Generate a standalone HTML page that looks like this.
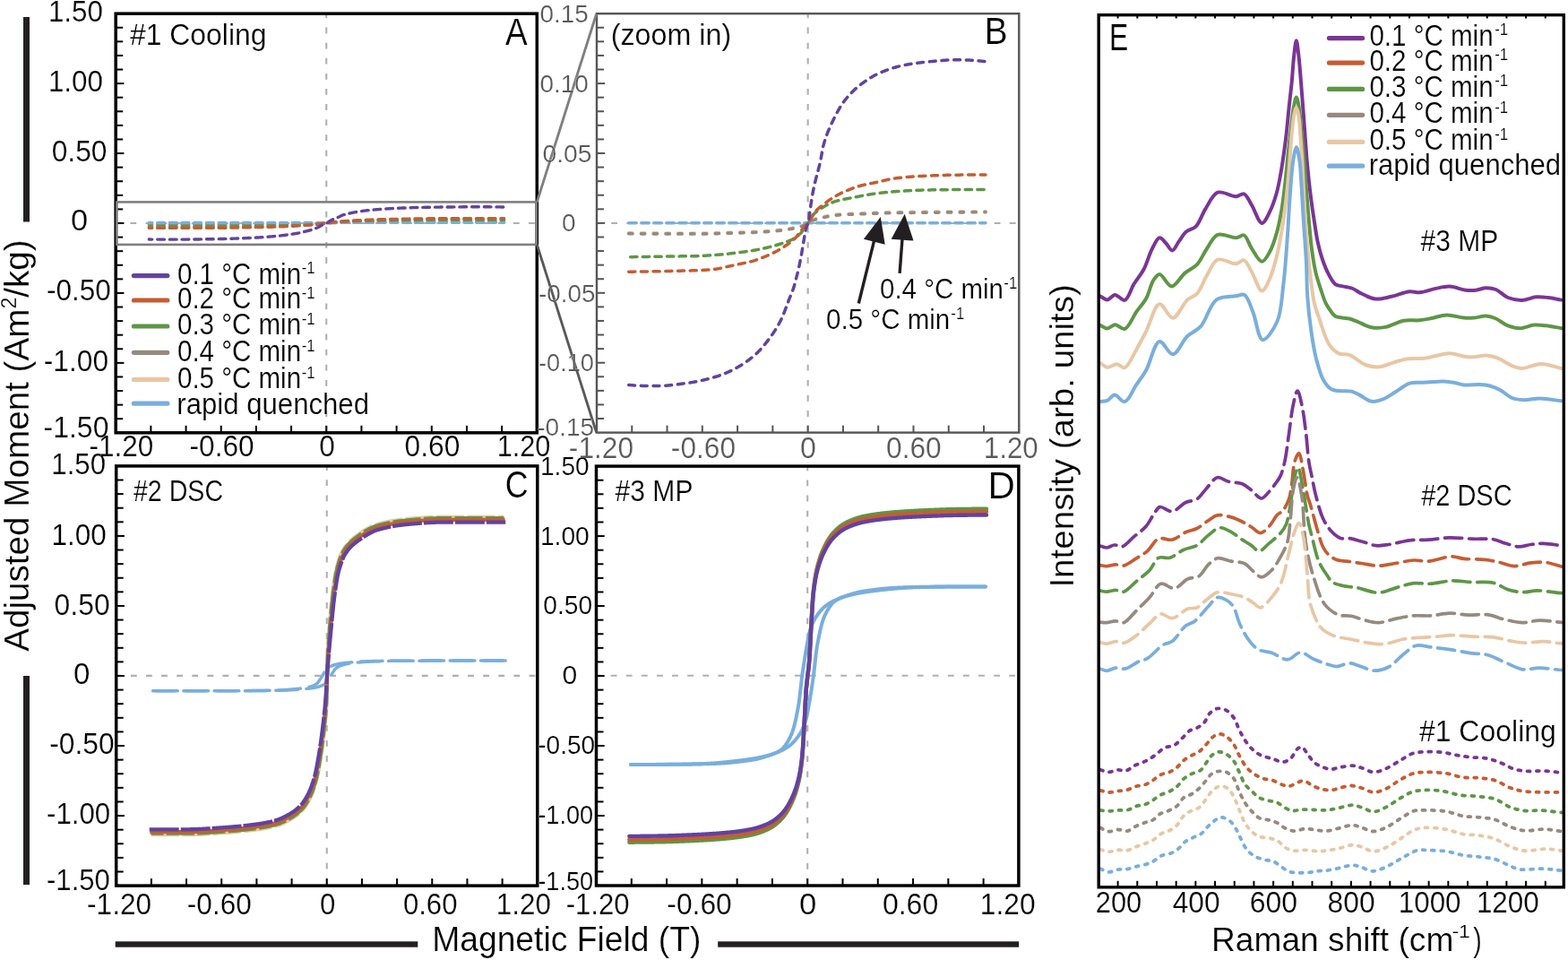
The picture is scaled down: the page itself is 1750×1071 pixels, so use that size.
<!DOCTYPE html>
<html><head><meta charset="utf-8"><title>Figure</title>
<style>html,body{margin:0;padding:0;background:#fff;overflow:hidden}svg{display:block}text{stroke:#fff;stroke-width:0.22px}</style>
</head><body>
<svg width="1750" height="1071" viewBox="0 0 1750 1071" font-family='"Liberation Sans", Arial, sans-serif'>
<rect width="1750" height="1071" fill="#fff"/>
<line x1="129.2" y1="249" x2="599.3" y2="249" stroke="#b0b0b0" stroke-width="2.1" stroke-dasharray="6.8 10.3" stroke-dashoffset="0.9"/>
<line x1="364.25" y1="15.2" x2="364.25" y2="482.8" stroke="#b0b0b0" stroke-width="2.1" stroke-dasharray="6.8 10.3" stroke-dashoffset="1.7"/>
<line x1="129.2" y1="30.79" x2="137.2" y2="30.79" stroke="#000" stroke-width="2" stroke-linecap="butt"/>
<line x1="129.2" y1="46.37" x2="137.2" y2="46.37" stroke="#000" stroke-width="2" stroke-linecap="butt"/>
<line x1="129.2" y1="61.96" x2="137.2" y2="61.96" stroke="#000" stroke-width="2" stroke-linecap="butt"/>
<line x1="129.2" y1="77.55" x2="137.2" y2="77.55" stroke="#000" stroke-width="2" stroke-linecap="butt"/>
<line x1="129.2" y1="93.13" x2="138.4" y2="93.13" stroke="#000" stroke-width="2" stroke-linecap="butt"/>
<line x1="129.2" y1="108.72" x2="137.2" y2="108.72" stroke="#000" stroke-width="2" stroke-linecap="butt"/>
<line x1="129.2" y1="124.31" x2="137.2" y2="124.31" stroke="#000" stroke-width="2" stroke-linecap="butt"/>
<line x1="129.2" y1="139.89" x2="137.2" y2="139.89" stroke="#000" stroke-width="2" stroke-linecap="butt"/>
<line x1="129.2" y1="155.48" x2="137.2" y2="155.48" stroke="#000" stroke-width="2" stroke-linecap="butt"/>
<line x1="129.2" y1="171.07" x2="138.4" y2="171.07" stroke="#000" stroke-width="2" stroke-linecap="butt"/>
<line x1="129.2" y1="186.65" x2="137.2" y2="186.65" stroke="#000" stroke-width="2" stroke-linecap="butt"/>
<line x1="129.2" y1="202.24" x2="137.2" y2="202.24" stroke="#000" stroke-width="2" stroke-linecap="butt"/>
<line x1="129.2" y1="217.83" x2="137.2" y2="217.83" stroke="#000" stroke-width="2" stroke-linecap="butt"/>
<line x1="129.2" y1="233.41" x2="137.2" y2="233.41" stroke="#000" stroke-width="2" stroke-linecap="butt"/>
<line x1="129.2" y1="249" x2="138.4" y2="249" stroke="#000" stroke-width="2" stroke-linecap="butt"/>
<line x1="129.2" y1="264.59" x2="137.2" y2="264.59" stroke="#000" stroke-width="2" stroke-linecap="butt"/>
<line x1="129.2" y1="280.17" x2="137.2" y2="280.17" stroke="#000" stroke-width="2" stroke-linecap="butt"/>
<line x1="129.2" y1="295.76" x2="137.2" y2="295.76" stroke="#000" stroke-width="2" stroke-linecap="butt"/>
<line x1="129.2" y1="311.35" x2="137.2" y2="311.35" stroke="#000" stroke-width="2" stroke-linecap="butt"/>
<line x1="129.2" y1="326.93" x2="138.4" y2="326.93" stroke="#000" stroke-width="2" stroke-linecap="butt"/>
<line x1="129.2" y1="342.52" x2="137.2" y2="342.52" stroke="#000" stroke-width="2" stroke-linecap="butt"/>
<line x1="129.2" y1="358.11" x2="137.2" y2="358.11" stroke="#000" stroke-width="2" stroke-linecap="butt"/>
<line x1="129.2" y1="373.69" x2="137.2" y2="373.69" stroke="#000" stroke-width="2" stroke-linecap="butt"/>
<line x1="129.2" y1="389.28" x2="137.2" y2="389.28" stroke="#000" stroke-width="2" stroke-linecap="butt"/>
<line x1="129.2" y1="404.87" x2="138.4" y2="404.87" stroke="#000" stroke-width="2" stroke-linecap="butt"/>
<line x1="129.2" y1="420.45" x2="137.2" y2="420.45" stroke="#000" stroke-width="2" stroke-linecap="butt"/>
<line x1="129.2" y1="436.04" x2="137.2" y2="436.04" stroke="#000" stroke-width="2" stroke-linecap="butt"/>
<line x1="129.2" y1="451.63" x2="137.2" y2="451.63" stroke="#000" stroke-width="2" stroke-linecap="butt"/>
<line x1="129.2" y1="467.21" x2="137.2" y2="467.21" stroke="#000" stroke-width="2" stroke-linecap="butt"/>
<line x1="168.38" y1="482.8" x2="168.38" y2="474.8" stroke="#000" stroke-width="2" stroke-linecap="butt"/>
<line x1="207.55" y1="482.8" x2="207.55" y2="474.8" stroke="#000" stroke-width="2" stroke-linecap="butt"/>
<line x1="246.72" y1="482.8" x2="246.72" y2="474.8" stroke="#000" stroke-width="2" stroke-linecap="butt"/>
<line x1="285.9" y1="482.8" x2="285.9" y2="474.8" stroke="#000" stroke-width="2" stroke-linecap="butt"/>
<line x1="325.07" y1="482.8" x2="325.07" y2="474.8" stroke="#000" stroke-width="2" stroke-linecap="butt"/>
<line x1="364.25" y1="482.8" x2="364.25" y2="474.8" stroke="#000" stroke-width="2" stroke-linecap="butt"/>
<line x1="403.43" y1="482.8" x2="403.43" y2="474.8" stroke="#000" stroke-width="2" stroke-linecap="butt"/>
<line x1="442.6" y1="482.8" x2="442.6" y2="474.8" stroke="#000" stroke-width="2" stroke-linecap="butt"/>
<line x1="481.78" y1="482.8" x2="481.78" y2="474.8" stroke="#000" stroke-width="2" stroke-linecap="butt"/>
<line x1="520.95" y1="482.8" x2="520.95" y2="474.8" stroke="#000" stroke-width="2" stroke-linecap="butt"/>
<line x1="560.12" y1="482.8" x2="560.12" y2="474.8" stroke="#000" stroke-width="2" stroke-linecap="butt"/>
<rect x="129.2" y="15.2" width="470.1" height="467.6" fill="none" stroke="#000" stroke-width="3.5"/>
<line x1="666" y1="249" x2="1137.3" y2="249" stroke="#b0b0b0" stroke-width="2.1" stroke-dasharray="6.8 10.3" stroke-dashoffset="0.9"/>
<line x1="901.65" y1="15.2" x2="901.65" y2="482.6" stroke="#b0b0b0" stroke-width="2.1" stroke-dasharray="6.8 10.3" stroke-dashoffset="1.7"/>
<line x1="666" y1="30.78" x2="674" y2="30.78" stroke="#555" stroke-width="2" stroke-linecap="butt"/>
<line x1="666" y1="46.36" x2="674" y2="46.36" stroke="#555" stroke-width="2" stroke-linecap="butt"/>
<line x1="666" y1="61.94" x2="674" y2="61.94" stroke="#555" stroke-width="2" stroke-linecap="butt"/>
<line x1="666" y1="77.52" x2="674" y2="77.52" stroke="#555" stroke-width="2" stroke-linecap="butt"/>
<line x1="666" y1="93.1" x2="675.2" y2="93.1" stroke="#555" stroke-width="2" stroke-linecap="butt"/>
<line x1="666" y1="108.68" x2="674" y2="108.68" stroke="#555" stroke-width="2" stroke-linecap="butt"/>
<line x1="666" y1="124.26" x2="674" y2="124.26" stroke="#555" stroke-width="2" stroke-linecap="butt"/>
<line x1="666" y1="139.84" x2="674" y2="139.84" stroke="#555" stroke-width="2" stroke-linecap="butt"/>
<line x1="666" y1="155.42" x2="674" y2="155.42" stroke="#555" stroke-width="2" stroke-linecap="butt"/>
<line x1="666" y1="171" x2="675.2" y2="171" stroke="#555" stroke-width="2" stroke-linecap="butt"/>
<line x1="666" y1="186.58" x2="674" y2="186.58" stroke="#555" stroke-width="2" stroke-linecap="butt"/>
<line x1="666" y1="202.16" x2="674" y2="202.16" stroke="#555" stroke-width="2" stroke-linecap="butt"/>
<line x1="666" y1="217.74" x2="674" y2="217.74" stroke="#555" stroke-width="2" stroke-linecap="butt"/>
<line x1="666" y1="233.32" x2="674" y2="233.32" stroke="#555" stroke-width="2" stroke-linecap="butt"/>
<line x1="666" y1="248.9" x2="675.2" y2="248.9" stroke="#555" stroke-width="2" stroke-linecap="butt"/>
<line x1="666" y1="264.48" x2="674" y2="264.48" stroke="#555" stroke-width="2" stroke-linecap="butt"/>
<line x1="666" y1="280.06" x2="674" y2="280.06" stroke="#555" stroke-width="2" stroke-linecap="butt"/>
<line x1="666" y1="295.64" x2="674" y2="295.64" stroke="#555" stroke-width="2" stroke-linecap="butt"/>
<line x1="666" y1="311.22" x2="674" y2="311.22" stroke="#555" stroke-width="2" stroke-linecap="butt"/>
<line x1="666" y1="326.8" x2="675.2" y2="326.8" stroke="#555" stroke-width="2" stroke-linecap="butt"/>
<line x1="666" y1="342.38" x2="674" y2="342.38" stroke="#555" stroke-width="2" stroke-linecap="butt"/>
<line x1="666" y1="357.96" x2="674" y2="357.96" stroke="#555" stroke-width="2" stroke-linecap="butt"/>
<line x1="666" y1="373.54" x2="674" y2="373.54" stroke="#555" stroke-width="2" stroke-linecap="butt"/>
<line x1="666" y1="389.12" x2="674" y2="389.12" stroke="#555" stroke-width="2" stroke-linecap="butt"/>
<line x1="666" y1="404.7" x2="675.2" y2="404.7" stroke="#555" stroke-width="2" stroke-linecap="butt"/>
<line x1="666" y1="420.28" x2="674" y2="420.28" stroke="#555" stroke-width="2" stroke-linecap="butt"/>
<line x1="666" y1="435.86" x2="674" y2="435.86" stroke="#555" stroke-width="2" stroke-linecap="butt"/>
<line x1="666" y1="451.44" x2="674" y2="451.44" stroke="#555" stroke-width="2" stroke-linecap="butt"/>
<line x1="666" y1="467.02" x2="674" y2="467.02" stroke="#555" stroke-width="2" stroke-linecap="butt"/>
<line x1="705.27" y1="482.6" x2="705.27" y2="474.6" stroke="#555" stroke-width="2" stroke-linecap="butt"/>
<line x1="744.55" y1="482.6" x2="744.55" y2="474.6" stroke="#555" stroke-width="2" stroke-linecap="butt"/>
<line x1="783.82" y1="482.6" x2="783.82" y2="474.6" stroke="#555" stroke-width="2" stroke-linecap="butt"/>
<line x1="823.1" y1="482.6" x2="823.1" y2="474.6" stroke="#555" stroke-width="2" stroke-linecap="butt"/>
<line x1="862.38" y1="482.6" x2="862.38" y2="474.6" stroke="#555" stroke-width="2" stroke-linecap="butt"/>
<line x1="901.65" y1="482.6" x2="901.65" y2="474.6" stroke="#555" stroke-width="2" stroke-linecap="butt"/>
<line x1="940.92" y1="482.6" x2="940.92" y2="474.6" stroke="#555" stroke-width="2" stroke-linecap="butt"/>
<line x1="980.2" y1="482.6" x2="980.2" y2="474.6" stroke="#555" stroke-width="2" stroke-linecap="butt"/>
<line x1="1019.48" y1="482.6" x2="1019.48" y2="474.6" stroke="#555" stroke-width="2" stroke-linecap="butt"/>
<line x1="1058.75" y1="482.6" x2="1058.75" y2="474.6" stroke="#555" stroke-width="2" stroke-linecap="butt"/>
<line x1="1098.03" y1="482.6" x2="1098.03" y2="474.6" stroke="#555" stroke-width="2" stroke-linecap="butt"/>
<rect x="666" y="15.2" width="471.3" height="467.4" fill="none" stroke="#555" stroke-width="2.4"/>
<line x1="129.7" y1="753.9" x2="599.8" y2="753.9" stroke="#b0b0b0" stroke-width="2.1" stroke-dasharray="6.8 10.3" stroke-dashoffset="0.9"/>
<line x1="364.75" y1="519.9" x2="364.75" y2="988.1" stroke="#b0b0b0" stroke-width="2.1" stroke-dasharray="6.8 10.3" stroke-dashoffset="1.7"/>
<line x1="129.7" y1="535.51" x2="137.7" y2="535.51" stroke="#000" stroke-width="2" stroke-linecap="butt"/>
<line x1="129.7" y1="551.11" x2="137.7" y2="551.11" stroke="#000" stroke-width="2" stroke-linecap="butt"/>
<line x1="129.7" y1="566.72" x2="137.7" y2="566.72" stroke="#000" stroke-width="2" stroke-linecap="butt"/>
<line x1="129.7" y1="582.33" x2="137.7" y2="582.33" stroke="#000" stroke-width="2" stroke-linecap="butt"/>
<line x1="129.7" y1="597.93" x2="138.9" y2="597.93" stroke="#000" stroke-width="2" stroke-linecap="butt"/>
<line x1="129.7" y1="613.54" x2="137.7" y2="613.54" stroke="#000" stroke-width="2" stroke-linecap="butt"/>
<line x1="129.7" y1="629.15" x2="137.7" y2="629.15" stroke="#000" stroke-width="2" stroke-linecap="butt"/>
<line x1="129.7" y1="644.75" x2="137.7" y2="644.75" stroke="#000" stroke-width="2" stroke-linecap="butt"/>
<line x1="129.7" y1="660.36" x2="137.7" y2="660.36" stroke="#000" stroke-width="2" stroke-linecap="butt"/>
<line x1="129.7" y1="675.97" x2="138.9" y2="675.97" stroke="#000" stroke-width="2" stroke-linecap="butt"/>
<line x1="129.7" y1="691.57" x2="137.7" y2="691.57" stroke="#000" stroke-width="2" stroke-linecap="butt"/>
<line x1="129.7" y1="707.18" x2="137.7" y2="707.18" stroke="#000" stroke-width="2" stroke-linecap="butt"/>
<line x1="129.7" y1="722.79" x2="137.7" y2="722.79" stroke="#000" stroke-width="2" stroke-linecap="butt"/>
<line x1="129.7" y1="738.39" x2="137.7" y2="738.39" stroke="#000" stroke-width="2" stroke-linecap="butt"/>
<line x1="129.7" y1="754" x2="138.9" y2="754" stroke="#000" stroke-width="2" stroke-linecap="butt"/>
<line x1="129.7" y1="769.61" x2="137.7" y2="769.61" stroke="#000" stroke-width="2" stroke-linecap="butt"/>
<line x1="129.7" y1="785.21" x2="137.7" y2="785.21" stroke="#000" stroke-width="2" stroke-linecap="butt"/>
<line x1="129.7" y1="800.82" x2="137.7" y2="800.82" stroke="#000" stroke-width="2" stroke-linecap="butt"/>
<line x1="129.7" y1="816.43" x2="137.7" y2="816.43" stroke="#000" stroke-width="2" stroke-linecap="butt"/>
<line x1="129.7" y1="832.03" x2="138.9" y2="832.03" stroke="#000" stroke-width="2" stroke-linecap="butt"/>
<line x1="129.7" y1="847.64" x2="137.7" y2="847.64" stroke="#000" stroke-width="2" stroke-linecap="butt"/>
<line x1="129.7" y1="863.25" x2="137.7" y2="863.25" stroke="#000" stroke-width="2" stroke-linecap="butt"/>
<line x1="129.7" y1="878.85" x2="137.7" y2="878.85" stroke="#000" stroke-width="2" stroke-linecap="butt"/>
<line x1="129.7" y1="894.46" x2="137.7" y2="894.46" stroke="#000" stroke-width="2" stroke-linecap="butt"/>
<line x1="129.7" y1="910.07" x2="138.9" y2="910.07" stroke="#000" stroke-width="2" stroke-linecap="butt"/>
<line x1="129.7" y1="925.67" x2="137.7" y2="925.67" stroke="#000" stroke-width="2" stroke-linecap="butt"/>
<line x1="129.7" y1="941.28" x2="137.7" y2="941.28" stroke="#000" stroke-width="2" stroke-linecap="butt"/>
<line x1="129.7" y1="956.89" x2="137.7" y2="956.89" stroke="#000" stroke-width="2" stroke-linecap="butt"/>
<line x1="129.7" y1="972.49" x2="137.7" y2="972.49" stroke="#000" stroke-width="2" stroke-linecap="butt"/>
<line x1="168.88" y1="988.1" x2="168.88" y2="980.1" stroke="#000" stroke-width="2" stroke-linecap="butt"/>
<line x1="208.05" y1="988.1" x2="208.05" y2="980.1" stroke="#000" stroke-width="2" stroke-linecap="butt"/>
<line x1="247.22" y1="988.1" x2="247.22" y2="980.1" stroke="#000" stroke-width="2" stroke-linecap="butt"/>
<line x1="286.4" y1="988.1" x2="286.4" y2="980.1" stroke="#000" stroke-width="2" stroke-linecap="butt"/>
<line x1="325.57" y1="988.1" x2="325.57" y2="980.1" stroke="#000" stroke-width="2" stroke-linecap="butt"/>
<line x1="364.75" y1="988.1" x2="364.75" y2="980.1" stroke="#000" stroke-width="2" stroke-linecap="butt"/>
<line x1="403.93" y1="988.1" x2="403.93" y2="980.1" stroke="#000" stroke-width="2" stroke-linecap="butt"/>
<line x1="443.1" y1="988.1" x2="443.1" y2="980.1" stroke="#000" stroke-width="2" stroke-linecap="butt"/>
<line x1="482.28" y1="988.1" x2="482.28" y2="980.1" stroke="#000" stroke-width="2" stroke-linecap="butt"/>
<line x1="521.45" y1="988.1" x2="521.45" y2="980.1" stroke="#000" stroke-width="2" stroke-linecap="butt"/>
<line x1="560.62" y1="988.1" x2="560.62" y2="980.1" stroke="#000" stroke-width="2" stroke-linecap="butt"/>
<rect x="129.7" y="519.9" width="470.1" height="468.2" fill="none" stroke="#000" stroke-width="3.5"/>
<line x1="665.5" y1="753.7" x2="1136.9" y2="753.7" stroke="#b0b0b0" stroke-width="2.1" stroke-dasharray="6.8 10.3" stroke-dashoffset="0.9"/>
<line x1="901.2" y1="520.1" x2="901.2" y2="988" stroke="#b0b0b0" stroke-width="2.1" stroke-dasharray="6.8 10.3" stroke-dashoffset="1.7"/>
<line x1="665.5" y1="535.7" x2="673.5" y2="535.7" stroke="#000" stroke-width="2" stroke-linecap="butt"/>
<line x1="665.5" y1="551.29" x2="673.5" y2="551.29" stroke="#000" stroke-width="2" stroke-linecap="butt"/>
<line x1="665.5" y1="566.89" x2="673.5" y2="566.89" stroke="#000" stroke-width="2" stroke-linecap="butt"/>
<line x1="665.5" y1="582.49" x2="673.5" y2="582.49" stroke="#000" stroke-width="2" stroke-linecap="butt"/>
<line x1="665.5" y1="598.08" x2="674.7" y2="598.08" stroke="#000" stroke-width="2" stroke-linecap="butt"/>
<line x1="665.5" y1="613.68" x2="673.5" y2="613.68" stroke="#000" stroke-width="2" stroke-linecap="butt"/>
<line x1="665.5" y1="629.28" x2="673.5" y2="629.28" stroke="#000" stroke-width="2" stroke-linecap="butt"/>
<line x1="665.5" y1="644.87" x2="673.5" y2="644.87" stroke="#000" stroke-width="2" stroke-linecap="butt"/>
<line x1="665.5" y1="660.47" x2="673.5" y2="660.47" stroke="#000" stroke-width="2" stroke-linecap="butt"/>
<line x1="665.5" y1="676.07" x2="674.7" y2="676.07" stroke="#000" stroke-width="2" stroke-linecap="butt"/>
<line x1="665.5" y1="691.66" x2="673.5" y2="691.66" stroke="#000" stroke-width="2" stroke-linecap="butt"/>
<line x1="665.5" y1="707.26" x2="673.5" y2="707.26" stroke="#000" stroke-width="2" stroke-linecap="butt"/>
<line x1="665.5" y1="722.86" x2="673.5" y2="722.86" stroke="#000" stroke-width="2" stroke-linecap="butt"/>
<line x1="665.5" y1="738.45" x2="673.5" y2="738.45" stroke="#000" stroke-width="2" stroke-linecap="butt"/>
<line x1="665.5" y1="754.05" x2="674.7" y2="754.05" stroke="#000" stroke-width="2" stroke-linecap="butt"/>
<line x1="665.5" y1="769.65" x2="673.5" y2="769.65" stroke="#000" stroke-width="2" stroke-linecap="butt"/>
<line x1="665.5" y1="785.24" x2="673.5" y2="785.24" stroke="#000" stroke-width="2" stroke-linecap="butt"/>
<line x1="665.5" y1="800.84" x2="673.5" y2="800.84" stroke="#000" stroke-width="2" stroke-linecap="butt"/>
<line x1="665.5" y1="816.44" x2="673.5" y2="816.44" stroke="#000" stroke-width="2" stroke-linecap="butt"/>
<line x1="665.5" y1="832.03" x2="674.7" y2="832.03" stroke="#000" stroke-width="2" stroke-linecap="butt"/>
<line x1="665.5" y1="847.63" x2="673.5" y2="847.63" stroke="#000" stroke-width="2" stroke-linecap="butt"/>
<line x1="665.5" y1="863.23" x2="673.5" y2="863.23" stroke="#000" stroke-width="2" stroke-linecap="butt"/>
<line x1="665.5" y1="878.82" x2="673.5" y2="878.82" stroke="#000" stroke-width="2" stroke-linecap="butt"/>
<line x1="665.5" y1="894.42" x2="673.5" y2="894.42" stroke="#000" stroke-width="2" stroke-linecap="butt"/>
<line x1="665.5" y1="910.02" x2="674.7" y2="910.02" stroke="#000" stroke-width="2" stroke-linecap="butt"/>
<line x1="665.5" y1="925.61" x2="673.5" y2="925.61" stroke="#000" stroke-width="2" stroke-linecap="butt"/>
<line x1="665.5" y1="941.21" x2="673.5" y2="941.21" stroke="#000" stroke-width="2" stroke-linecap="butt"/>
<line x1="665.5" y1="956.81" x2="673.5" y2="956.81" stroke="#000" stroke-width="2" stroke-linecap="butt"/>
<line x1="665.5" y1="972.4" x2="673.5" y2="972.4" stroke="#000" stroke-width="2" stroke-linecap="butt"/>
<line x1="704.78" y1="988" x2="704.78" y2="980" stroke="#000" stroke-width="2" stroke-linecap="butt"/>
<line x1="744.07" y1="988" x2="744.07" y2="980" stroke="#000" stroke-width="2" stroke-linecap="butt"/>
<line x1="783.35" y1="988" x2="783.35" y2="980" stroke="#000" stroke-width="2" stroke-linecap="butt"/>
<line x1="822.63" y1="988" x2="822.63" y2="980" stroke="#000" stroke-width="2" stroke-linecap="butt"/>
<line x1="861.92" y1="988" x2="861.92" y2="980" stroke="#000" stroke-width="2" stroke-linecap="butt"/>
<line x1="901.2" y1="988" x2="901.2" y2="980" stroke="#000" stroke-width="2" stroke-linecap="butt"/>
<line x1="940.48" y1="988" x2="940.48" y2="980" stroke="#000" stroke-width="2" stroke-linecap="butt"/>
<line x1="979.77" y1="988" x2="979.77" y2="980" stroke="#000" stroke-width="2" stroke-linecap="butt"/>
<line x1="1019.05" y1="988" x2="1019.05" y2="980" stroke="#000" stroke-width="2" stroke-linecap="butt"/>
<line x1="1058.33" y1="988" x2="1058.33" y2="980" stroke="#000" stroke-width="2" stroke-linecap="butt"/>
<line x1="1097.62" y1="988" x2="1097.62" y2="980" stroke="#000" stroke-width="2" stroke-linecap="butt"/>
<rect x="665.5" y="520.1" width="471.4" height="467.9" fill="none" stroke="#000" stroke-width="3.5"/>
<path d="M701.7,259.7 L702.5,259.71 L703.3,259.71 L704.09,259.72 L704.89,259.72 L705.69,259.73 L706.49,259.73 L707.29,259.74 L708.09,259.74 L708.88,259.75 L709.68,259.75 L710.48,259.76 L711.28,259.76 L712.08,259.77 L712.87,259.77 L713.67,259.77 L714.47,259.78 L715.27,259.78 L716.07,259.79 L716.87,259.79 L717.66,259.79 L718.46,259.8 L719.26,259.8 L720.06,259.81 L720.86,259.81 L721.65,259.81 L722.45,259.82 L723.25,259.82 L724.05,259.82 L724.85,259.83 L725.65,259.83 L726.44,259.83 L727.24,259.83 L728.04,259.84 L728.84,259.84 L729.64,259.84 L730.44,259.84 L731.23,259.85 L732.03,259.85 L732.83,259.85 L733.63,259.85 L734.43,259.86 L735.22,259.86 L736.02,259.86 L736.82,259.86 L737.62,259.86 L738.42,259.87 L739.22,259.87 L740.01,259.87 L740.81,259.87 L741.61,259.87 L742.41,259.87 L743.21,259.88 L744,259.88 L744.8,259.88 L745.6,259.88 L746.4,259.88 L747.2,259.88 L748,259.88 L748.79,259.88 L749.59,259.89 L750.39,259.89 L751.19,259.89 L751.99,259.89 L752.78,259.89 L753.58,259.89 L754.38,259.89 L755.18,259.89 L755.98,259.89 L756.78,259.89 L757.57,259.89 L758.37,259.89 L759.17,259.89 L759.97,259.89 L760.77,259.9 L761.56,259.9 L762.36,259.9 L763.16,259.9 L763.96,259.9 L764.76,259.9 L765.56,259.9 L766.35,259.9 L767.15,259.9 L767.95,259.9 L768.75,259.9 L769.55,259.9 L770.34,259.9 L771.14,259.9 L771.94,259.9 L772.74,259.9 L773.54,259.9 L774.34,259.9 L775.13,259.9 L775.93,259.9 L776.73,259.9 L777.53,259.9 L778.33,259.9 L779.13,259.9 L779.92,259.9 L780.72,259.9 L781.52,259.9 L782.32,259.9 L783.12,259.9 L783.91,259.9 L784.71,259.9 L785.51,259.9 L786.31,259.89 L787.11,259.89 L787.91,259.88 L788.7,259.87 L789.5,259.86 L790.3,259.85 L791.1,259.83 L791.9,259.82 L792.69,259.8 L793.49,259.78 L794.29,259.76 L795.09,259.74 L795.89,259.72 L796.69,259.69 L797.48,259.67 L798.28,259.64 L799.08,259.62 L799.88,259.59 L800.68,259.57 L801.47,259.54 L802.27,259.51 L803.07,259.49 L803.87,259.46 L804.67,259.43 L805.47,259.41 L806.26,259.38 L807.06,259.35 L807.86,259.33 L808.66,259.3 L809.46,259.28 L810.25,259.25 L811.05,259.23 L811.85,259.21 L812.65,259.19 L813.45,259.16 L814.25,259.14 L815.04,259.12 L815.84,259.1 L816.64,259.08 L817.44,259.06 L818.24,259.04 L819.03,259.02 L819.83,259 L820.63,258.98 L821.43,258.96 L822.23,258.94 L823.03,258.92 L823.82,258.9 L824.62,258.88 L825.42,258.86 L826.22,258.84 L827.02,258.82 L827.82,258.8 L828.61,258.77 L829.41,258.75 L830.21,258.73 L831.01,258.7 L831.81,258.68 L832.6,258.66 L833.4,258.63 L834.2,258.6 L835,258.58 L835.8,258.55 L836.6,258.52 L837.39,258.49 L838.19,258.46 L838.99,258.43 L839.79,258.4 L840.59,258.37 L841.38,258.33 L842.18,258.3 L842.98,258.26 L843.78,258.22 L844.58,258.18 L845.38,258.14 L846.17,258.1 L846.97,258.06 L847.77,258.01 L848.57,257.97 L849.37,257.92 L850.16,257.87 L850.96,257.82 L851.76,257.77 L852.56,257.72 L853.36,257.67 L854.16,257.61 L854.95,257.56 L855.75,257.5 L856.55,257.44 L857.35,257.38 L858.15,257.32 L858.94,257.26 L859.74,257.2 L860.54,257.13 L861.34,257.07 L862.14,257 L862.94,256.93 L863.73,256.87 L864.53,256.8 L865.33,256.72 L866.13,256.65 L866.93,256.58 L867.72,256.5 L868.52,256.42 L869.32,256.33 L870.12,256.25 L870.92,256.15 L871.72,256.05 L872.51,255.95 L873.31,255.85 L874.11,255.74 L874.91,255.63 L875.71,255.52 L876.51,255.4 L877.3,255.28 L878.1,255.15 L878.9,255.03 L879.7,254.9 L880.5,254.77 L881.29,254.63 L882.09,254.5 L882.89,254.36 L883.69,254.22 L884.49,254.08 L885.29,253.93 L886.08,253.78 L886.88,253.62 L887.68,253.46 L888.48,253.28 L889.28,253.1 L890.07,252.91 L890.87,252.71 L891.67,252.49 L892.47,252.27 L893.27,252.03 L894.07,251.78 L894.86,251.49 L895.66,251.15 L896.46,250.74 L897.26,250.3 L898.06,249.82 L898.85,249.33 L899.65,248.83 L900.45,248.35 L901.25,247.89 L902.05,247.47 L902.85,247.05 L903.64,246.63 L904.44,246.21 L905.24,245.81 L906.04,245.44 L906.84,245.1 L907.63,244.8 L908.43,244.52 L909.23,244.25 L910.03,243.99 L910.83,243.75 L911.63,243.51 L912.42,243.28 L913.22,243.06 L914.02,242.85 L914.82,242.64 L915.62,242.44 L916.41,242.25 L917.21,242.06 L918.01,241.88 L918.81,241.7 L919.61,241.52 L920.41,241.34 L921.2,241.16 L922,240.99 L922.8,240.81 L923.6,240.64 L924.4,240.47 L925.19,240.31 L925.99,240.15 L926.79,240 L927.59,239.85 L928.39,239.72 L929.19,239.59 L929.98,239.47 L930.78,239.36 L931.58,239.26 L932.38,239.17 L933.18,239.1 L933.98,239.04 L934.77,238.98 L935.57,238.92 L936.37,238.86 L937.17,238.8 L937.97,238.75 L938.76,238.7 L939.56,238.65 L940.36,238.61 L941.16,238.56 L941.96,238.52 L942.76,238.48 L943.55,238.44 L944.35,238.4 L945.15,238.36 L945.95,238.32 L946.75,238.29 L947.54,238.25 L948.34,238.22 L949.14,238.19 L949.94,238.16 L950.74,238.12 L951.54,238.09 L952.33,238.06 L953.13,238.03 L953.93,238 L954.73,237.97 L955.53,237.94 L956.32,237.91 L957.12,237.88 L957.92,237.85 L958.72,237.82 L959.52,237.79 L960.32,237.76 L961.11,237.73 L961.91,237.7 L962.71,237.66 L963.51,237.63 L964.31,237.6 L965.1,237.57 L965.9,237.54 L966.7,237.51 L967.5,237.48 L968.3,237.45 L969.1,237.41 L969.89,237.38 L970.69,237.35 L971.49,237.32 L972.29,237.29 L973.09,237.26 L973.88,237.23 L974.68,237.2 L975.48,237.17 L976.28,237.15 L977.08,237.12 L977.88,237.09 L978.67,237.06 L979.47,237.03 L980.27,237.01 L981.07,236.98 L981.87,236.95 L982.67,236.93 L983.46,236.9 L984.26,236.88 L985.06,236.85 L985.86,236.83 L986.66,236.8 L987.45,236.78 L988.25,236.76 L989.05,236.74 L989.85,236.72 L990.65,236.69 L991.45,236.67 L992.24,236.66 L993.04,236.64 L993.84,236.62 L994.64,236.6 L995.44,236.58 L996.23,236.57 L997.03,236.55 L997.83,236.54 L998.63,236.52 L999.43,236.51 L1000.23,236.5 L1001.02,236.48 L1001.82,236.47 L1002.62,236.46 L1003.42,236.45 L1004.22,236.44 L1005.01,236.43 L1005.81,236.42 L1006.61,236.4 L1007.41,236.39 L1008.21,236.38 L1009.01,236.37 L1009.8,236.36 L1010.6,236.35 L1011.4,236.34 L1012.2,236.33 L1013,236.32 L1013.79,236.32 L1014.59,236.31 L1015.39,236.3 L1016.19,236.29 L1016.99,236.28 L1017.79,236.27 L1018.58,236.26 L1019.38,236.25 L1020.18,236.25 L1020.98,236.24 L1021.78,236.23 L1022.57,236.22 L1023.37,236.22 L1024.17,236.21 L1024.97,236.2 L1025.77,236.19 L1026.57,236.19 L1027.36,236.18 L1028.16,236.17 L1028.96,236.16 L1029.76,236.16 L1030.56,236.15 L1031.36,236.14 L1032.15,236.14 L1032.95,236.13 L1033.75,236.12 L1034.55,236.12 L1035.35,236.11 L1036.14,236.11 L1036.94,236.1 L1037.74,236.09 L1038.54,236.09 L1039.34,236.08 L1040.14,236.07 L1040.93,236.07 L1041.73,236.06 L1042.53,236.06 L1043.33,236.05 L1044.13,236.04 L1044.92,236.04 L1045.72,236.03 L1046.52,236.03 L1047.32,236.02 L1048.12,236.01 L1048.92,236.01 L1049.71,236 L1050.51,236 L1051.31,235.99 L1052.11,235.98 L1052.91,235.98 L1053.7,235.97 L1054.5,235.97 L1055.3,235.96 L1056.1,235.96 L1056.9,235.95 L1057.7,235.94 L1058.49,235.94 L1059.29,235.93 L1060.09,235.93 L1060.89,235.92 L1061.69,235.92 L1062.48,235.91 L1063.28,235.9 L1064.08,235.9 L1064.88,235.89 L1065.68,235.89 L1066.48,235.88 L1067.27,235.88 L1068.07,235.87 L1068.87,235.87 L1069.67,235.86 L1070.47,235.86 L1071.26,235.85 L1072.06,235.85 L1072.86,235.84 L1073.66,235.84 L1074.46,235.83 L1075.26,235.83 L1076.05,235.82 L1076.85,235.82 L1077.65,235.81 L1078.45,235.81 L1079.25,235.8 L1080.05,235.8 L1080.84,235.79 L1081.64,235.79 L1082.44,235.78 L1083.24,235.78 L1084.04,235.78 L1084.83,235.77 L1085.63,235.77 L1086.43,235.76 L1087.23,235.76 L1088.03,235.75 L1088.83,235.75 L1089.62,235.75 L1090.42,235.74 L1091.22,235.74 L1092.02,235.74 L1092.82,235.73 L1093.61,235.73 L1094.41,235.72 L1095.21,235.72 L1096.01,235.72 L1096.81,235.71 L1097.61,235.71 L1098.4,235.71 L1099.2,235.7 L1100,235.7" fill="none" stroke="#e8c7a4" stroke-width="3.5" stroke-linecap="round" stroke-linejoin="round" stroke-dasharray="4.2 9.6"/>
<path d="M701.7,260.7 L702.5,260.71 L703.3,260.71 L704.09,260.72 L704.89,260.72 L705.69,260.73 L706.49,260.73 L707.29,260.74 L708.09,260.74 L708.88,260.75 L709.68,260.75 L710.48,260.76 L711.28,260.76 L712.08,260.77 L712.87,260.77 L713.67,260.77 L714.47,260.78 L715.27,260.78 L716.07,260.79 L716.87,260.79 L717.66,260.79 L718.46,260.8 L719.26,260.8 L720.06,260.81 L720.86,260.81 L721.65,260.81 L722.45,260.82 L723.25,260.82 L724.05,260.82 L724.85,260.83 L725.65,260.83 L726.44,260.83 L727.24,260.83 L728.04,260.84 L728.84,260.84 L729.64,260.84 L730.44,260.84 L731.23,260.85 L732.03,260.85 L732.83,260.85 L733.63,260.85 L734.43,260.86 L735.22,260.86 L736.02,260.86 L736.82,260.86 L737.62,260.86 L738.42,260.87 L739.22,260.87 L740.01,260.87 L740.81,260.87 L741.61,260.87 L742.41,260.87 L743.21,260.88 L744,260.88 L744.8,260.88 L745.6,260.88 L746.4,260.88 L747.2,260.88 L748,260.88 L748.79,260.88 L749.59,260.89 L750.39,260.89 L751.19,260.89 L751.99,260.89 L752.78,260.89 L753.58,260.89 L754.38,260.89 L755.18,260.89 L755.98,260.89 L756.78,260.89 L757.57,260.89 L758.37,260.89 L759.17,260.89 L759.97,260.89 L760.77,260.9 L761.56,260.9 L762.36,260.9 L763.16,260.9 L763.96,260.9 L764.76,260.9 L765.56,260.9 L766.35,260.9 L767.15,260.9 L767.95,260.9 L768.75,260.9 L769.55,260.9 L770.34,260.9 L771.14,260.9 L771.94,260.9 L772.74,260.9 L773.54,260.9 L774.34,260.9 L775.13,260.9 L775.93,260.9 L776.73,260.9 L777.53,260.9 L778.33,260.9 L779.13,260.9 L779.92,260.9 L780.72,260.9 L781.52,260.9 L782.32,260.9 L783.12,260.9 L783.91,260.9 L784.71,260.9 L785.51,260.9 L786.31,260.89 L787.11,260.89 L787.91,260.88 L788.7,260.87 L789.5,260.86 L790.3,260.85 L791.1,260.83 L791.9,260.82 L792.69,260.8 L793.49,260.78 L794.29,260.76 L795.09,260.74 L795.89,260.72 L796.69,260.69 L797.48,260.67 L798.28,260.64 L799.08,260.62 L799.88,260.59 L800.68,260.57 L801.47,260.54 L802.27,260.51 L803.07,260.49 L803.87,260.46 L804.67,260.43 L805.47,260.41 L806.26,260.38 L807.06,260.35 L807.86,260.33 L808.66,260.3 L809.46,260.28 L810.25,260.25 L811.05,260.23 L811.85,260.21 L812.65,260.19 L813.45,260.16 L814.25,260.14 L815.04,260.12 L815.84,260.1 L816.64,260.08 L817.44,260.06 L818.24,260.04 L819.03,260.02 L819.83,260 L820.63,259.98 L821.43,259.96 L822.23,259.94 L823.03,259.92 L823.82,259.9 L824.62,259.88 L825.42,259.86 L826.22,259.84 L827.02,259.82 L827.82,259.8 L828.61,259.77 L829.41,259.75 L830.21,259.73 L831.01,259.7 L831.81,259.68 L832.6,259.66 L833.4,259.63 L834.2,259.6 L835,259.58 L835.8,259.55 L836.6,259.52 L837.39,259.49 L838.19,259.46 L838.99,259.43 L839.79,259.4 L840.59,259.37 L841.38,259.33 L842.18,259.3 L842.98,259.26 L843.78,259.22 L844.58,259.18 L845.38,259.14 L846.17,259.1 L846.97,259.06 L847.77,259.01 L848.57,258.97 L849.37,258.92 L850.16,258.87 L850.96,258.82 L851.76,258.77 L852.56,258.72 L853.36,258.67 L854.16,258.61 L854.95,258.56 L855.75,258.5 L856.55,258.44 L857.35,258.38 L858.15,258.32 L858.94,258.26 L859.74,258.2 L860.54,258.13 L861.34,258.07 L862.14,258 L862.94,257.93 L863.73,257.87 L864.53,257.8 L865.33,257.72 L866.13,257.65 L866.93,257.58 L867.72,257.5 L868.52,257.42 L869.32,257.33 L870.12,257.25 L870.92,257.15 L871.72,257.05 L872.51,256.95 L873.31,256.85 L874.11,256.74 L874.91,256.63 L875.71,256.52 L876.51,256.4 L877.3,256.28 L878.1,256.15 L878.9,256.03 L879.7,255.9 L880.5,255.77 L881.29,255.63 L882.09,255.5 L882.89,255.36 L883.69,255.22 L884.49,255.08 L885.29,254.93 L886.08,254.78 L886.88,254.62 L887.68,254.46 L888.48,254.28 L889.28,254.1 L890.07,253.91 L890.87,253.71 L891.67,253.49 L892.47,253.27 L893.27,253.03 L894.07,252.78 L894.86,252.49 L895.66,252.15 L896.46,251.74 L897.26,251.3 L898.06,250.82 L898.85,250.33 L899.65,249.83 L900.45,249.35 L901.25,248.89 L902.05,248.47 L902.85,248.05 L903.64,247.63 L904.44,247.21 L905.24,246.81 L906.04,246.44 L906.84,246.1 L907.63,245.8 L908.43,245.52 L909.23,245.25 L910.03,244.99 L910.83,244.75 L911.63,244.51 L912.42,244.28 L913.22,244.06 L914.02,243.85 L914.82,243.64 L915.62,243.44 L916.41,243.25 L917.21,243.06 L918.01,242.88 L918.81,242.7 L919.61,242.52 L920.41,242.34 L921.2,242.16 L922,241.99 L922.8,241.81 L923.6,241.64 L924.4,241.47 L925.19,241.31 L925.99,241.15 L926.79,241 L927.59,240.85 L928.39,240.72 L929.19,240.59 L929.98,240.47 L930.78,240.36 L931.58,240.26 L932.38,240.17 L933.18,240.1 L933.98,240.04 L934.77,239.98 L935.57,239.92 L936.37,239.86 L937.17,239.8 L937.97,239.75 L938.76,239.7 L939.56,239.65 L940.36,239.61 L941.16,239.56 L941.96,239.52 L942.76,239.48 L943.55,239.44 L944.35,239.4 L945.15,239.36 L945.95,239.32 L946.75,239.29 L947.54,239.25 L948.34,239.22 L949.14,239.19 L949.94,239.16 L950.74,239.12 L951.54,239.09 L952.33,239.06 L953.13,239.03 L953.93,239 L954.73,238.97 L955.53,238.94 L956.32,238.91 L957.12,238.88 L957.92,238.85 L958.72,238.82 L959.52,238.79 L960.32,238.76 L961.11,238.73 L961.91,238.7 L962.71,238.66 L963.51,238.63 L964.31,238.6 L965.1,238.57 L965.9,238.54 L966.7,238.51 L967.5,238.48 L968.3,238.45 L969.1,238.41 L969.89,238.38 L970.69,238.35 L971.49,238.32 L972.29,238.29 L973.09,238.26 L973.88,238.23 L974.68,238.2 L975.48,238.17 L976.28,238.15 L977.08,238.12 L977.88,238.09 L978.67,238.06 L979.47,238.03 L980.27,238.01 L981.07,237.98 L981.87,237.95 L982.67,237.93 L983.46,237.9 L984.26,237.88 L985.06,237.85 L985.86,237.83 L986.66,237.8 L987.45,237.78 L988.25,237.76 L989.05,237.74 L989.85,237.72 L990.65,237.69 L991.45,237.67 L992.24,237.66 L993.04,237.64 L993.84,237.62 L994.64,237.6 L995.44,237.58 L996.23,237.57 L997.03,237.55 L997.83,237.54 L998.63,237.52 L999.43,237.51 L1000.23,237.5 L1001.02,237.48 L1001.82,237.47 L1002.62,237.46 L1003.42,237.45 L1004.22,237.44 L1005.01,237.43 L1005.81,237.42 L1006.61,237.4 L1007.41,237.39 L1008.21,237.38 L1009.01,237.37 L1009.8,237.36 L1010.6,237.35 L1011.4,237.34 L1012.2,237.33 L1013,237.32 L1013.79,237.32 L1014.59,237.31 L1015.39,237.3 L1016.19,237.29 L1016.99,237.28 L1017.79,237.27 L1018.58,237.26 L1019.38,237.25 L1020.18,237.25 L1020.98,237.24 L1021.78,237.23 L1022.57,237.22 L1023.37,237.22 L1024.17,237.21 L1024.97,237.2 L1025.77,237.19 L1026.57,237.19 L1027.36,237.18 L1028.16,237.17 L1028.96,237.16 L1029.76,237.16 L1030.56,237.15 L1031.36,237.14 L1032.15,237.14 L1032.95,237.13 L1033.75,237.12 L1034.55,237.12 L1035.35,237.11 L1036.14,237.11 L1036.94,237.1 L1037.74,237.09 L1038.54,237.09 L1039.34,237.08 L1040.14,237.07 L1040.93,237.07 L1041.73,237.06 L1042.53,237.06 L1043.33,237.05 L1044.13,237.04 L1044.92,237.04 L1045.72,237.03 L1046.52,237.03 L1047.32,237.02 L1048.12,237.01 L1048.92,237.01 L1049.71,237 L1050.51,237 L1051.31,236.99 L1052.11,236.98 L1052.91,236.98 L1053.7,236.97 L1054.5,236.97 L1055.3,236.96 L1056.1,236.96 L1056.9,236.95 L1057.7,236.94 L1058.49,236.94 L1059.29,236.93 L1060.09,236.93 L1060.89,236.92 L1061.69,236.92 L1062.48,236.91 L1063.28,236.9 L1064.08,236.9 L1064.88,236.89 L1065.68,236.89 L1066.48,236.88 L1067.27,236.88 L1068.07,236.87 L1068.87,236.87 L1069.67,236.86 L1070.47,236.86 L1071.26,236.85 L1072.06,236.85 L1072.86,236.84 L1073.66,236.84 L1074.46,236.83 L1075.26,236.83 L1076.05,236.82 L1076.85,236.82 L1077.65,236.81 L1078.45,236.81 L1079.25,236.8 L1080.05,236.8 L1080.84,236.79 L1081.64,236.79 L1082.44,236.78 L1083.24,236.78 L1084.04,236.78 L1084.83,236.77 L1085.63,236.77 L1086.43,236.76 L1087.23,236.76 L1088.03,236.75 L1088.83,236.75 L1089.62,236.75 L1090.42,236.74 L1091.22,236.74 L1092.02,236.74 L1092.82,236.73 L1093.61,236.73 L1094.41,236.72 L1095.21,236.72 L1096.01,236.72 L1096.81,236.71 L1097.61,236.71 L1098.4,236.71 L1099.2,236.7 L1100,236.7" fill="none" stroke="#968a7e" stroke-width="3.7" stroke-linecap="round" stroke-linejoin="round" stroke-dasharray="4.2 9.6"/>
<path d="M701.7,248.8 L702.5,248.8 L703.3,248.8 L704.09,248.8 L704.89,248.8 L705.69,248.8 L706.49,248.8 L707.29,248.8 L708.09,248.8 L708.88,248.8 L709.68,248.8 L710.48,248.8 L711.28,248.8 L712.08,248.8 L712.87,248.8 L713.67,248.8 L714.47,248.8 L715.27,248.8 L716.07,248.8 L716.87,248.8 L717.66,248.8 L718.46,248.8 L719.26,248.8 L720.06,248.8 L720.86,248.8 L721.65,248.8 L722.45,248.8 L723.25,248.8 L724.05,248.8 L724.85,248.8 L725.65,248.8 L726.44,248.8 L727.24,248.8 L728.04,248.8 L728.84,248.8 L729.64,248.8 L730.44,248.8 L731.23,248.8 L732.03,248.8 L732.83,248.8 L733.63,248.8 L734.43,248.8 L735.22,248.8 L736.02,248.8 L736.82,248.8 L737.62,248.8 L738.42,248.8 L739.22,248.8 L740.01,248.8 L740.81,248.8 L741.61,248.8 L742.41,248.8 L743.21,248.8 L744,248.8 L744.8,248.8 L745.6,248.8 L746.4,248.8 L747.2,248.8 L748,248.8 L748.79,248.8 L749.59,248.8 L750.39,248.8 L751.19,248.8 L751.99,248.8 L752.78,248.8 L753.58,248.8 L754.38,248.8 L755.18,248.8 L755.98,248.8 L756.78,248.8 L757.57,248.8 L758.37,248.8 L759.17,248.8 L759.97,248.8 L760.77,248.8 L761.56,248.8 L762.36,248.8 L763.16,248.8 L763.96,248.8 L764.76,248.8 L765.56,248.8 L766.35,248.8 L767.15,248.8 L767.95,248.8 L768.75,248.8 L769.55,248.8 L770.34,248.8 L771.14,248.8 L771.94,248.8 L772.74,248.8 L773.54,248.8 L774.34,248.8 L775.13,248.8 L775.93,248.8 L776.73,248.8 L777.53,248.8 L778.33,248.8 L779.13,248.8 L779.92,248.8 L780.72,248.8 L781.52,248.8 L782.32,248.8 L783.12,248.8 L783.91,248.8 L784.71,248.8 L785.51,248.8 L786.31,248.8 L787.11,248.8 L787.91,248.8 L788.7,248.8 L789.5,248.8 L790.3,248.8 L791.1,248.8 L791.9,248.8 L792.69,248.8 L793.49,248.8 L794.29,248.8 L795.09,248.8 L795.89,248.8 L796.69,248.8 L797.48,248.8 L798.28,248.8 L799.08,248.8 L799.88,248.8 L800.68,248.8 L801.47,248.8 L802.27,248.8 L803.07,248.8 L803.87,248.8 L804.67,248.8 L805.47,248.8 L806.26,248.8 L807.06,248.8 L807.86,248.8 L808.66,248.8 L809.46,248.8 L810.25,248.8 L811.05,248.8 L811.85,248.8 L812.65,248.8 L813.45,248.8 L814.25,248.8 L815.04,248.8 L815.84,248.8 L816.64,248.8 L817.44,248.8 L818.24,248.8 L819.03,248.8 L819.83,248.8 L820.63,248.8 L821.43,248.8 L822.23,248.8 L823.03,248.8 L823.82,248.8 L824.62,248.8 L825.42,248.8 L826.22,248.8 L827.02,248.8 L827.82,248.8 L828.61,248.8 L829.41,248.8 L830.21,248.8 L831.01,248.8 L831.81,248.8 L832.6,248.8 L833.4,248.8 L834.2,248.8 L835,248.8 L835.8,248.8 L836.6,248.8 L837.39,248.8 L838.19,248.8 L838.99,248.8 L839.79,248.8 L840.59,248.8 L841.38,248.8 L842.18,248.8 L842.98,248.8 L843.78,248.8 L844.58,248.8 L845.38,248.8 L846.17,248.8 L846.97,248.8 L847.77,248.8 L848.57,248.8 L849.37,248.8 L850.16,248.8 L850.96,248.8 L851.76,248.8 L852.56,248.8 L853.36,248.8 L854.16,248.8 L854.95,248.8 L855.75,248.8 L856.55,248.8 L857.35,248.8 L858.15,248.8 L858.94,248.8 L859.74,248.8 L860.54,248.8 L861.34,248.8 L862.14,248.8 L862.94,248.8 L863.73,248.8 L864.53,248.8 L865.33,248.8 L866.13,248.8 L866.93,248.8 L867.72,248.8 L868.52,248.8 L869.32,248.8 L870.12,248.8 L870.92,248.8 L871.72,248.8 L872.51,248.8 L873.31,248.8 L874.11,248.8 L874.91,248.8 L875.71,248.8 L876.51,248.8 L877.3,248.8 L878.1,248.8 L878.9,248.8 L879.7,248.8 L880.5,248.8 L881.29,248.8 L882.09,248.8 L882.89,248.8 L883.69,248.8 L884.49,248.8 L885.29,248.8 L886.08,248.8 L886.88,248.8 L887.68,248.8 L888.48,248.8 L889.28,248.8 L890.07,248.8 L890.87,248.8 L891.67,248.8 L892.47,248.8 L893.27,248.8 L894.07,248.8 L894.86,248.8 L895.66,248.8 L896.46,248.8 L897.26,248.8 L898.06,248.8 L898.85,248.8 L899.65,248.8 L900.45,248.8 L901.25,248.8 L902.05,248.8 L902.85,248.8 L903.64,248.8 L904.44,248.8 L905.24,248.8 L906.04,248.8 L906.84,248.8 L907.63,248.8 L908.43,248.8 L909.23,248.8 L910.03,248.8 L910.83,248.8 L911.63,248.8 L912.42,248.8 L913.22,248.8 L914.02,248.8 L914.82,248.8 L915.62,248.8 L916.41,248.8 L917.21,248.8 L918.01,248.8 L918.81,248.8 L919.61,248.8 L920.41,248.8 L921.2,248.8 L922,248.8 L922.8,248.8 L923.6,248.8 L924.4,248.8 L925.19,248.8 L925.99,248.8 L926.79,248.8 L927.59,248.8 L928.39,248.8 L929.19,248.8 L929.98,248.8 L930.78,248.8 L931.58,248.8 L932.38,248.8 L933.18,248.8 L933.98,248.8 L934.77,248.8 L935.57,248.8 L936.37,248.8 L937.17,248.8 L937.97,248.8 L938.76,248.8 L939.56,248.8 L940.36,248.8 L941.16,248.8 L941.96,248.8 L942.76,248.8 L943.55,248.8 L944.35,248.8 L945.15,248.8 L945.95,248.8 L946.75,248.8 L947.54,248.8 L948.34,248.8 L949.14,248.8 L949.94,248.8 L950.74,248.8 L951.54,248.8 L952.33,248.8 L953.13,248.8 L953.93,248.8 L954.73,248.8 L955.53,248.8 L956.32,248.8 L957.12,248.8 L957.92,248.8 L958.72,248.8 L959.52,248.8 L960.32,248.8 L961.11,248.8 L961.91,248.8 L962.71,248.8 L963.51,248.8 L964.31,248.8 L965.1,248.8 L965.9,248.8 L966.7,248.8 L967.5,248.8 L968.3,248.8 L969.1,248.8 L969.89,248.8 L970.69,248.8 L971.49,248.8 L972.29,248.8 L973.09,248.8 L973.88,248.8 L974.68,248.8 L975.48,248.8 L976.28,248.8 L977.08,248.8 L977.88,248.8 L978.67,248.8 L979.47,248.8 L980.27,248.8 L981.07,248.8 L981.87,248.8 L982.67,248.8 L983.46,248.8 L984.26,248.8 L985.06,248.8 L985.86,248.8 L986.66,248.8 L987.45,248.8 L988.25,248.8 L989.05,248.8 L989.85,248.8 L990.65,248.8 L991.45,248.8 L992.24,248.8 L993.04,248.8 L993.84,248.8 L994.64,248.8 L995.44,248.8 L996.23,248.8 L997.03,248.8 L997.83,248.8 L998.63,248.8 L999.43,248.8 L1000.23,248.8 L1001.02,248.8 L1001.82,248.8 L1002.62,248.8 L1003.42,248.8 L1004.22,248.8 L1005.01,248.8 L1005.81,248.8 L1006.61,248.8 L1007.41,248.8 L1008.21,248.8 L1009.01,248.8 L1009.8,248.8 L1010.6,248.8 L1011.4,248.8 L1012.2,248.8 L1013,248.8 L1013.79,248.8 L1014.59,248.8 L1015.39,248.8 L1016.19,248.8 L1016.99,248.8 L1017.79,248.8 L1018.58,248.8 L1019.38,248.8 L1020.18,248.8 L1020.98,248.8 L1021.78,248.8 L1022.57,248.8 L1023.37,248.8 L1024.17,248.8 L1024.97,248.8 L1025.77,248.8 L1026.57,248.8 L1027.36,248.8 L1028.16,248.8 L1028.96,248.8 L1029.76,248.8 L1030.56,248.8 L1031.36,248.8 L1032.15,248.8 L1032.95,248.8 L1033.75,248.8 L1034.55,248.8 L1035.35,248.8 L1036.14,248.8 L1036.94,248.8 L1037.74,248.8 L1038.54,248.8 L1039.34,248.8 L1040.14,248.8 L1040.93,248.8 L1041.73,248.8 L1042.53,248.8 L1043.33,248.8 L1044.13,248.8 L1044.92,248.8 L1045.72,248.8 L1046.52,248.8 L1047.32,248.8 L1048.12,248.8 L1048.92,248.8 L1049.71,248.8 L1050.51,248.8 L1051.31,248.8 L1052.11,248.8 L1052.91,248.8 L1053.7,248.8 L1054.5,248.8 L1055.3,248.8 L1056.1,248.8 L1056.9,248.8 L1057.7,248.8 L1058.49,248.8 L1059.29,248.8 L1060.09,248.8 L1060.89,248.8 L1061.69,248.8 L1062.48,248.8 L1063.28,248.8 L1064.08,248.8 L1064.88,248.8 L1065.68,248.8 L1066.48,248.8 L1067.27,248.8 L1068.07,248.8 L1068.87,248.8 L1069.67,248.8 L1070.47,248.8 L1071.26,248.8 L1072.06,248.8 L1072.86,248.8 L1073.66,248.8 L1074.46,248.8 L1075.26,248.8 L1076.05,248.8 L1076.85,248.8 L1077.65,248.8 L1078.45,248.8 L1079.25,248.8 L1080.05,248.8 L1080.84,248.8 L1081.64,248.8 L1082.44,248.8 L1083.24,248.8 L1084.04,248.8 L1084.83,248.8 L1085.63,248.8 L1086.43,248.8 L1087.23,248.8 L1088.03,248.8 L1088.83,248.8 L1089.62,248.8 L1090.42,248.8 L1091.22,248.8 L1092.02,248.8 L1092.82,248.8 L1093.61,248.8 L1094.41,248.8 L1095.21,248.8 L1096.01,248.8 L1096.81,248.8 L1097.61,248.8 L1098.4,248.8 L1099.2,248.8 L1100,248.8" fill="none" stroke="#79aedd" stroke-width="3.4" stroke-linecap="round" stroke-linejoin="round" stroke-dasharray="8.6 5.4"/>
<path d="M703.7,286.7 L704.49,286.69 L705.29,286.67 L706.08,286.66 L706.88,286.65 L707.67,286.64 L708.47,286.62 L709.26,286.61 L710.05,286.6 L710.85,286.58 L711.64,286.57 L712.44,286.56 L713.23,286.55 L714.02,286.53 L714.82,286.52 L715.61,286.51 L716.41,286.5 L717.2,286.48 L718,286.47 L718.79,286.46 L719.58,286.45 L720.38,286.44 L721.17,286.42 L721.97,286.41 L722.76,286.4 L723.55,286.39 L724.35,286.37 L725.14,286.36 L725.94,286.35 L726.73,286.34 L727.53,286.33 L728.32,286.31 L729.11,286.3 L729.91,286.29 L730.7,286.28 L731.5,286.27 L732.29,286.26 L733.08,286.24 L733.88,286.23 L734.67,286.22 L735.47,286.21 L736.26,286.2 L737.06,286.19 L737.85,286.17 L738.64,286.16 L739.44,286.15 L740.23,286.14 L741.03,286.13 L741.82,286.12 L742.62,286.1 L743.41,286.09 L744.2,286.08 L745,286.07 L745.79,286.06 L746.59,286.05 L747.38,286.04 L748.17,286.03 L748.97,286.01 L749.76,286 L750.56,285.99 L751.35,285.98 L752.15,285.97 L752.94,285.96 L753.73,285.95 L754.53,285.94 L755.32,285.92 L756.12,285.91 L756.91,285.9 L757.7,285.89 L758.5,285.88 L759.29,285.87 L760.09,285.86 L760.88,285.85 L761.68,285.85 L762.47,285.84 L763.26,285.83 L764.06,285.82 L764.85,285.81 L765.65,285.81 L766.44,285.8 L767.24,285.79 L768.03,285.78 L768.82,285.77 L769.62,285.77 L770.41,285.76 L771.21,285.75 L772,285.74 L772.79,285.73 L773.59,285.72 L774.38,285.7 L775.18,285.69 L775.97,285.68 L776.77,285.67 L777.56,285.65 L778.35,285.64 L779.15,285.62 L779.94,285.6 L780.74,285.58 L781.53,285.55 L782.32,285.52 L783.12,285.48 L783.91,285.43 L784.71,285.38 L785.5,285.33 L786.3,285.27 L787.09,285.22 L787.88,285.16 L788.68,285.09 L789.47,285.03 L790.27,284.97 L791.06,284.92 L791.85,284.86 L792.65,284.8 L793.44,284.75 L794.24,284.7 L795.03,284.65 L795.83,284.59 L796.62,284.54 L797.41,284.49 L798.21,284.44 L799,284.38 L799.8,284.33 L800.59,284.27 L801.39,284.22 L802.18,284.16 L802.97,284.1 L803.77,284.04 L804.56,283.97 L805.36,283.9 L806.15,283.83 L806.94,283.76 L807.74,283.68 L808.53,283.6 L809.33,283.52 L810.12,283.43 L810.92,283.34 L811.71,283.25 L812.5,283.16 L813.3,283.07 L814.09,282.98 L814.89,282.88 L815.68,282.79 L816.47,282.69 L817.27,282.59 L818.06,282.5 L818.86,282.41 L819.65,282.31 L820.45,282.22 L821.24,282.12 L822.03,282.03 L822.83,281.93 L823.62,281.83 L824.42,281.74 L825.21,281.64 L826.01,281.54 L826.8,281.44 L827.59,281.34 L828.39,281.23 L829.18,281.13 L829.98,281.02 L830.77,280.91 L831.56,280.8 L832.36,280.69 L833.15,280.58 L833.95,280.46 L834.74,280.34 L835.54,280.23 L836.33,280.11 L837.12,279.98 L837.92,279.86 L838.71,279.73 L839.51,279.6 L840.3,279.47 L841.09,279.34 L841.89,279.2 L842.68,279.07 L843.48,278.93 L844.27,278.78 L845.07,278.64 L845.86,278.49 L846.65,278.34 L847.45,278.18 L848.24,278.02 L849.04,277.86 L849.83,277.69 L850.62,277.52 L851.42,277.35 L852.21,277.17 L853.01,276.99 L853.8,276.81 L854.6,276.63 L855.39,276.44 L856.18,276.25 L856.98,276.05 L857.77,275.86 L858.57,275.66 L859.36,275.46 L860.16,275.26 L860.95,275.05 L861.74,274.84 L862.54,274.62 L863.33,274.4 L864.13,274.18 L864.92,273.96 L865.71,273.73 L866.51,273.49 L867.3,273.26 L868.1,273.01 L868.89,272.77 L869.69,272.52 L870.48,272.26 L871.27,272.01 L872.07,271.74 L872.86,271.48 L873.66,271.22 L874.45,270.96 L875.24,270.69 L876.04,270.42 L876.83,270.15 L877.63,269.87 L878.42,269.58 L879.22,269.28 L880.01,268.97 L880.8,268.65 L881.6,268.32 L882.39,267.97 L883.19,267.6 L883.98,267.21 L884.77,266.81 L885.57,266.38 L886.36,265.91 L887.16,265.42 L887.95,264.89 L888.75,264.33 L889.54,263.74 L890.33,263.12 L891.13,262.46 L891.92,261.77 L892.72,261.05 L893.51,260.29 L894.31,259.45 L895.1,258.49 L895.89,257.43 L896.69,256.3 L897.48,255.13 L898.28,253.94 L899.07,252.76 L899.86,251.62 L900.66,250.47 L901.45,249.3 L902.25,248.12 L903.04,246.94 L903.84,245.69 L904.63,244.38 L905.42,243.05 L906.22,241.76 L907.01,240.55 L907.81,239.48 L908.6,238.59 L909.39,237.8 L910.19,237.06 L910.98,236.35 L911.78,235.69 L912.57,235.06 L913.37,234.47 L914.16,233.9 L914.95,233.36 L915.75,232.84 L916.54,232.34 L917.34,231.86 L918.13,231.39 L918.93,230.93 L919.72,230.47 L920.51,230.03 L921.31,229.59 L922.1,229.16 L922.9,228.74 L923.69,228.33 L924.48,227.93 L925.28,227.54 L926.07,227.16 L926.87,226.79 L927.66,226.44 L928.46,226.1 L929.25,225.78 L930.04,225.47 L930.84,225.18 L931.63,224.9 L932.43,224.64 L933.22,224.39 L934.01,224.16 L934.81,223.94 L935.6,223.73 L936.4,223.53 L937.19,223.34 L937.99,223.15 L938.78,222.97 L939.57,222.79 L940.37,222.62 L941.16,222.46 L941.96,222.3 L942.75,222.14 L943.54,221.99 L944.34,221.84 L945.13,221.69 L945.93,221.54 L946.72,221.39 L947.52,221.25 L948.31,221.1 L949.1,220.95 L949.9,220.81 L950.69,220.66 L951.49,220.5 L952.28,220.35 L953.08,220.19 L953.87,220.04 L954.66,219.88 L955.46,219.73 L956.25,219.57 L957.05,219.42 L957.84,219.26 L958.63,219.11 L959.43,218.95 L960.22,218.8 L961.02,218.65 L961.81,218.5 L962.61,218.35 L963.4,218.2 L964.19,218.05 L964.99,217.91 L965.78,217.76 L966.58,217.62 L967.37,217.48 L968.16,217.34 L968.96,217.21 L969.75,217.07 L970.55,216.94 L971.34,216.81 L972.14,216.69 L972.93,216.56 L973.72,216.44 L974.52,216.32 L975.31,216.21 L976.11,216.1 L976.9,215.99 L977.69,215.89 L978.49,215.79 L979.28,215.69 L980.08,215.59 L980.87,215.49 L981.67,215.39 L982.46,215.3 L983.25,215.2 L984.05,215.11 L984.84,215.02 L985.64,214.93 L986.43,214.84 L987.23,214.76 L988.02,214.67 L988.81,214.59 L989.61,214.51 L990.4,214.43 L991.2,214.35 L991.99,214.27 L992.78,214.2 L993.58,214.12 L994.37,214.05 L995.17,213.98 L995.96,213.92 L996.76,213.85 L997.55,213.79 L998.34,213.72 L999.14,213.66 L999.93,213.6 L1000.73,213.55 L1001.52,213.49 L1002.31,213.44 L1003.11,213.38 L1003.9,213.32 L1004.7,213.27 L1005.49,213.22 L1006.29,213.16 L1007.08,213.11 L1007.87,213.06 L1008.67,213.01 L1009.46,212.96 L1010.26,212.91 L1011.05,212.86 L1011.85,212.81 L1012.64,212.77 L1013.43,212.72 L1014.23,212.68 L1015.02,212.63 L1015.82,212.59 L1016.61,212.55 L1017.4,212.51 L1018.2,212.48 L1018.99,212.44 L1019.79,212.4 L1020.58,212.37 L1021.38,212.34 L1022.17,212.31 L1022.96,212.28 L1023.76,212.25 L1024.55,212.23 L1025.35,212.21 L1026.14,212.19 L1026.93,212.16 L1027.73,212.14 L1028.52,212.12 L1029.32,212.1 L1030.11,212.08 L1030.91,212.06 L1031.7,212.05 L1032.49,212.03 L1033.29,212.01 L1034.08,211.99 L1034.88,211.97 L1035.67,211.96 L1036.46,211.94 L1037.26,211.92 L1038.05,211.91 L1038.85,211.89 L1039.64,211.87 L1040.44,211.86 L1041.23,211.85 L1042.02,211.83 L1042.82,211.82 L1043.61,211.8 L1044.41,211.79 L1045.2,211.78 L1046,211.76 L1046.79,211.75 L1047.58,211.74 L1048.38,211.73 L1049.17,211.72 L1049.97,211.71 L1050.76,211.7 L1051.55,211.69 L1052.35,211.68 L1053.14,211.67 L1053.94,211.66 L1054.73,211.65 L1055.53,211.64 L1056.32,211.63 L1057.11,211.63 L1057.91,211.62 L1058.7,211.61 L1059.5,211.6 L1060.29,211.6 L1061.08,211.59 L1061.88,211.59 L1062.67,211.58 L1063.47,211.57 L1064.26,211.57 L1065.06,211.56 L1065.85,211.55 L1066.64,211.55 L1067.44,211.54 L1068.23,211.54 L1069.03,211.53 L1069.82,211.53 L1070.62,211.52 L1071.41,211.51 L1072.2,211.51 L1073,211.5 L1073.79,211.5 L1074.59,211.49 L1075.38,211.49 L1076.17,211.48 L1076.97,211.48 L1077.76,211.47 L1078.56,211.47 L1079.35,211.46 L1080.15,211.46 L1080.94,211.46 L1081.73,211.45 L1082.53,211.45 L1083.32,211.44 L1084.12,211.44 L1084.91,211.44 L1085.7,211.43 L1086.5,211.43 L1087.29,211.43 L1088.09,211.42 L1088.88,211.42 L1089.68,211.42 L1090.47,211.42 L1091.26,211.41 L1092.06,211.41 L1092.85,211.41 L1093.65,211.41 L1094.44,211.41 L1095.23,211.4 L1096.03,211.4 L1096.82,211.4 L1097.62,211.4 L1098.41,211.4 L1099.21,211.4 L1100,211.4" fill="none" stroke="#5e9646" stroke-width="3.5" stroke-linecap="round" stroke-linejoin="round" stroke-dasharray="7.3 6.3"/>
<path d="M701.7,303.2 L702.5,303.19 L703.3,303.18 L704.09,303.17 L704.89,303.16 L705.69,303.15 L706.49,303.14 L707.29,303.13 L708.09,303.12 L708.88,303.1 L709.68,303.09 L710.48,303.08 L711.28,303.07 L712.08,303.06 L712.87,303.05 L713.67,303.03 L714.47,303.02 L715.27,303.01 L716.07,303 L716.87,302.98 L717.66,302.97 L718.46,302.96 L719.26,302.95 L720.06,302.93 L720.86,302.92 L721.65,302.9 L722.45,302.89 L723.25,302.88 L724.05,302.86 L724.85,302.85 L725.65,302.84 L726.44,302.82 L727.24,302.81 L728.04,302.79 L728.84,302.78 L729.64,302.76 L730.44,302.75 L731.23,302.73 L732.03,302.72 L732.83,302.7 L733.63,302.69 L734.43,302.67 L735.22,302.66 L736.02,302.64 L736.82,302.62 L737.62,302.61 L738.42,302.59 L739.22,302.58 L740.01,302.56 L740.81,302.55 L741.61,302.53 L742.41,302.51 L743.21,302.5 L744,302.48 L744.8,302.46 L745.6,302.45 L746.4,302.43 L747.2,302.41 L748,302.4 L748.79,302.38 L749.59,302.36 L750.39,302.35 L751.19,302.33 L751.99,302.31 L752.78,302.29 L753.58,302.28 L754.38,302.26 L755.18,302.24 L755.98,302.22 L756.78,302.21 L757.57,302.19 L758.37,302.17 L759.17,302.16 L759.97,302.14 L760.77,302.12 L761.56,302.1 L762.36,302.09 L763.16,302.07 L763.96,302.05 L764.76,302.04 L765.56,302.02 L766.35,302 L767.15,301.98 L767.95,301.96 L768.75,301.95 L769.55,301.93 L770.34,301.91 L771.14,301.89 L771.94,301.86 L772.74,301.84 L773.54,301.82 L774.34,301.8 L775.13,301.77 L775.93,301.75 L776.73,301.72 L777.53,301.69 L778.33,301.66 L779.13,301.63 L779.92,301.6 L780.72,301.57 L781.52,301.54 L782.32,301.5 L783.12,301.46 L783.91,301.42 L784.71,301.37 L785.51,301.33 L786.31,301.28 L787.11,301.23 L787.91,301.18 L788.7,301.12 L789.5,301.06 L790.3,301 L791.1,300.94 L791.9,300.87 L792.69,300.8 L793.49,300.73 L794.29,300.66 L795.09,300.58 L795.89,300.5 L796.69,300.42 L797.48,300.33 L798.28,300.25 L799.08,300.15 L799.88,300.05 L800.68,299.93 L801.47,299.79 L802.27,299.64 L803.07,299.48 L803.87,299.31 L804.67,299.13 L805.47,298.95 L806.26,298.76 L807.06,298.57 L807.86,298.38 L808.66,298.19 L809.46,298 L810.25,297.81 L811.05,297.63 L811.85,297.45 L812.65,297.28 L813.45,297.11 L814.25,296.94 L815.04,296.77 L815.84,296.6 L816.64,296.43 L817.44,296.26 L818.24,296.09 L819.03,295.92 L819.83,295.74 L820.63,295.57 L821.43,295.4 L822.23,295.23 L823.03,295.06 L823.82,294.88 L824.62,294.71 L825.42,294.54 L826.22,294.37 L827.02,294.2 L827.82,294.04 L828.61,293.88 L829.41,293.72 L830.21,293.56 L831.01,293.4 L831.81,293.24 L832.6,293.08 L833.4,292.91 L834.2,292.74 L835,292.57 L835.8,292.39 L836.6,292.21 L837.39,292.01 L838.19,291.81 L838.99,291.6 L839.79,291.38 L840.59,291.15 L841.38,290.9 L842.18,290.65 L842.98,290.38 L843.78,290.11 L844.58,289.83 L845.38,289.54 L846.17,289.24 L846.97,288.94 L847.77,288.64 L848.57,288.33 L849.37,288.02 L850.16,287.7 L850.96,287.39 L851.76,287.08 L852.56,286.76 L853.36,286.44 L854.16,286.12 L854.95,285.79 L855.75,285.46 L856.55,285.12 L857.35,284.78 L858.15,284.44 L858.94,284.09 L859.74,283.73 L860.54,283.36 L861.34,282.99 L862.14,282.61 L862.94,282.23 L863.73,281.83 L864.53,281.43 L865.33,281.02 L866.13,280.6 L866.93,280.18 L867.72,279.74 L868.52,279.29 L869.32,278.83 L870.12,278.37 L870.92,277.9 L871.72,277.41 L872.51,276.92 L873.31,276.42 L874.11,275.91 L874.91,275.39 L875.71,274.86 L876.51,274.33 L877.3,273.79 L878.1,273.24 L878.9,272.68 L879.7,272.12 L880.5,271.54 L881.29,270.95 L882.09,270.34 L882.89,269.71 L883.69,269.06 L884.49,268.39 L885.29,267.69 L886.08,266.97 L886.88,266.22 L887.68,265.41 L888.48,264.53 L889.28,263.6 L890.07,262.62 L890.87,261.61 L891.67,260.58 L892.47,259.54 L893.27,258.51 L894.07,257.49 L894.86,256.49 L895.66,255.47 L896.46,254.43 L897.26,253.4 L898.06,252.38 L898.85,251.39 L899.65,250.44 L900.45,249.57 L901.25,248.75 L902.05,247.92 L902.85,247.01 L903.64,245.96 L904.44,244.74 L905.24,243.4 L906.04,241.99 L906.84,240.56 L907.63,239.18 L908.43,237.9 L909.23,236.77 L910.03,235.83 L910.83,234.99 L911.63,234.2 L912.42,233.46 L913.22,232.76 L914.02,232.09 L914.82,231.45 L915.62,230.83 L916.41,230.22 L917.21,229.62 L918.01,229.01 L918.81,228.39 L919.61,227.77 L920.41,227.14 L921.2,226.52 L922,225.9 L922.8,225.29 L923.6,224.69 L924.4,224.09 L925.19,223.51 L925.99,222.93 L926.79,222.37 L927.59,221.82 L928.39,221.29 L929.19,220.77 L929.98,220.27 L930.78,219.79 L931.58,219.32 L932.38,218.87 L933.18,218.42 L933.98,217.98 L934.77,217.55 L935.57,217.13 L936.37,216.72 L937.17,216.32 L937.97,215.93 L938.76,215.54 L939.56,215.16 L940.36,214.79 L941.16,214.42 L941.96,214.06 L942.76,213.71 L943.55,213.36 L944.35,213.02 L945.15,212.68 L945.95,212.34 L946.75,212.01 L947.54,211.68 L948.34,211.35 L949.14,211.03 L949.94,210.71 L950.74,210.4 L951.54,210.09 L952.33,209.79 L953.13,209.49 L953.93,209.21 L954.73,208.93 L955.53,208.66 L956.32,208.4 L957.12,208.14 L957.92,207.9 L958.72,207.66 L959.52,207.44 L960.32,207.22 L961.11,207.02 L961.91,206.82 L962.71,206.62 L963.51,206.43 L964.31,206.25 L965.1,206.07 L965.9,205.89 L966.7,205.72 L967.5,205.55 L968.3,205.39 L969.1,205.22 L969.89,205.06 L970.69,204.9 L971.49,204.74 L972.29,204.59 L973.09,204.43 L973.88,204.27 L974.68,204.11 L975.48,203.94 L976.28,203.78 L977.08,203.61 L977.88,203.44 L978.67,203.27 L979.47,203.09 L980.27,202.91 L981.07,202.72 L981.87,202.54 L982.67,202.35 L983.46,202.16 L984.26,201.97 L985.06,201.78 L985.86,201.59 L986.66,201.4 L987.45,201.21 L988.25,201.02 L989.05,200.84 L989.85,200.66 L990.65,200.48 L991.45,200.3 L992.24,200.13 L993.04,199.97 L993.84,199.81 L994.64,199.65 L995.44,199.5 L996.23,199.36 L997.03,199.23 L997.83,199.1 L998.63,198.98 L999.43,198.87 L1000.23,198.77 L1001.02,198.68 L1001.82,198.58 L1002.62,198.49 L1003.42,198.4 L1004.22,198.31 L1005.01,198.22 L1005.81,198.14 L1006.61,198.06 L1007.41,197.97 L1008.21,197.9 L1009.01,197.82 L1009.8,197.74 L1010.6,197.67 L1011.4,197.6 L1012.2,197.53 L1013,197.46 L1013.79,197.39 L1014.59,197.33 L1015.39,197.27 L1016.19,197.21 L1016.99,197.15 L1017.79,197.09 L1018.58,197.03 L1019.38,196.98 L1020.18,196.92 L1020.98,196.87 L1021.78,196.82 L1022.57,196.77 L1023.37,196.72 L1024.17,196.68 L1024.97,196.63 L1025.77,196.59 L1026.57,196.55 L1027.36,196.51 L1028.16,196.46 L1028.96,196.42 L1029.76,196.38 L1030.56,196.34 L1031.36,196.3 L1032.15,196.26 L1032.95,196.22 L1033.75,196.19 L1034.55,196.15 L1035.35,196.11 L1036.14,196.07 L1036.94,196.04 L1037.74,196 L1038.54,195.97 L1039.34,195.93 L1040.14,195.9 L1040.93,195.86 L1041.73,195.83 L1042.53,195.8 L1043.33,195.77 L1044.13,195.74 L1044.92,195.71 L1045.72,195.68 L1046.52,195.65 L1047.32,195.62 L1048.12,195.6 L1048.92,195.57 L1049.71,195.54 L1050.51,195.52 L1051.31,195.5 L1052.11,195.47 L1052.91,195.45 L1053.7,195.43 L1054.5,195.41 L1055.3,195.39 L1056.1,195.37 L1056.9,195.36 L1057.7,195.34 L1058.49,195.33 L1059.29,195.31 L1060.09,195.3 L1060.89,195.29 L1061.69,195.27 L1062.48,195.26 L1063.28,195.25 L1064.08,195.24 L1064.88,195.22 L1065.68,195.21 L1066.48,195.2 L1067.27,195.19 L1068.07,195.18 L1068.87,195.16 L1069.67,195.15 L1070.47,195.14 L1071.26,195.13 L1072.06,195.12 L1072.86,195.11 L1073.66,195.1 L1074.46,195.09 L1075.26,195.08 L1076.05,195.07 L1076.85,195.06 L1077.65,195.05 L1078.45,195.04 L1079.25,195.03 L1080.05,195.02 L1080.84,195.01 L1081.64,195 L1082.44,194.99 L1083.24,194.99 L1084.04,194.98 L1084.83,194.97 L1085.63,194.96 L1086.43,194.96 L1087.23,194.95 L1088.03,194.95 L1088.83,194.94 L1089.62,194.93 L1090.42,194.93 L1091.22,194.93 L1092.02,194.92 L1092.82,194.92 L1093.61,194.91 L1094.41,194.91 L1095.21,194.91 L1096.01,194.91 L1096.81,194.9 L1097.61,194.9 L1098.4,194.9 L1099.2,194.9 L1100,194.9" fill="none" stroke="#c55d33" stroke-width="3.5" stroke-linecap="round" stroke-linejoin="round" stroke-dasharray="7.1 6.6"/>
<path d="M701.7,429.4 L702.5,429.48 L703.29,429.56 L704.09,429.63 L704.89,429.7 L705.68,429.76 L706.48,429.83 L707.28,429.88 L708.07,429.94 L708.87,429.99 L709.67,430.05 L710.46,430.09 L711.26,430.14 L712.06,430.18 L712.85,430.22 L713.65,430.26 L714.45,430.29 L715.24,430.32 L716.04,430.35 L716.84,430.38 L717.63,430.41 L718.43,430.43 L719.23,430.45 L720.02,430.47 L720.82,430.49 L721.61,430.51 L722.41,430.52 L723.21,430.54 L724,430.55 L724.8,430.56 L725.6,430.57 L726.39,430.58 L727.19,430.58 L727.99,430.59 L728.78,430.59 L729.58,430.59 L730.38,430.6 L731.17,430.6 L731.97,430.6 L732.77,430.6 L733.56,430.6 L734.36,430.59 L735.16,430.58 L735.95,430.56 L736.75,430.54 L737.55,430.51 L738.34,430.48 L739.14,430.44 L739.94,430.4 L740.73,430.35 L741.53,430.3 L742.33,430.25 L743.12,430.19 L743.92,430.13 L744.72,430.06 L745.51,429.99 L746.31,429.92 L747.11,429.85 L747.9,429.77 L748.7,429.69 L749.5,429.6 L750.29,429.52 L751.09,429.43 L751.89,429.33 L752.68,429.24 L753.48,429.14 L754.28,429.05 L755.07,428.95 L755.87,428.84 L756.66,428.74 L757.46,428.64 L758.26,428.53 L759.05,428.42 L759.85,428.31 L760.65,428.2 L761.44,428.09 L762.24,427.98 L763.04,427.87 L763.83,427.76 L764.63,427.64 L765.43,427.53 L766.22,427.42 L767.02,427.31 L767.82,427.19 L768.61,427.08 L769.41,426.97 L770.21,426.86 L771,426.74 L771.8,426.61 L772.6,426.49 L773.39,426.36 L774.19,426.22 L774.99,426.08 L775.78,425.94 L776.58,425.8 L777.38,425.65 L778.17,425.49 L778.97,425.33 L779.77,425.17 L780.56,425.01 L781.36,424.84 L782.16,424.67 L782.95,424.49 L783.75,424.31 L784.55,424.13 L785.34,423.95 L786.14,423.76 L786.94,423.56 L787.73,423.37 L788.53,423.17 L789.33,422.96 L790.12,422.76 L790.92,422.55 L791.72,422.34 L792.51,422.12 L793.31,421.9 L794.1,421.68 L794.9,421.46 L795.7,421.23 L796.49,421 L797.29,420.76 L798.09,420.53 L798.88,420.29 L799.68,420.05 L800.48,419.8 L801.27,419.55 L802.07,419.29 L802.87,419.03 L803.66,418.75 L804.46,418.47 L805.26,418.18 L806.05,417.88 L806.85,417.57 L807.65,417.25 L808.44,416.93 L809.24,416.6 L810.04,416.26 L810.83,415.91 L811.63,415.56 L812.43,415.2 L813.22,414.83 L814.02,414.46 L814.82,414.08 L815.61,413.69 L816.41,413.3 L817.21,412.9 L818,412.49 L818.8,412.08 L819.6,411.66 L820.39,411.24 L821.19,410.81 L821.99,410.38 L822.78,409.94 L823.58,409.5 L824.38,409.05 L825.17,408.6 L825.97,408.14 L826.77,407.67 L827.56,407.18 L828.36,406.69 L829.15,406.18 L829.95,405.66 L830.75,405.14 L831.54,404.6 L832.34,404.04 L833.14,403.48 L833.93,402.91 L834.73,402.32 L835.53,401.72 L836.32,401.11 L837.12,400.49 L837.92,399.86 L838.71,399.22 L839.51,398.56 L840.31,397.9 L841.1,397.22 L841.9,396.53 L842.7,395.83 L843.49,395.12 L844.29,394.39 L845.09,393.65 L845.88,392.89 L846.68,392.09 L847.48,391.27 L848.27,390.43 L849.07,389.56 L849.87,388.67 L850.66,387.76 L851.46,386.83 L852.26,385.88 L853.05,384.91 L853.85,383.93 L854.65,382.93 L855.44,381.91 L856.24,380.88 L857.04,379.83 L857.83,378.77 L858.63,377.7 L859.43,376.62 L860.22,375.53 L861.02,374.42 L861.82,373.3 L862.61,372.16 L863.41,370.99 L864.21,369.8 L865,368.58 L865.8,367.33 L866.59,366.04 L867.39,364.72 L868.19,363.36 L868.98,361.95 L869.78,360.5 L870.58,359 L871.37,357.45 L872.17,355.8 L872.97,354.03 L873.76,352.15 L874.56,350.2 L875.36,348.17 L876.15,346.09 L876.95,343.98 L877.75,341.84 L878.54,339.7 L879.34,337.58 L880.14,335.47 L880.93,333.41 L881.73,331.43 L882.53,329.5 L883.32,327.57 L884.12,325.58 L884.92,323.48 L885.71,321.19 L886.51,318.63 L887.31,315.63 L888.1,312.47 L888.9,309.41 L889.7,306.36 L890.49,303.22 L891.29,299.85 L892.09,296.18 L892.88,292.25 L893.68,288.12 L894.48,283.84 L895.27,279.23 L896.07,274.48 L896.87,269.87 L897.66,265.08 L898.46,260.4 L899.26,256.39 L900.05,253.55 L900.85,251.61 L901.64,249.58 L902.44,246.36 L903.24,241.01 L904.03,234.89 L904.83,229.38 L905.63,223.99 L906.42,219.06 L907.22,214.69 L908.02,210.66 L908.81,206.93 L909.61,203.49 L910.41,200.33 L911.2,197.3 L912,194.27 L912.8,191.17 L913.59,188.15 L914.39,185.09 L915.19,181.82 L915.98,178.13 L916.78,173.67 L917.58,169 L918.37,164.81 L919.17,161.63 L919.97,158.82 L920.76,156.2 L921.56,153.76 L922.36,151.46 L923.15,149.3 L923.95,147.26 L924.75,145.32 L925.54,143.46 L926.34,141.67 L927.14,139.93 L927.93,138.21 L928.73,136.51 L929.53,134.83 L930.32,133.19 L931.12,131.58 L931.92,129.99 L932.71,128.45 L933.51,126.94 L934.31,125.46 L935.1,124.02 L935.9,122.61 L936.69,121.24 L937.49,119.91 L938.29,118.62 L939.08,117.37 L939.88,116.16 L940.68,114.99 L941.47,113.87 L942.27,112.78 L943.07,111.74 L943.86,110.74 L944.66,109.75 L945.46,108.79 L946.25,107.86 L947.05,106.94 L947.85,106.05 L948.64,105.18 L949.44,104.32 L950.24,103.49 L951.03,102.68 L951.83,101.89 L952.63,101.12 L953.42,100.36 L954.22,99.63 L955.02,98.91 L955.81,98.2 L956.61,97.52 L957.41,96.85 L958.2,96.2 L959,95.56 L959.8,94.93 L960.59,94.32 L961.39,93.72 L962.19,93.13 L962.98,92.54 L963.78,91.96 L964.58,91.39 L965.37,90.82 L966.17,90.27 L966.97,89.72 L967.76,89.18 L968.56,88.65 L969.36,88.13 L970.15,87.62 L970.95,87.12 L971.75,86.63 L972.54,86.15 L973.34,85.68 L974.13,85.23 L974.93,84.78 L975.73,84.34 L976.52,83.91 L977.32,83.5 L978.12,83.09 L978.91,82.7 L979.71,82.32 L980.51,81.96 L981.3,81.6 L982.1,81.26 L982.9,80.92 L983.69,80.59 L984.49,80.26 L985.29,79.94 L986.08,79.62 L986.88,79.31 L987.68,79 L988.47,78.7 L989.27,78.4 L990.07,78.1 L990.86,77.81 L991.66,77.53 L992.46,77.25 L993.25,76.97 L994.05,76.7 L994.85,76.44 L995.64,76.18 L996.44,75.93 L997.24,75.68 L998.03,75.44 L998.83,75.2 L999.63,74.97 L1000.42,74.75 L1001.22,74.53 L1002.02,74.32 L1002.81,74.11 L1003.61,73.91 L1004.41,73.72 L1005.2,73.53 L1006,73.35 L1006.8,73.17 L1007.59,73 L1008.39,72.84 L1009.18,72.69 L1009.98,72.53 L1010.78,72.38 L1011.57,72.24 L1012.37,72.09 L1013.17,71.95 L1013.96,71.81 L1014.76,71.67 L1015.56,71.54 L1016.35,71.4 L1017.15,71.28 L1017.95,71.15 L1018.74,71.02 L1019.54,70.9 L1020.34,70.78 L1021.13,70.66 L1021.93,70.55 L1022.73,70.44 L1023.52,70.33 L1024.32,70.22 L1025.12,70.11 L1025.91,70.01 L1026.71,69.91 L1027.51,69.81 L1028.3,69.71 L1029.1,69.61 L1029.9,69.52 L1030.69,69.43 L1031.49,69.34 L1032.29,69.25 L1033.08,69.17 L1033.88,69.08 L1034.68,69 L1035.47,68.92 L1036.27,68.84 L1037.07,68.77 L1037.86,68.69 L1038.66,68.62 L1039.46,68.55 L1040.25,68.47 L1041.05,68.39 L1041.85,68.32 L1042.64,68.24 L1043.44,68.17 L1044.24,68.09 L1045.03,68.01 L1045.83,67.94 L1046.62,67.86 L1047.42,67.79 L1048.22,67.72 L1049.01,67.65 L1049.81,67.58 L1050.61,67.51 L1051.4,67.44 L1052.2,67.38 L1053,67.31 L1053.79,67.25 L1054.59,67.19 L1055.39,67.14 L1056.18,67.08 L1056.98,67.03 L1057.78,66.99 L1058.57,66.94 L1059.37,66.9 L1060.17,66.86 L1060.96,66.83 L1061.76,66.8 L1062.56,66.77 L1063.35,66.75 L1064.15,66.73 L1064.95,66.71 L1065.74,66.71 L1066.54,66.7 L1067.34,66.7 L1068.13,66.7 L1068.93,66.71 L1069.73,66.71 L1070.52,66.72 L1071.32,66.73 L1072.12,66.74 L1072.91,66.76 L1073.71,66.78 L1074.51,66.79 L1075.3,66.82 L1076.1,66.84 L1076.9,66.86 L1077.69,66.89 L1078.49,66.92 L1079.29,66.96 L1080.08,66.99 L1080.88,67.03 L1081.67,67.07 L1082.47,67.11 L1083.27,67.15 L1084.06,67.2 L1084.86,67.25 L1085.66,67.3 L1086.45,67.36 L1087.25,67.42 L1088.05,67.47 L1088.84,67.54 L1089.64,67.6 L1090.44,67.67 L1091.23,67.74 L1092.03,67.81 L1092.83,67.89 L1093.62,67.97 L1094.42,68.05 L1095.22,68.13 L1096.01,68.22 L1096.81,68.31 L1097.61,68.41 L1098.4,68.5 L1099.2,68.6" fill="none" stroke="#6143a0" stroke-width="3.5" stroke-linecap="round" stroke-linejoin="round" stroke-dasharray="6.9 6.8"/>
<path d="M166.3,250.07 L167.09,250.07 L167.89,250.07 L168.68,250.07 L169.48,250.07 L170.27,250.07 L171.07,250.07 L171.86,250.07 L172.65,250.08 L173.45,250.08 L174.24,250.08 L175.04,250.08 L175.83,250.08 L176.62,250.08 L177.42,250.08 L178.21,250.08 L179.01,250.08 L179.8,250.08 L180.6,250.08 L181.39,250.08 L182.18,250.08 L182.98,250.08 L183.77,250.08 L184.57,250.08 L185.36,250.08 L186.15,250.08 L186.95,250.08 L187.74,250.08 L188.54,250.08 L189.33,250.08 L190.13,250.08 L190.92,250.08 L191.71,250.08 L192.51,250.08 L193.3,250.08 L194.1,250.08 L194.89,250.08 L195.68,250.09 L196.48,250.09 L197.27,250.09 L198.07,250.09 L198.86,250.09 L199.66,250.09 L200.45,250.09 L201.24,250.09 L202.04,250.09 L202.83,250.09 L203.63,250.09 L204.42,250.09 L205.22,250.09 L206.01,250.09 L206.8,250.09 L207.6,250.09 L208.39,250.09 L209.19,250.09 L209.98,250.09 L210.77,250.09 L211.57,250.09 L212.36,250.09 L213.16,250.09 L213.95,250.09 L214.75,250.09 L215.54,250.09 L216.33,250.09 L217.13,250.09 L217.92,250.09 L218.72,250.09 L219.51,250.09 L220.3,250.09 L221.1,250.09 L221.89,250.09 L222.69,250.09 L223.48,250.09 L224.28,250.09 L225.07,250.09 L225.86,250.09 L226.66,250.09 L227.45,250.09 L228.25,250.09 L229.04,250.09 L229.84,250.09 L230.63,250.09 L231.42,250.09 L232.22,250.09 L233.01,250.09 L233.81,250.09 L234.6,250.09 L235.39,250.09 L236.19,250.09 L236.98,250.09 L237.78,250.09 L238.57,250.09 L239.37,250.09 L240.16,250.09 L240.95,250.09 L241.75,250.09 L242.54,250.09 L243.34,250.09 L244.13,250.09 L244.92,250.09 L245.72,250.09 L246.51,250.09 L247.31,250.09 L248.1,250.09 L248.9,250.09 L249.69,250.09 L250.48,250.09 L251.28,250.09 L252.07,250.09 L252.87,250.08 L253.66,250.08 L254.45,250.08 L255.25,250.08 L256.04,250.08 L256.84,250.08 L257.63,250.07 L258.43,250.07 L259.22,250.07 L260.01,250.07 L260.81,250.06 L261.6,250.06 L262.4,250.06 L263.19,250.06 L263.99,250.05 L264.78,250.05 L265.57,250.05 L266.37,250.05 L267.16,250.04 L267.96,250.04 L268.75,250.04 L269.54,250.04 L270.34,250.03 L271.13,250.03 L271.93,250.03 L272.72,250.03 L273.52,250.02 L274.31,250.02 L275.1,250.02 L275.9,250.02 L276.69,250.01 L277.49,250.01 L278.28,250.01 L279.07,250.01 L279.87,250.01 L280.66,250 L281.46,250 L282.25,250 L283.05,250 L283.84,250 L284.63,249.99 L285.43,249.99 L286.22,249.99 L287.02,249.99 L287.81,249.99 L288.61,249.98 L289.4,249.98 L290.19,249.98 L290.99,249.98 L291.78,249.98 L292.58,249.97 L293.37,249.97 L294.16,249.97 L294.96,249.97 L295.75,249.96 L296.55,249.96 L297.34,249.96 L298.14,249.96 L298.93,249.95 L299.72,249.95 L300.52,249.95 L301.31,249.94 L302.11,249.94 L302.9,249.94 L303.69,249.93 L304.49,249.93 L305.28,249.93 L306.08,249.92 L306.87,249.92 L307.67,249.92 L308.46,249.91 L309.25,249.91 L310.05,249.9 L310.84,249.9 L311.64,249.89 L312.43,249.89 L313.22,249.88 L314.02,249.88 L314.81,249.87 L315.61,249.87 L316.4,249.86 L317.2,249.86 L317.99,249.85 L318.78,249.85 L319.58,249.84 L320.37,249.84 L321.17,249.83 L321.96,249.82 L322.76,249.82 L323.55,249.81 L324.34,249.8 L325.14,249.8 L325.93,249.79 L326.73,249.78 L327.52,249.78 L328.31,249.77 L329.11,249.76 L329.9,249.75 L330.7,249.75 L331.49,249.74 L332.29,249.73 L333.08,249.72 L333.87,249.71 L334.67,249.7 L335.46,249.69 L336.26,249.68 L337.05,249.67 L337.84,249.66 L338.64,249.65 L339.43,249.63 L340.23,249.62 L341.02,249.61 L341.82,249.6 L342.61,249.58 L343.4,249.57 L344.2,249.56 L344.99,249.54 L345.79,249.53 L346.58,249.52 L347.37,249.5 L348.17,249.49 L348.96,249.47 L349.76,249.46 L350.55,249.44 L351.35,249.42 L352.14,249.4 L352.93,249.38 L353.73,249.36 L354.52,249.34 L355.32,249.32 L356.11,249.3 L356.91,249.27 L357.7,249.24 L358.49,249.2 L359.29,249.16 L360.08,249.12 L360.88,249.07 L361.67,249.02 L362.46,248.97 L363.26,248.92 L364.05,248.88 L364.85,248.84 L365.64,248.79 L366.44,248.75 L367.23,248.71 L368.02,248.67 L368.82,248.64 L369.61,248.6 L370.41,248.57 L371.2,248.55 L371.99,248.52 L372.79,248.49 L373.58,248.47 L374.38,248.45 L375.17,248.42 L375.97,248.4 L376.76,248.38 L377.55,248.36 L378.35,248.34 L379.14,248.32 L379.94,248.3 L380.73,248.28 L381.53,248.27 L382.32,248.25 L383.11,248.23 L383.91,248.21 L384.7,248.2 L385.5,248.18 L386.29,248.16 L387.08,248.15 L387.88,248.13 L388.67,248.11 L389.47,248.1 L390.26,248.08 L391.06,248.07 L391.85,248.06 L392.64,248.05 L393.44,248.04 L394.23,248.03 L395.03,248.02 L395.82,248.01 L396.61,248 L397.41,248 L398.2,247.99 L399,247.99 L399.79,247.98 L400.59,247.97 L401.38,247.97 L402.17,247.97 L402.97,247.96 L403.76,247.96 L404.56,247.95 L405.35,247.95 L406.14,247.94 L406.94,247.94 L407.73,247.94 L408.53,247.93 L409.32,247.93 L410.12,247.93 L410.91,247.92 L411.7,247.92 L412.5,247.92 L413.29,247.91 L414.09,247.91 L414.88,247.91 L415.68,247.9 L416.47,247.9 L417.26,247.9 L418.06,247.89 L418.85,247.89 L419.65,247.89 L420.44,247.89 L421.23,247.88 L422.03,247.88 L422.82,247.88 L423.62,247.87 L424.41,247.87 L425.21,247.87 L426,247.86 L426.79,247.86 L427.59,247.86 L428.38,247.85 L429.18,247.85 L429.97,247.85 L430.76,247.85 L431.56,247.84 L432.35,247.84 L433.15,247.84 L433.94,247.83 L434.74,247.83 L435.53,247.83 L436.32,247.82 L437.12,247.82 L437.91,247.82 L438.71,247.82 L439.5,247.81 L440.29,247.81 L441.09,247.81 L441.88,247.8 L442.68,247.8 L443.47,247.8 L444.27,247.8 L445.06,247.79 L445.85,247.79 L446.65,247.79 L447.44,247.79 L448.24,247.78 L449.03,247.78 L449.83,247.78 L450.62,247.78 L451.41,247.77 L452.21,247.77 L453,247.77 L453.8,247.77 L454.59,247.77 L455.38,247.76 L456.18,247.76 L456.97,247.76 L457.77,247.76 L458.56,247.76 L459.36,247.76 L460.15,247.75 L460.94,247.75 L461.74,247.75 L462.53,247.75 L463.33,247.75 L464.12,247.75 L464.91,247.75 L465.71,247.75 L466.5,247.74 L467.3,247.74 L468.09,247.74 L468.89,247.74 L469.68,247.74 L470.47,247.74 L471.27,247.74 L472.06,247.74 L472.86,247.74 L473.65,247.73 L474.45,247.73 L475.24,247.73 L476.03,247.73 L476.83,247.73 L477.62,247.73 L478.42,247.73 L479.21,247.73 L480,247.73 L480.8,247.73 L481.59,247.73 L482.39,247.73 L483.18,247.72 L483.98,247.72 L484.77,247.72 L485.56,247.72 L486.36,247.72 L487.15,247.72 L487.95,247.72 L488.74,247.72 L489.53,247.72 L490.33,247.72 L491.12,247.72 L491.92,247.72 L492.71,247.72 L493.51,247.71 L494.3,247.71 L495.09,247.71 L495.89,247.71 L496.68,247.71 L497.48,247.71 L498.27,247.71 L499.06,247.71 L499.86,247.71 L500.65,247.71 L501.45,247.71 L502.24,247.71 L503.04,247.71 L503.83,247.71 L504.62,247.71 L505.42,247.71 L506.21,247.7 L507.01,247.7 L507.8,247.7 L508.6,247.7 L509.39,247.7 L510.18,247.7 L510.98,247.7 L511.77,247.7 L512.57,247.7 L513.36,247.7 L514.15,247.7 L514.95,247.7 L515.74,247.7 L516.54,247.7 L517.33,247.7 L518.13,247.7 L518.92,247.7 L519.71,247.69 L520.51,247.69 L521.3,247.69 L522.1,247.69 L522.89,247.69 L523.68,247.69 L524.48,247.69 L525.27,247.69 L526.07,247.69 L526.86,247.69 L527.66,247.69 L528.45,247.69 L529.24,247.69 L530.04,247.69 L530.83,247.69 L531.63,247.69 L532.42,247.69 L533.22,247.69 L534.01,247.69 L534.8,247.68 L535.6,247.68 L536.39,247.68 L537.19,247.68 L537.98,247.68 L538.77,247.68 L539.57,247.68 L540.36,247.68 L541.16,247.68 L541.95,247.68 L542.75,247.68 L543.54,247.68 L544.33,247.68 L545.13,247.68 L545.92,247.68 L546.72,247.68 L547.51,247.68 L548.3,247.68 L549.1,247.68 L549.89,247.68 L550.69,247.68 L551.48,247.68 L552.28,247.67 L553.07,247.67 L553.86,247.67 L554.66,247.67 L555.45,247.67 L556.25,247.67 L557.04,247.67 L557.83,247.67 L558.63,247.67 L559.42,247.67 L560.22,247.67 L561.01,247.67 L561.81,247.67 L562.6,247.67" fill="none" stroke="#e8c7a4" stroke-width="3.4" stroke-linecap="round" stroke-linejoin="round" stroke-dasharray="7.7 6" stroke-dashoffset="4.3"/>
<path d="M166.3,250.17 L167.09,250.17 L167.89,250.17 L168.68,250.17 L169.48,250.17 L170.27,250.17 L171.07,250.17 L171.86,250.17 L172.65,250.18 L173.45,250.18 L174.24,250.18 L175.04,250.18 L175.83,250.18 L176.62,250.18 L177.42,250.18 L178.21,250.18 L179.01,250.18 L179.8,250.18 L180.6,250.18 L181.39,250.18 L182.18,250.18 L182.98,250.18 L183.77,250.18 L184.57,250.18 L185.36,250.18 L186.15,250.18 L186.95,250.18 L187.74,250.18 L188.54,250.18 L189.33,250.18 L190.13,250.18 L190.92,250.18 L191.71,250.18 L192.51,250.18 L193.3,250.18 L194.1,250.18 L194.89,250.18 L195.68,250.19 L196.48,250.19 L197.27,250.19 L198.07,250.19 L198.86,250.19 L199.66,250.19 L200.45,250.19 L201.24,250.19 L202.04,250.19 L202.83,250.19 L203.63,250.19 L204.42,250.19 L205.22,250.19 L206.01,250.19 L206.8,250.19 L207.6,250.19 L208.39,250.19 L209.19,250.19 L209.98,250.19 L210.77,250.19 L211.57,250.19 L212.36,250.19 L213.16,250.19 L213.95,250.19 L214.75,250.19 L215.54,250.19 L216.33,250.19 L217.13,250.19 L217.92,250.19 L218.72,250.19 L219.51,250.19 L220.3,250.19 L221.1,250.19 L221.89,250.19 L222.69,250.19 L223.48,250.19 L224.28,250.19 L225.07,250.19 L225.86,250.19 L226.66,250.19 L227.45,250.19 L228.25,250.19 L229.04,250.19 L229.84,250.19 L230.63,250.19 L231.42,250.19 L232.22,250.19 L233.01,250.19 L233.81,250.19 L234.6,250.19 L235.39,250.19 L236.19,250.19 L236.98,250.19 L237.78,250.19 L238.57,250.19 L239.37,250.19 L240.16,250.19 L240.95,250.19 L241.75,250.19 L242.54,250.19 L243.34,250.19 L244.13,250.19 L244.92,250.19 L245.72,250.19 L246.51,250.19 L247.31,250.19 L248.1,250.19 L248.9,250.19 L249.69,250.19 L250.48,250.19 L251.28,250.19 L252.07,250.19 L252.87,250.18 L253.66,250.18 L254.45,250.18 L255.25,250.18 L256.04,250.18 L256.84,250.18 L257.63,250.17 L258.43,250.17 L259.22,250.17 L260.01,250.17 L260.81,250.16 L261.6,250.16 L262.4,250.16 L263.19,250.16 L263.99,250.15 L264.78,250.15 L265.57,250.15 L266.37,250.15 L267.16,250.14 L267.96,250.14 L268.75,250.14 L269.54,250.14 L270.34,250.13 L271.13,250.13 L271.93,250.13 L272.72,250.13 L273.52,250.12 L274.31,250.12 L275.1,250.12 L275.9,250.12 L276.69,250.11 L277.49,250.11 L278.28,250.11 L279.07,250.11 L279.87,250.11 L280.66,250.1 L281.46,250.1 L282.25,250.1 L283.05,250.1 L283.84,250.1 L284.63,250.09 L285.43,250.09 L286.22,250.09 L287.02,250.09 L287.81,250.09 L288.61,250.08 L289.4,250.08 L290.19,250.08 L290.99,250.08 L291.78,250.08 L292.58,250.07 L293.37,250.07 L294.16,250.07 L294.96,250.07 L295.75,250.06 L296.55,250.06 L297.34,250.06 L298.14,250.06 L298.93,250.05 L299.72,250.05 L300.52,250.05 L301.31,250.04 L302.11,250.04 L302.9,250.04 L303.69,250.03 L304.49,250.03 L305.28,250.03 L306.08,250.02 L306.87,250.02 L307.67,250.02 L308.46,250.01 L309.25,250.01 L310.05,250 L310.84,250 L311.64,249.99 L312.43,249.99 L313.22,249.98 L314.02,249.98 L314.81,249.97 L315.61,249.97 L316.4,249.96 L317.2,249.96 L317.99,249.95 L318.78,249.95 L319.58,249.94 L320.37,249.94 L321.17,249.93 L321.96,249.92 L322.76,249.92 L323.55,249.91 L324.34,249.9 L325.14,249.9 L325.93,249.89 L326.73,249.88 L327.52,249.88 L328.31,249.87 L329.11,249.86 L329.9,249.85 L330.7,249.85 L331.49,249.84 L332.29,249.83 L333.08,249.82 L333.87,249.81 L334.67,249.8 L335.46,249.79 L336.26,249.78 L337.05,249.77 L337.84,249.76 L338.64,249.75 L339.43,249.73 L340.23,249.72 L341.02,249.71 L341.82,249.7 L342.61,249.68 L343.4,249.67 L344.2,249.66 L344.99,249.64 L345.79,249.63 L346.58,249.62 L347.37,249.6 L348.17,249.59 L348.96,249.57 L349.76,249.56 L350.55,249.54 L351.35,249.52 L352.14,249.5 L352.93,249.48 L353.73,249.46 L354.52,249.44 L355.32,249.42 L356.11,249.4 L356.91,249.37 L357.7,249.34 L358.49,249.3 L359.29,249.26 L360.08,249.22 L360.88,249.17 L361.67,249.12 L362.46,249.07 L363.26,249.02 L364.05,248.98 L364.85,248.94 L365.64,248.89 L366.44,248.85 L367.23,248.81 L368.02,248.77 L368.82,248.74 L369.61,248.7 L370.41,248.67 L371.2,248.65 L371.99,248.62 L372.79,248.59 L373.58,248.57 L374.38,248.55 L375.17,248.52 L375.97,248.5 L376.76,248.48 L377.55,248.46 L378.35,248.44 L379.14,248.42 L379.94,248.4 L380.73,248.38 L381.53,248.37 L382.32,248.35 L383.11,248.33 L383.91,248.31 L384.7,248.3 L385.5,248.28 L386.29,248.26 L387.08,248.25 L387.88,248.23 L388.67,248.21 L389.47,248.2 L390.26,248.18 L391.06,248.17 L391.85,248.16 L392.64,248.15 L393.44,248.14 L394.23,248.13 L395.03,248.12 L395.82,248.11 L396.61,248.1 L397.41,248.1 L398.2,248.09 L399,248.09 L399.79,248.08 L400.59,248.07 L401.38,248.07 L402.17,248.07 L402.97,248.06 L403.76,248.06 L404.56,248.05 L405.35,248.05 L406.14,248.04 L406.94,248.04 L407.73,248.04 L408.53,248.03 L409.32,248.03 L410.12,248.03 L410.91,248.02 L411.7,248.02 L412.5,248.02 L413.29,248.01 L414.09,248.01 L414.88,248.01 L415.68,248 L416.47,248 L417.26,248 L418.06,247.99 L418.85,247.99 L419.65,247.99 L420.44,247.99 L421.23,247.98 L422.03,247.98 L422.82,247.98 L423.62,247.97 L424.41,247.97 L425.21,247.97 L426,247.96 L426.79,247.96 L427.59,247.96 L428.38,247.95 L429.18,247.95 L429.97,247.95 L430.76,247.95 L431.56,247.94 L432.35,247.94 L433.15,247.94 L433.94,247.93 L434.74,247.93 L435.53,247.93 L436.32,247.92 L437.12,247.92 L437.91,247.92 L438.71,247.92 L439.5,247.91 L440.29,247.91 L441.09,247.91 L441.88,247.9 L442.68,247.9 L443.47,247.9 L444.27,247.9 L445.06,247.89 L445.85,247.89 L446.65,247.89 L447.44,247.89 L448.24,247.88 L449.03,247.88 L449.83,247.88 L450.62,247.88 L451.41,247.87 L452.21,247.87 L453,247.87 L453.8,247.87 L454.59,247.87 L455.38,247.86 L456.18,247.86 L456.97,247.86 L457.77,247.86 L458.56,247.86 L459.36,247.86 L460.15,247.85 L460.94,247.85 L461.74,247.85 L462.53,247.85 L463.33,247.85 L464.12,247.85 L464.91,247.85 L465.71,247.85 L466.5,247.84 L467.3,247.84 L468.09,247.84 L468.89,247.84 L469.68,247.84 L470.47,247.84 L471.27,247.84 L472.06,247.84 L472.86,247.84 L473.65,247.83 L474.45,247.83 L475.24,247.83 L476.03,247.83 L476.83,247.83 L477.62,247.83 L478.42,247.83 L479.21,247.83 L480,247.83 L480.8,247.83 L481.59,247.83 L482.39,247.83 L483.18,247.82 L483.98,247.82 L484.77,247.82 L485.56,247.82 L486.36,247.82 L487.15,247.82 L487.95,247.82 L488.74,247.82 L489.53,247.82 L490.33,247.82 L491.12,247.82 L491.92,247.82 L492.71,247.82 L493.51,247.81 L494.3,247.81 L495.09,247.81 L495.89,247.81 L496.68,247.81 L497.48,247.81 L498.27,247.81 L499.06,247.81 L499.86,247.81 L500.65,247.81 L501.45,247.81 L502.24,247.81 L503.04,247.81 L503.83,247.81 L504.62,247.81 L505.42,247.81 L506.21,247.8 L507.01,247.8 L507.8,247.8 L508.6,247.8 L509.39,247.8 L510.18,247.8 L510.98,247.8 L511.77,247.8 L512.57,247.8 L513.36,247.8 L514.15,247.8 L514.95,247.8 L515.74,247.8 L516.54,247.8 L517.33,247.8 L518.13,247.8 L518.92,247.8 L519.71,247.79 L520.51,247.79 L521.3,247.79 L522.1,247.79 L522.89,247.79 L523.68,247.79 L524.48,247.79 L525.27,247.79 L526.07,247.79 L526.86,247.79 L527.66,247.79 L528.45,247.79 L529.24,247.79 L530.04,247.79 L530.83,247.79 L531.63,247.79 L532.42,247.79 L533.22,247.79 L534.01,247.79 L534.8,247.78 L535.6,247.78 L536.39,247.78 L537.19,247.78 L537.98,247.78 L538.77,247.78 L539.57,247.78 L540.36,247.78 L541.16,247.78 L541.95,247.78 L542.75,247.78 L543.54,247.78 L544.33,247.78 L545.13,247.78 L545.92,247.78 L546.72,247.78 L547.51,247.78 L548.3,247.78 L549.1,247.78 L549.89,247.78 L550.69,247.78 L551.48,247.78 L552.28,247.77 L553.07,247.77 L553.86,247.77 L554.66,247.77 L555.45,247.77 L556.25,247.77 L557.04,247.77 L557.83,247.77 L558.63,247.77 L559.42,247.77 L560.22,247.77 L561.01,247.77 L561.81,247.77 L562.6,247.77" fill="none" stroke="#968a7e" stroke-width="3.4" stroke-linecap="round" stroke-linejoin="round" stroke-dasharray="7.7 6" stroke-dashoffset="4.3"/>
<path d="M166.3,248.35 L167.09,248.35 L167.89,248.35 L168.68,248.35 L169.48,248.35 L170.27,248.35 L171.07,248.35 L171.86,248.35 L172.65,248.35 L173.45,248.35 L174.24,248.35 L175.04,248.35 L175.83,248.35 L176.62,248.35 L177.42,248.35 L178.21,248.35 L179.01,248.35 L179.8,248.35 L180.6,248.35 L181.39,248.35 L182.18,248.35 L182.98,248.35 L183.77,248.35 L184.57,248.35 L185.36,248.35 L186.15,248.35 L186.95,248.35 L187.74,248.35 L188.54,248.35 L189.33,248.35 L190.13,248.35 L190.92,248.35 L191.71,248.35 L192.51,248.35 L193.3,248.35 L194.1,248.35 L194.89,248.35 L195.68,248.35 L196.48,248.35 L197.27,248.35 L198.07,248.35 L198.86,248.35 L199.66,248.35 L200.45,248.35 L201.24,248.35 L202.04,248.35 L202.83,248.35 L203.63,248.35 L204.42,248.35 L205.22,248.35 L206.01,248.35 L206.8,248.35 L207.6,248.35 L208.39,248.35 L209.19,248.35 L209.98,248.35 L210.77,248.35 L211.57,248.35 L212.36,248.35 L213.16,248.35 L213.95,248.35 L214.75,248.35 L215.54,248.35 L216.33,248.35 L217.13,248.35 L217.92,248.35 L218.72,248.35 L219.51,248.35 L220.3,248.35 L221.1,248.35 L221.89,248.35 L222.69,248.35 L223.48,248.35 L224.28,248.35 L225.07,248.35 L225.86,248.35 L226.66,248.35 L227.45,248.35 L228.25,248.35 L229.04,248.35 L229.84,248.35 L230.63,248.35 L231.42,248.35 L232.22,248.35 L233.01,248.35 L233.81,248.35 L234.6,248.35 L235.39,248.35 L236.19,248.35 L236.98,248.35 L237.78,248.35 L238.57,248.35 L239.37,248.35 L240.16,248.35 L240.95,248.35 L241.75,248.35 L242.54,248.35 L243.34,248.35 L244.13,248.35 L244.92,248.35 L245.72,248.35 L246.51,248.35 L247.31,248.35 L248.1,248.35 L248.9,248.35 L249.69,248.35 L250.48,248.35 L251.28,248.35 L252.07,248.35 L252.87,248.35 L253.66,248.35 L254.45,248.35 L255.25,248.35 L256.04,248.35 L256.84,248.35 L257.63,248.35 L258.43,248.35 L259.22,248.35 L260.01,248.35 L260.81,248.35 L261.6,248.35 L262.4,248.35 L263.19,248.35 L263.99,248.35 L264.78,248.35 L265.57,248.35 L266.37,248.35 L267.16,248.35 L267.96,248.35 L268.75,248.35 L269.54,248.35 L270.34,248.35 L271.13,248.35 L271.93,248.35 L272.72,248.35 L273.52,248.35 L274.31,248.35 L275.1,248.35 L275.9,248.35 L276.69,248.35 L277.49,248.35 L278.28,248.35 L279.07,248.35 L279.87,248.35 L280.66,248.35 L281.46,248.35 L282.25,248.35 L283.05,248.35 L283.84,248.35 L284.63,248.35 L285.43,248.35 L286.22,248.35 L287.02,248.35 L287.81,248.35 L288.61,248.35 L289.4,248.35 L290.19,248.35 L290.99,248.35 L291.78,248.35 L292.58,248.35 L293.37,248.35 L294.16,248.35 L294.96,248.35 L295.75,248.35 L296.55,248.35 L297.34,248.35 L298.14,248.35 L298.93,248.35 L299.72,248.35 L300.52,248.35 L301.31,248.35 L302.11,248.35 L302.9,248.35 L303.69,248.35 L304.49,248.35 L305.28,248.35 L306.08,248.35 L306.87,248.35 L307.67,248.35 L308.46,248.35 L309.25,248.35 L310.05,248.35 L310.84,248.35 L311.64,248.35 L312.43,248.35 L313.22,248.35 L314.02,248.35 L314.81,248.35 L315.61,248.35 L316.4,248.35 L317.2,248.35 L317.99,248.35 L318.78,248.35 L319.58,248.35 L320.37,248.35 L321.17,248.35 L321.96,248.35 L322.76,248.35 L323.55,248.35 L324.34,248.35 L325.14,248.35 L325.93,248.35 L326.73,248.35 L327.52,248.35 L328.31,248.35 L329.11,248.35 L329.9,248.35 L330.7,248.35 L331.49,248.35 L332.29,248.35 L333.08,248.35 L333.87,248.35 L334.67,248.35 L335.46,248.35 L336.26,248.35 L337.05,248.35 L337.84,248.35 L338.64,248.35 L339.43,248.35 L340.23,248.35 L341.02,248.35 L341.82,248.35 L342.61,248.35 L343.4,248.35 L344.2,248.35 L344.99,248.35 L345.79,248.35 L346.58,248.35 L347.37,248.35 L348.17,248.35 L348.96,248.35 L349.76,248.35 L350.55,248.35 L351.35,248.35 L352.14,248.35 L352.93,248.35 L353.73,248.35 L354.52,248.35 L355.32,248.35 L356.11,248.35 L356.91,248.35 L357.7,248.35 L358.49,248.35 L359.29,248.35 L360.08,248.35 L360.88,248.35 L361.67,248.35 L362.46,248.35 L363.26,248.35 L364.05,248.35 L364.85,248.35 L365.64,248.35 L366.44,248.35 L367.23,248.35 L368.02,248.35 L368.82,248.35 L369.61,248.35 L370.41,248.35 L371.2,248.35 L371.99,248.35 L372.79,248.35 L373.58,248.35 L374.38,248.35 L375.17,248.35 L375.97,248.35 L376.76,248.35 L377.55,248.35 L378.35,248.35 L379.14,248.35 L379.94,248.35 L380.73,248.35 L381.53,248.35 L382.32,248.35 L383.11,248.35 L383.91,248.35 L384.7,248.35 L385.5,248.35 L386.29,248.35 L387.08,248.35 L387.88,248.35 L388.67,248.35 L389.47,248.35 L390.26,248.35 L391.06,248.35 L391.85,248.35 L392.64,248.35 L393.44,248.35 L394.23,248.35 L395.03,248.35 L395.82,248.35 L396.61,248.35 L397.41,248.35 L398.2,248.35 L399,248.35 L399.79,248.35 L400.59,248.35 L401.38,248.35 L402.17,248.35 L402.97,248.35 L403.76,248.35 L404.56,248.35 L405.35,248.35 L406.14,248.35 L406.94,248.35 L407.73,248.35 L408.53,248.35 L409.32,248.35 L410.12,248.35 L410.91,248.35 L411.7,248.35 L412.5,248.35 L413.29,248.35 L414.09,248.35 L414.88,248.35 L415.68,248.35 L416.47,248.35 L417.26,248.35 L418.06,248.35 L418.85,248.35 L419.65,248.35 L420.44,248.35 L421.23,248.35 L422.03,248.35 L422.82,248.35 L423.62,248.35 L424.41,248.35 L425.21,248.35 L426,248.35 L426.79,248.35 L427.59,248.35 L428.38,248.35 L429.18,248.35 L429.97,248.35 L430.76,248.35 L431.56,248.35 L432.35,248.35 L433.15,248.35 L433.94,248.35 L434.74,248.35 L435.53,248.35 L436.32,248.35 L437.12,248.35 L437.91,248.35 L438.71,248.35 L439.5,248.35 L440.29,248.35 L441.09,248.35 L441.88,248.35 L442.68,248.35 L443.47,248.35 L444.27,248.35 L445.06,248.35 L445.85,248.35 L446.65,248.35 L447.44,248.35 L448.24,248.35 L449.03,248.35 L449.83,248.35 L450.62,248.35 L451.41,248.35 L452.21,248.35 L453,248.35 L453.8,248.35 L454.59,248.35 L455.38,248.35 L456.18,248.35 L456.97,248.35 L457.77,248.35 L458.56,248.35 L459.36,248.35 L460.15,248.35 L460.94,248.35 L461.74,248.35 L462.53,248.35 L463.33,248.35 L464.12,248.35 L464.91,248.35 L465.71,248.35 L466.5,248.35 L467.3,248.35 L468.09,248.35 L468.89,248.35 L469.68,248.35 L470.47,248.35 L471.27,248.35 L472.06,248.35 L472.86,248.35 L473.65,248.35 L474.45,248.35 L475.24,248.35 L476.03,248.35 L476.83,248.35 L477.62,248.35 L478.42,248.35 L479.21,248.35 L480,248.35 L480.8,248.35 L481.59,248.35 L482.39,248.35 L483.18,248.35 L483.98,248.35 L484.77,248.35 L485.56,248.35 L486.36,248.35 L487.15,248.35 L487.95,248.35 L488.74,248.35 L489.53,248.35 L490.33,248.35 L491.12,248.35 L491.92,248.35 L492.71,248.35 L493.51,248.35 L494.3,248.35 L495.09,248.35 L495.89,248.35 L496.68,248.35 L497.48,248.35 L498.27,248.35 L499.06,248.35 L499.86,248.35 L500.65,248.35 L501.45,248.35 L502.24,248.35 L503.04,248.35 L503.83,248.35 L504.62,248.35 L505.42,248.35 L506.21,248.35 L507.01,248.35 L507.8,248.35 L508.6,248.35 L509.39,248.35 L510.18,248.35 L510.98,248.35 L511.77,248.35 L512.57,248.35 L513.36,248.35 L514.15,248.35 L514.95,248.35 L515.74,248.35 L516.54,248.35 L517.33,248.35 L518.13,248.35 L518.92,248.35 L519.71,248.35 L520.51,248.35 L521.3,248.35 L522.1,248.35 L522.89,248.35 L523.68,248.35 L524.48,248.35 L525.27,248.35 L526.07,248.35 L526.86,248.35 L527.66,248.35 L528.45,248.35 L529.24,248.35 L530.04,248.35 L530.83,248.35 L531.63,248.35 L532.42,248.35 L533.22,248.35 L534.01,248.35 L534.8,248.35 L535.6,248.35 L536.39,248.35 L537.19,248.35 L537.98,248.35 L538.77,248.35 L539.57,248.35 L540.36,248.35 L541.16,248.35 L541.95,248.35 L542.75,248.35 L543.54,248.35 L544.33,248.35 L545.13,248.35 L545.92,248.35 L546.72,248.35 L547.51,248.35 L548.3,248.35 L549.1,248.35 L549.89,248.35 L550.69,248.35 L551.48,248.35 L552.28,248.35 L553.07,248.35 L553.86,248.35 L554.66,248.35 L555.45,248.35 L556.25,248.35 L557.04,248.35 L557.83,248.35 L558.63,248.35 L559.42,248.35 L560.22,248.35 L561.01,248.35 L561.81,248.35 L562.6,248.35" fill="none" stroke="#79aedd" stroke-width="3.4" stroke-linecap="round" stroke-linejoin="round" stroke-dasharray="7.7 6" stroke-dashoffset="4.3"/>
<path d="M166.3,252.77 L167.09,252.77 L167.89,252.77 L168.68,252.77 L169.48,252.76 L170.27,252.76 L171.07,252.76 L171.86,252.76 L172.65,252.76 L173.45,252.76 L174.24,252.76 L175.04,252.76 L175.83,252.75 L176.62,252.75 L177.42,252.75 L178.21,252.75 L179.01,252.75 L179.8,252.75 L180.6,252.75 L181.39,252.75 L182.18,252.74 L182.98,252.74 L183.77,252.74 L184.57,252.74 L185.36,252.74 L186.15,252.74 L186.95,252.74 L187.74,252.74 L188.54,252.74 L189.33,252.73 L190.13,252.73 L190.92,252.73 L191.71,252.73 L192.51,252.73 L193.3,252.73 L194.1,252.73 L194.89,252.73 L195.68,252.72 L196.48,252.72 L197.27,252.72 L198.07,252.72 L198.86,252.72 L199.66,252.72 L200.45,252.72 L201.24,252.72 L202.04,252.72 L202.83,252.71 L203.63,252.71 L204.42,252.71 L205.22,252.71 L206.01,252.71 L206.8,252.71 L207.6,252.71 L208.39,252.71 L209.19,252.7 L209.98,252.7 L210.77,252.7 L211.57,252.7 L212.36,252.7 L213.16,252.7 L213.95,252.7 L214.75,252.7 L215.54,252.7 L216.33,252.69 L217.13,252.69 L217.92,252.69 L218.72,252.69 L219.51,252.69 L220.3,252.69 L221.1,252.69 L221.89,252.69 L222.69,252.69 L223.48,252.69 L224.28,252.68 L225.07,252.68 L225.86,252.68 L226.66,252.68 L227.45,252.68 L228.25,252.68 L229.04,252.68 L229.84,252.68 L230.63,252.68 L231.42,252.68 L232.22,252.68 L233.01,252.68 L233.81,252.67 L234.6,252.67 L235.39,252.67 L236.19,252.67 L236.98,252.67 L237.78,252.67 L238.57,252.67 L239.37,252.67 L240.16,252.67 L240.95,252.66 L241.75,252.66 L242.54,252.66 L243.34,252.66 L244.13,252.66 L244.92,252.65 L245.72,252.65 L246.51,252.64 L247.31,252.64 L248.1,252.63 L248.9,252.63 L249.69,252.62 L250.48,252.62 L251.28,252.61 L252.07,252.6 L252.87,252.6 L253.66,252.59 L254.45,252.59 L255.25,252.58 L256.04,252.58 L256.84,252.57 L257.63,252.56 L258.43,252.56 L259.22,252.55 L260.01,252.55 L260.81,252.54 L261.6,252.54 L262.4,252.53 L263.19,252.53 L263.99,252.52 L264.78,252.52 L265.57,252.51 L266.37,252.5 L267.16,252.5 L267.96,252.49 L268.75,252.48 L269.54,252.48 L270.34,252.47 L271.13,252.46 L271.93,252.45 L272.72,252.44 L273.52,252.43 L274.31,252.43 L275.1,252.42 L275.9,252.41 L276.69,252.4 L277.49,252.39 L278.28,252.38 L279.07,252.37 L279.87,252.36 L280.66,252.35 L281.46,252.34 L282.25,252.33 L283.05,252.32 L283.84,252.31 L284.63,252.3 L285.43,252.29 L286.22,252.28 L287.02,252.27 L287.81,252.26 L288.61,252.25 L289.4,252.24 L290.19,252.23 L290.99,252.22 L291.78,252.21 L292.58,252.2 L293.37,252.19 L294.16,252.18 L294.96,252.17 L295.75,252.16 L296.55,252.15 L297.34,252.13 L298.14,252.12 L298.93,252.11 L299.72,252.1 L300.52,252.09 L301.31,252.07 L302.11,252.06 L302.9,252.05 L303.69,252.03 L304.49,252.02 L305.28,252.01 L306.08,251.99 L306.87,251.98 L307.67,251.96 L308.46,251.95 L309.25,251.93 L310.05,251.92 L310.84,251.9 L311.64,251.89 L312.43,251.87 L313.22,251.85 L314.02,251.83 L314.81,251.82 L315.61,251.8 L316.4,251.78 L317.2,251.76 L317.99,251.74 L318.78,251.72 L319.58,251.71 L320.37,251.69 L321.17,251.67 L321.96,251.65 L322.76,251.63 L323.55,251.6 L324.34,251.58 L325.14,251.56 L325.93,251.54 L326.73,251.52 L327.52,251.5 L328.31,251.47 L329.11,251.45 L329.9,251.43 L330.7,251.4 L331.49,251.38 L332.29,251.35 L333.08,251.33 L333.87,251.3 L334.67,251.27 L335.46,251.25 L336.26,251.22 L337.05,251.2 L337.84,251.17 L338.64,251.14 L339.43,251.12 L340.23,251.09 L341.02,251.06 L341.82,251.03 L342.61,251 L343.4,250.97 L344.2,250.93 L344.99,250.9 L345.79,250.86 L346.58,250.82 L347.37,250.78 L348.17,250.74 L348.96,250.69 L349.76,250.64 L350.55,250.59 L351.35,250.53 L352.14,250.47 L352.93,250.41 L353.73,250.35 L354.52,250.28 L355.32,250.2 L356.11,250.13 L356.91,250.05 L357.7,249.95 L358.49,249.84 L359.29,249.73 L360.08,249.61 L360.88,249.49 L361.67,249.38 L362.46,249.26 L363.26,249.15 L364.05,249.03 L364.85,248.91 L365.64,248.79 L366.44,248.67 L367.23,248.54 L368.02,248.41 L368.82,248.28 L369.61,248.15 L370.41,248.05 L371.2,247.96 L371.99,247.88 L372.79,247.81 L373.58,247.74 L374.38,247.67 L375.17,247.61 L375.97,247.55 L376.76,247.49 L377.55,247.44 L378.35,247.38 L379.14,247.33 L379.94,247.29 L380.73,247.24 L381.53,247.19 L382.32,247.15 L383.11,247.1 L383.91,247.06 L384.7,247.02 L385.5,246.97 L386.29,246.93 L387.08,246.89 L387.88,246.85 L388.67,246.82 L389.47,246.78 L390.26,246.74 L391.06,246.71 L391.85,246.68 L392.64,246.65 L393.44,246.62 L394.23,246.59 L395.03,246.56 L395.82,246.54 L396.61,246.52 L397.41,246.49 L398.2,246.47 L399,246.45 L399.79,246.43 L400.59,246.41 L401.38,246.4 L402.17,246.38 L402.97,246.36 L403.76,246.35 L404.56,246.33 L405.35,246.31 L406.14,246.3 L406.94,246.28 L407.73,246.27 L408.53,246.25 L409.32,246.24 L410.12,246.22 L410.91,246.21 L411.7,246.2 L412.5,246.18 L413.29,246.17 L414.09,246.15 L414.88,246.13 L415.68,246.12 L416.47,246.1 L417.26,246.09 L418.06,246.07 L418.85,246.06 L419.65,246.04 L420.44,246.03 L421.23,246.01 L422.03,246 L422.82,245.98 L423.62,245.97 L424.41,245.95 L425.21,245.93 L426,245.92 L426.79,245.91 L427.59,245.89 L428.38,245.88 L429.18,245.86 L429.97,245.85 L430.76,245.83 L431.56,245.82 L432.35,245.81 L433.15,245.79 L433.94,245.78 L434.74,245.77 L435.53,245.76 L436.32,245.74 L437.12,245.73 L437.91,245.72 L438.71,245.71 L439.5,245.7 L440.29,245.69 L441.09,245.68 L441.88,245.67 L442.68,245.66 L443.47,245.65 L444.27,245.64 L445.06,245.63 L445.85,245.62 L446.65,245.61 L447.44,245.6 L448.24,245.59 L449.03,245.58 L449.83,245.58 L450.62,245.57 L451.41,245.56 L452.21,245.55 L453,245.54 L453.8,245.53 L454.59,245.53 L455.38,245.52 L456.18,245.51 L456.97,245.51 L457.77,245.5 L458.56,245.49 L459.36,245.48 L460.15,245.48 L460.94,245.47 L461.74,245.47 L462.53,245.46 L463.33,245.45 L464.12,245.45 L464.91,245.44 L465.71,245.44 L466.5,245.43 L467.3,245.43 L468.09,245.42 L468.89,245.42 L469.68,245.41 L470.47,245.41 L471.27,245.4 L472.06,245.4 L472.86,245.39 L473.65,245.39 L474.45,245.38 L475.24,245.38 L476.03,245.37 L476.83,245.37 L477.62,245.36 L478.42,245.36 L479.21,245.36 L480,245.35 L480.8,245.35 L481.59,245.34 L482.39,245.34 L483.18,245.34 L483.98,245.33 L484.77,245.33 L485.56,245.33 L486.36,245.33 L487.15,245.32 L487.95,245.32 L488.74,245.32 L489.53,245.32 L490.33,245.31 L491.12,245.31 L491.92,245.31 L492.71,245.31 L493.51,245.31 L494.3,245.3 L495.09,245.3 L495.89,245.3 L496.68,245.3 L497.48,245.3 L498.27,245.3 L499.06,245.29 L499.86,245.29 L500.65,245.29 L501.45,245.29 L502.24,245.29 L503.04,245.29 L503.83,245.28 L504.62,245.28 L505.42,245.28 L506.21,245.28 L507.01,245.28 L507.8,245.28 L508.6,245.28 L509.39,245.28 L510.18,245.27 L510.98,245.27 L511.77,245.27 L512.57,245.27 L513.36,245.27 L514.15,245.27 L514.95,245.27 L515.74,245.27 L516.54,245.27 L517.33,245.26 L518.13,245.26 L518.92,245.26 L519.71,245.26 L520.51,245.26 L521.3,245.26 L522.1,245.26 L522.89,245.26 L523.68,245.26 L524.48,245.26 L525.27,245.26 L526.07,245.26 L526.86,245.26 L527.66,245.26 L528.45,245.26 L529.24,245.25 L530.04,245.25 L530.83,245.25 L531.63,245.25 L532.42,245.25 L533.22,245.25 L534.01,245.25 L534.8,245.25 L535.6,245.25 L536.39,245.25 L537.19,245.25 L537.98,245.25 L538.77,245.25 L539.57,245.25 L540.36,245.25 L541.16,245.25 L541.95,245.25 L542.75,245.25 L543.54,245.25 L544.33,245.25 L545.13,245.24 L545.92,245.24 L546.72,245.24 L547.51,245.24 L548.3,245.24 L549.1,245.24 L549.89,245.24 L550.69,245.24 L551.48,245.24 L552.28,245.24 L553.07,245.24 L553.86,245.24 L554.66,245.24 L555.45,245.24 L556.25,245.24 L557.04,245.24 L557.83,245.24 L558.63,245.24 L559.42,245.24 L560.22,245.24 L561.01,245.24 L561.81,245.24 L562.6,245.24" fill="none" stroke="#5e9646" stroke-width="3.4" stroke-linecap="round" stroke-linejoin="round" stroke-dasharray="7.7 6" stroke-dashoffset="4.3"/>
<path d="M166.3,254.42 L167.09,254.42 L167.89,254.42 L168.68,254.41 L169.48,254.41 L170.27,254.41 L171.07,254.41 L171.86,254.41 L172.65,254.41 L173.45,254.41 L174.24,254.41 L175.04,254.41 L175.83,254.4 L176.62,254.4 L177.42,254.4 L178.21,254.4 L179.01,254.4 L179.8,254.4 L180.6,254.4 L181.39,254.4 L182.18,254.39 L182.98,254.39 L183.77,254.39 L184.57,254.39 L185.36,254.39 L186.15,254.39 L186.95,254.39 L187.74,254.38 L188.54,254.38 L189.33,254.38 L190.13,254.38 L190.92,254.38 L191.71,254.38 L192.51,254.38 L193.3,254.37 L194.1,254.37 L194.89,254.37 L195.68,254.37 L196.48,254.37 L197.27,254.37 L198.07,254.37 L198.86,254.36 L199.66,254.36 L200.45,254.36 L201.24,254.36 L202.04,254.36 L202.83,254.36 L203.63,254.35 L204.42,254.35 L205.22,254.35 L206.01,254.35 L206.8,254.35 L207.6,254.35 L208.39,254.34 L209.19,254.34 L209.98,254.34 L210.77,254.34 L211.57,254.34 L212.36,254.34 L213.16,254.33 L213.95,254.33 L214.75,254.33 L215.54,254.33 L216.33,254.33 L217.13,254.33 L217.92,254.32 L218.72,254.32 L219.51,254.32 L220.3,254.32 L221.1,254.32 L221.89,254.32 L222.69,254.31 L223.48,254.31 L224.28,254.31 L225.07,254.31 L225.86,254.31 L226.66,254.31 L227.45,254.3 L228.25,254.3 L229.04,254.3 L229.84,254.3 L230.63,254.3 L231.42,254.29 L232.22,254.29 L233.01,254.29 L233.81,254.29 L234.6,254.29 L235.39,254.28 L236.19,254.28 L236.98,254.28 L237.78,254.28 L238.57,254.27 L239.37,254.27 L240.16,254.27 L240.95,254.27 L241.75,254.26 L242.54,254.26 L243.34,254.26 L244.13,254.25 L244.92,254.25 L245.72,254.25 L246.51,254.24 L247.31,254.24 L248.1,254.23 L248.9,254.23 L249.69,254.22 L250.48,254.22 L251.28,254.21 L252.07,254.21 L252.87,254.2 L253.66,254.19 L254.45,254.19 L255.25,254.18 L256.04,254.17 L256.84,254.17 L257.63,254.16 L258.43,254.15 L259.22,254.14 L260.01,254.13 L260.81,254.13 L261.6,254.12 L262.4,254.11 L263.19,254.09 L263.99,254.08 L264.78,254.07 L265.57,254.05 L266.37,254.03 L267.16,254.02 L267.96,254 L268.75,253.98 L269.54,253.96 L270.34,253.94 L271.13,253.92 L271.93,253.9 L272.72,253.88 L273.52,253.87 L274.31,253.85 L275.1,253.83 L275.9,253.81 L276.69,253.8 L277.49,253.78 L278.28,253.76 L279.07,253.75 L279.87,253.73 L280.66,253.71 L281.46,253.7 L282.25,253.68 L283.05,253.66 L283.84,253.64 L284.63,253.63 L285.43,253.61 L286.22,253.59 L287.02,253.58 L287.81,253.56 L288.61,253.54 L289.4,253.52 L290.19,253.51 L290.99,253.49 L291.78,253.48 L292.58,253.46 L293.37,253.44 L294.16,253.43 L294.96,253.41 L295.75,253.4 L296.55,253.38 L297.34,253.36 L298.14,253.35 L298.93,253.33 L299.72,253.31 L300.52,253.29 L301.31,253.27 L302.11,253.25 L302.9,253.22 L303.69,253.2 L304.49,253.17 L305.28,253.15 L306.08,253.12 L306.87,253.09 L307.67,253.06 L308.46,253.04 L309.25,253.01 L310.05,252.98 L310.84,252.95 L311.64,252.91 L312.43,252.88 L313.22,252.85 L314.02,252.82 L314.81,252.79 L315.61,252.76 L316.4,252.73 L317.2,252.69 L317.99,252.66 L318.78,252.63 L319.58,252.59 L320.37,252.56 L321.17,252.53 L321.96,252.49 L322.76,252.45 L323.55,252.42 L324.34,252.38 L325.14,252.34 L325.93,252.3 L326.73,252.26 L327.52,252.22 L328.31,252.18 L329.11,252.14 L329.9,252.1 L330.7,252.05 L331.49,252.01 L332.29,251.96 L333.08,251.92 L333.87,251.87 L334.67,251.82 L335.46,251.77 L336.26,251.72 L337.05,251.67 L337.84,251.62 L338.64,251.56 L339.43,251.51 L340.23,251.46 L341.02,251.4 L341.82,251.35 L342.61,251.29 L343.4,251.23 L344.2,251.17 L344.99,251.11 L345.79,251.05 L346.58,250.98 L347.37,250.91 L348.17,250.84 L348.96,250.77 L349.76,250.69 L350.55,250.61 L351.35,250.52 L352.14,250.43 L352.93,250.33 L353.73,250.23 L354.52,250.12 L355.32,250.02 L356.11,249.92 L356.91,249.82 L357.7,249.72 L358.49,249.62 L359.29,249.51 L360.08,249.41 L360.88,249.31 L361.67,249.21 L362.46,249.12 L363.26,249.04 L364.05,248.95 L364.85,248.87 L365.64,248.78 L366.44,248.67 L367.23,248.54 L368.02,248.41 L368.82,248.27 L369.61,248.13 L370.41,247.99 L371.2,247.86 L371.99,247.76 L372.79,247.67 L373.58,247.58 L374.38,247.51 L375.17,247.43 L375.97,247.36 L376.76,247.3 L377.55,247.23 L378.35,247.17 L379.14,247.11 L379.94,247.05 L380.73,246.99 L381.53,246.93 L382.32,246.87 L383.11,246.81 L383.91,246.74 L384.7,246.68 L385.5,246.62 L386.29,246.56 L387.08,246.5 L387.88,246.44 L388.67,246.39 L389.47,246.33 L390.26,246.28 L391.06,246.22 L391.85,246.17 L392.64,246.12 L393.44,246.08 L394.23,246.03 L395.03,245.98 L395.82,245.94 L396.61,245.9 L397.41,245.85 L398.2,245.81 L399,245.77 L399.79,245.73 L400.59,245.69 L401.38,245.65 L402.17,245.62 L402.97,245.58 L403.76,245.54 L404.56,245.51 L405.35,245.47 L406.14,245.44 L406.94,245.4 L407.73,245.37 L408.53,245.34 L409.32,245.3 L410.12,245.27 L410.91,245.24 L411.7,245.2 L412.5,245.17 L413.29,245.14 L414.09,245.11 L414.88,245.08 L415.68,245.05 L416.47,245.02 L417.26,245 L418.06,244.97 L418.85,244.94 L419.65,244.92 L420.44,244.89 L421.23,244.87 L422.03,244.85 L422.82,244.82 L423.62,244.8 L424.41,244.78 L425.21,244.76 L426,244.75 L426.79,244.73 L427.59,244.71 L428.38,244.69 L429.18,244.67 L429.97,244.66 L430.76,244.64 L431.56,244.63 L432.35,244.61 L433.15,244.59 L433.94,244.58 L434.74,244.56 L435.53,244.55 L436.32,244.53 L437.12,244.51 L437.91,244.5 L438.71,244.48 L439.5,244.46 L440.29,244.45 L441.09,244.43 L441.88,244.41 L442.68,244.4 L443.47,244.38 L444.27,244.36 L445.06,244.34 L445.85,244.32 L446.65,244.3 L447.44,244.28 L448.24,244.26 L449.03,244.24 L449.83,244.23 L450.62,244.21 L451.41,244.19 L452.21,244.17 L453,244.15 L453.8,244.14 L454.59,244.12 L455.38,244.1 L456.18,244.09 L456.97,244.07 L457.77,244.06 L458.56,244.04 L459.36,244.03 L460.15,244.01 L460.94,244 L461.74,243.99 L462.53,243.98 L463.33,243.97 L464.12,243.96 L464.91,243.95 L465.71,243.94 L466.5,243.93 L467.3,243.93 L468.09,243.92 L468.89,243.91 L469.68,243.9 L470.47,243.89 L471.27,243.89 L472.06,243.88 L472.86,243.87 L473.65,243.86 L474.45,243.86 L475.24,243.85 L476.03,243.84 L476.83,243.84 L477.62,243.83 L478.42,243.82 L479.21,243.82 L480,243.81 L480.8,243.81 L481.59,243.8 L482.39,243.79 L483.18,243.79 L483.98,243.78 L484.77,243.78 L485.56,243.77 L486.36,243.77 L487.15,243.77 L487.95,243.76 L488.74,243.76 L489.53,243.75 L490.33,243.75 L491.12,243.74 L491.92,243.74 L492.71,243.74 L493.51,243.73 L494.3,243.73 L495.09,243.72 L495.89,243.72 L496.68,243.72 L497.48,243.71 L498.27,243.71 L499.06,243.71 L499.86,243.7 L500.65,243.7 L501.45,243.7 L502.24,243.69 L503.04,243.69 L503.83,243.69 L504.62,243.68 L505.42,243.68 L506.21,243.68 L507.01,243.67 L507.8,243.67 L508.6,243.67 L509.39,243.66 L510.18,243.66 L510.98,243.66 L511.77,243.66 L512.57,243.65 L513.36,243.65 L514.15,243.65 L514.95,243.65 L515.74,243.64 L516.54,243.64 L517.33,243.64 L518.13,243.64 L518.92,243.64 L519.71,243.64 L520.51,243.63 L521.3,243.63 L522.1,243.63 L522.89,243.63 L523.68,243.63 L524.48,243.63 L525.27,243.63 L526.07,243.62 L526.86,243.62 L527.66,243.62 L528.45,243.62 L529.24,243.62 L530.04,243.62 L530.83,243.62 L531.63,243.62 L532.42,243.61 L533.22,243.61 L534.01,243.61 L534.8,243.61 L535.6,243.61 L536.39,243.61 L537.19,243.61 L537.98,243.61 L538.77,243.61 L539.57,243.61 L540.36,243.6 L541.16,243.6 L541.95,243.6 L542.75,243.6 L543.54,243.6 L544.33,243.6 L545.13,243.6 L545.92,243.6 L546.72,243.6 L547.51,243.6 L548.3,243.6 L549.1,243.6 L549.89,243.6 L550.69,243.59 L551.48,243.59 L552.28,243.59 L553.07,243.59 L553.86,243.59 L554.66,243.59 L555.45,243.59 L556.25,243.59 L557.04,243.59 L557.83,243.59 L558.63,243.59 L559.42,243.59 L560.22,243.59 L561.01,243.59 L561.81,243.59 L562.6,243.59" fill="none" stroke="#c55d33" stroke-width="3.4" stroke-linecap="round" stroke-linejoin="round" stroke-dasharray="7.7 6" stroke-dashoffset="4.3"/>
<path d="M166.3,267.06 L167.09,267.07 L167.89,267.07 L168.68,267.08 L169.47,267.09 L170.26,267.09 L171.06,267.1 L171.85,267.1 L172.64,267.11 L173.43,267.11 L174.23,267.12 L175.02,267.12 L175.81,267.12 L176.6,267.13 L177.4,267.13 L178.19,267.13 L178.98,267.14 L179.77,267.14 L180.57,267.14 L181.36,267.14 L182.15,267.15 L182.94,267.15 L183.74,267.15 L184.53,267.15 L185.32,267.15 L186.11,267.15 L186.91,267.16 L187.7,267.16 L188.49,267.16 L189.28,267.16 L190.08,267.16 L190.87,267.16 L191.66,267.16 L192.46,267.16 L193.25,267.16 L194.04,267.16 L194.83,267.16 L195.63,267.16 L196.42,267.16 L197.21,267.16 L198,267.16 L198.8,267.16 L199.59,267.15 L200.38,267.15 L201.17,267.15 L201.97,267.14 L202.76,267.14 L203.55,267.13 L204.34,267.13 L205.14,267.12 L205.93,267.12 L206.72,267.11 L207.51,267.1 L208.31,267.1 L209.1,267.09 L209.89,267.08 L210.68,267.07 L211.48,267.07 L212.27,267.06 L213.06,267.05 L213.86,267.04 L214.65,267.03 L215.44,267.02 L216.23,267.01 L217.03,267 L217.82,266.99 L218.61,266.98 L219.4,266.97 L220.2,266.96 L220.99,266.95 L221.78,266.94 L222.57,266.93 L223.37,266.92 L224.16,266.91 L224.95,266.9 L225.74,266.89 L226.54,266.87 L227.33,266.86 L228.12,266.85 L228.91,266.84 L229.71,266.83 L230.5,266.82 L231.29,266.81 L232.08,266.8 L232.88,266.78 L233.67,266.77 L234.46,266.76 L235.25,266.75 L236.05,266.73 L236.84,266.72 L237.63,266.71 L238.43,266.69 L239.22,266.68 L240.01,266.66 L240.8,266.65 L241.6,266.63 L242.39,266.62 L243.18,266.6 L243.97,266.58 L244.77,266.57 L245.56,266.55 L246.35,266.53 L247.14,266.51 L247.94,266.49 L248.73,266.48 L249.52,266.46 L250.31,266.44 L251.11,266.42 L251.9,266.4 L252.69,266.38 L253.48,266.36 L254.28,266.33 L255.07,266.31 L255.86,266.29 L256.65,266.27 L257.45,266.25 L258.24,266.22 L259.03,266.2 L259.83,266.18 L260.62,266.15 L261.41,266.13 L262.2,266.11 L263,266.08 L263.79,266.06 L264.58,266.03 L265.37,266.01 L266.17,265.98 L266.96,265.95 L267.75,265.92 L268.54,265.89 L269.34,265.86 L270.13,265.83 L270.92,265.8 L271.71,265.77 L272.51,265.73 L273.3,265.7 L274.09,265.66 L274.88,265.63 L275.68,265.59 L276.47,265.55 L277.26,265.52 L278.05,265.48 L278.85,265.44 L279.64,265.4 L280.43,265.36 L281.22,265.32 L282.02,265.28 L282.81,265.23 L283.6,265.19 L284.4,265.15 L285.19,265.11 L285.98,265.06 L286.77,265.02 L287.57,264.97 L288.36,264.93 L289.15,264.88 L289.94,264.83 L290.74,264.78 L291.53,264.73 L292.32,264.68 L293.11,264.63 L293.91,264.58 L294.7,264.52 L295.49,264.47 L296.28,264.41 L297.08,264.35 L297.87,264.29 L298.66,264.23 L299.45,264.17 L300.25,264.11 L301.04,264.04 L301.83,263.98 L302.62,263.91 L303.42,263.85 L304.21,263.78 L305,263.71 L305.79,263.64 L306.59,263.57 L307.38,263.49 L308.17,263.42 L308.97,263.34 L309.76,263.26 L310.55,263.18 L311.34,263.09 L312.14,263 L312.93,262.91 L313.72,262.82 L314.51,262.73 L315.31,262.63 L316.1,262.54 L316.89,262.44 L317.68,262.34 L318.48,262.23 L319.27,262.13 L320.06,262.03 L320.85,261.92 L321.65,261.81 L322.44,261.71 L323.23,261.6 L324.02,261.49 L324.82,261.37 L325.61,261.26 L326.4,261.14 L327.19,261.02 L327.99,260.9 L328.78,260.77 L329.57,260.64 L330.37,260.51 L331.16,260.37 L331.95,260.23 L332.74,260.08 L333.54,259.93 L334.33,259.77 L335.12,259.6 L335.91,259.42 L336.71,259.23 L337.5,259.03 L338.29,258.83 L339.08,258.62 L339.88,258.41 L340.67,258.2 L341.46,257.99 L342.25,257.77 L343.05,257.57 L343.84,257.36 L344.63,257.17 L345.42,256.98 L346.22,256.79 L347.01,256.58 L347.8,256.37 L348.59,256.13 L349.39,255.86 L350.18,255.55 L350.97,255.24 L351.76,254.94 L352.56,254.63 L353.35,254.32 L354.14,253.97 L354.94,253.6 L355.73,253.2 L356.52,252.78 L357.31,252.35 L358.11,251.88 L358.9,251.41 L359.69,250.95 L360.48,250.47 L361.28,250.02 L362.07,249.65 L362.86,249.4 L363.65,249.21 L364.45,248.99 L365.24,248.62 L366.03,248.05 L366.82,247.45 L367.62,246.91 L368.41,246.38 L369.2,245.91 L369.99,245.48 L370.79,245.08 L371.58,244.72 L372.37,244.38 L373.16,244.07 L373.96,243.77 L374.75,243.47 L375.54,243.16 L376.34,242.86 L377.13,242.55 L377.92,242.22 L378.71,241.84 L379.51,241.39 L380.3,240.93 L381.09,240.53 L381.88,240.22 L382.68,239.95 L383.47,239.69 L384.26,239.45 L385.05,239.22 L385.85,239.01 L386.64,238.8 L387.43,238.61 L388.22,238.43 L389.02,238.25 L389.81,238.08 L390.6,237.91 L391.39,237.74 L392.19,237.57 L392.98,237.41 L393.77,237.25 L394.56,237.09 L395.36,236.94 L396.15,236.79 L396.94,236.64 L397.73,236.5 L398.53,236.36 L399.32,236.22 L400.11,236.09 L400.91,235.96 L401.7,235.84 L402.49,235.71 L403.28,235.6 L404.08,235.49 L404.87,235.38 L405.66,235.28 L406.45,235.17 L407.25,235.08 L408.04,234.98 L408.83,234.89 L409.62,234.8 L410.42,234.71 L411.21,234.62 L412,234.54 L412.79,234.45 L413.59,234.37 L414.38,234.29 L415.17,234.22 L415.96,234.14 L416.76,234.07 L417.55,234 L418.34,233.93 L419.13,233.86 L419.93,233.79 L420.72,233.73 L421.51,233.66 L422.31,233.6 L423.1,233.54 L423.89,233.48 L424.68,233.42 L425.48,233.36 L426.27,233.3 L427.06,233.25 L427.85,233.19 L428.65,233.14 L429.44,233.08 L430.23,233.03 L431.02,232.97 L431.82,232.92 L432.61,232.87 L433.4,232.82 L434.19,232.77 L434.99,232.72 L435.78,232.68 L436.57,232.63 L437.36,232.59 L438.16,232.54 L438.95,232.5 L439.74,232.46 L440.53,232.42 L441.33,232.38 L442.12,232.34 L442.91,232.3 L443.7,232.27 L444.5,232.23 L445.29,232.2 L446.08,232.17 L446.88,232.14 L447.67,232.1 L448.46,232.07 L449.25,232.04 L450.05,232.01 L450.84,231.98 L451.63,231.95 L452.42,231.92 L453.22,231.89 L454.01,231.86 L454.8,231.83 L455.59,231.81 L456.39,231.78 L457.18,231.75 L457.97,231.73 L458.76,231.7 L459.56,231.68 L460.35,231.65 L461.14,231.63 L461.93,231.61 L462.73,231.58 L463.52,231.56 L464.31,231.54 L465.1,231.52 L465.9,231.5 L466.69,231.48 L467.48,231.46 L468.27,231.44 L469.07,231.42 L469.86,231.41 L470.65,231.39 L471.45,231.38 L472.24,231.36 L473.03,231.34 L473.82,231.33 L474.62,231.32 L475.41,231.3 L476.2,231.29 L476.99,231.27 L477.79,231.26 L478.58,231.25 L479.37,231.23 L480.16,231.22 L480.96,231.21 L481.75,231.2 L482.54,231.18 L483.33,231.17 L484.13,231.16 L484.92,231.15 L485.71,231.14 L486.5,231.13 L487.3,231.12 L488.09,231.11 L488.88,231.1 L489.67,231.09 L490.47,231.08 L491.26,231.07 L492.05,231.06 L492.85,231.05 L493.64,231.04 L494.43,231.03 L495.22,231.02 L496.02,231.01 L496.81,231 L497.6,231 L498.39,230.99 L499.19,230.98 L499.98,230.97 L500.77,230.97 L501.56,230.96 L502.36,230.95 L503.15,230.94 L503.94,230.94 L504.73,230.93 L505.53,230.92 L506.32,230.91 L507.11,230.91 L507.9,230.9 L508.7,230.89 L509.49,230.88 L510.28,230.88 L511.07,230.87 L511.87,230.86 L512.66,230.86 L513.45,230.85 L514.24,230.84 L515.04,230.84 L515.83,230.83 L516.62,230.82 L517.42,230.82 L518.21,230.81 L519,230.81 L519.79,230.8 L520.59,230.8 L521.38,230.79 L522.17,230.79 L522.96,230.79 L523.76,230.78 L524.55,230.78 L525.34,230.78 L526.13,230.77 L526.93,230.77 L527.72,230.77 L528.51,230.77 L529.3,230.77 L530.1,230.77 L530.89,230.77 L531.68,230.77 L532.47,230.77 L533.27,230.77 L534.06,230.77 L534.85,230.77 L535.64,230.78 L536.44,230.78 L537.23,230.78 L538.02,230.78 L538.82,230.78 L539.61,230.79 L540.4,230.79 L541.19,230.79 L541.99,230.8 L542.78,230.8 L543.57,230.8 L544.36,230.81 L545.16,230.81 L545.95,230.82 L546.74,230.82 L547.53,230.83 L548.33,230.83 L549.12,230.84 L549.91,230.84 L550.7,230.85 L551.5,230.85 L552.29,230.86 L553.08,230.87 L553.87,230.87 L554.67,230.88 L555.46,230.89 L556.25,230.9 L557.04,230.91 L557.84,230.91 L558.63,230.92 L559.42,230.93 L560.21,230.94 L561.01,230.95 L561.8,230.96" fill="none" stroke="#6143a0" stroke-width="3.4" stroke-linecap="round" stroke-linejoin="round" stroke-dasharray="7.7 6" stroke-dashoffset="4.3"/>
<rect x="130.4" y="225.4" width="468.2" height="47.5" fill="none" stroke="#7f7f7f" stroke-width="2.6"/>
<line x1="599.3" y1="225.4" x2="665.6" y2="15.6" stroke="#7f7f7f" stroke-width="2.9" stroke-linecap="butt"/>
<line x1="599.3" y1="272.9" x2="665.6" y2="482.4" stroke="#595959" stroke-width="2.9" stroke-linecap="butt"/>
<path d="M564.2,737.1 L563.41,737.1 L562.62,737.1 L561.83,737.1 L561.04,737.1 L560.26,737.1 L559.47,737.1 L558.68,737.1 L557.89,737.1 L557.1,737.1 L556.31,737.1 L555.52,737.1 L554.73,737.1 L553.94,737.1 L553.15,737.1 L552.37,737.1 L551.58,737.1 L550.79,737.1 L550,737.1 L549.21,737.1 L548.42,737.1 L547.63,737.1 L546.84,737.1 L546.05,737.1 L545.26,737.1 L544.48,737.1 L543.69,737.1 L542.9,737.1 L542.11,737.1 L541.32,737.1 L540.53,737.1 L539.74,737.1 L538.95,737.1 L538.16,737.1 L537.37,737.1 L536.59,737.1 L535.8,737.1 L535.01,737.1 L534.22,737.1 L533.43,737.1 L532.64,737.1 L531.85,737.1 L531.06,737.1 L530.27,737.1 L529.48,737.1 L528.7,737.1 L527.91,737.1 L527.12,737.1 L526.33,737.1 L525.54,737.1 L524.75,737.1 L523.96,737.1 L523.17,737.1 L522.38,737.1 L521.6,737.1 L520.81,737.1 L520.02,737.1 L519.23,737.1 L518.44,737.1 L517.65,737.1 L516.86,737.1 L516.07,737.1 L515.28,737.1 L514.49,737.1 L513.71,737.1 L512.92,737.1 L512.13,737.1 L511.34,737.1 L510.55,737.1 L509.76,737.1 L508.97,737.1 L508.18,737.1 L507.39,737.1 L506.6,737.1 L505.82,737.1 L505.03,737.1 L504.24,737.1 L503.45,737.1 L502.66,737.1 L501.87,737.1 L501.08,737.1 L500.29,737.1 L499.5,737.1 L498.71,737.1 L497.93,737.1 L497.14,737.1 L496.35,737.1 L495.56,737.1 L494.77,737.1 L493.98,737.1 L493.19,737.1 L492.4,737.1 L491.61,737.1 L490.83,737.1 L490.04,737.1 L489.25,737.1 L488.46,737.1 L487.67,737.1 L486.88,737.1 L486.09,737.1 L485.3,737.1 L484.51,737.11 L483.72,737.11 L482.94,737.11 L482.15,737.11 L481.36,737.11 L480.57,737.11 L479.78,737.11 L478.99,737.11 L478.2,737.11 L477.41,737.11 L476.62,737.11 L475.83,737.11 L475.05,737.11 L474.26,737.11 L473.47,737.12 L472.68,737.12 L471.89,737.12 L471.1,737.12 L470.31,737.12 L469.52,737.12 L468.73,737.12 L467.94,737.12 L467.16,737.12 L466.37,737.12 L465.58,737.13 L464.79,737.13 L464,737.13 L463.21,737.13 L462.42,737.13 L461.63,737.13 L460.84,737.13 L460.05,737.13 L459.27,737.13 L458.48,737.14 L457.69,737.14 L456.9,737.14 L456.11,737.14 L455.32,737.14 L454.53,737.15 L453.74,737.15 L452.95,737.15 L452.17,737.15 L451.38,737.16 L450.59,737.16 L449.8,737.16 L449.01,737.17 L448.22,737.17 L447.43,737.18 L446.64,737.18 L445.85,737.19 L445.06,737.19 L444.28,737.19 L443.49,737.2 L442.7,737.21 L441.91,737.21 L441.12,737.22 L440.33,737.22 L439.54,737.23 L438.75,737.23 L437.96,737.24 L437.17,737.25 L436.39,737.25 L435.6,737.26 L434.81,737.27 L434.02,737.27 L433.23,737.28 L432.44,737.29 L431.65,737.3 L430.86,737.3 L430.07,737.31 L429.28,737.32 L428.5,737.34 L427.71,737.35 L426.92,737.36 L426.13,737.37 L425.34,737.39 L424.55,737.4 L423.76,737.42 L422.97,737.44 L422.18,737.45 L421.39,737.47 L420.61,737.49 L419.82,737.51 L419.03,737.53 L418.24,737.55 L417.45,737.57 L416.66,737.6 L415.87,737.62 L415.08,737.64 L414.29,737.67 L413.51,737.69 L412.72,737.72 L411.93,737.75 L411.14,737.77 L410.35,737.8 L409.56,737.83 L408.77,737.86 L407.98,737.89 L407.19,737.92 L406.4,737.95 L405.62,737.98 L404.83,738.01 L404.04,738.04 L403.25,738.08 L402.46,738.12 L401.67,738.17 L400.88,738.21 L400.09,738.26 L399.3,738.32 L398.51,738.37 L397.73,738.43 L396.94,738.49 L396.15,738.55 L395.36,738.61 L394.57,738.68 L393.78,738.75 L392.99,738.81 L392.2,738.88 L391.41,738.96 L390.62,739.03 L389.84,739.1 L389.05,739.18 L388.26,739.25 L387.47,739.33 L386.68,739.41 L385.89,739.5 L385.1,739.58 L384.31,739.68 L383.52,739.77 L382.74,739.87 L381.95,739.98 L381.16,740.09 L380.37,740.21 L379.58,740.33 L378.79,740.47 L378,740.61 L377.21,740.76 L376.42,740.92 L375.63,741.1 L374.85,741.3 L374.06,741.52 L373.27,741.75 L372.48,741.99 L371.69,742.26 L370.9,742.54 L370.11,742.84 L369.32,743.16 L368.53,743.53 L367.74,743.94 L366.96,744.42 L366.17,744.97 L365.38,745.6 L364.59,746.46 L363.8,747.53 L363.01,748.67 L362.22,749.83 L361.43,751.1 L360.64,752.42 L359.85,753.73 L359.07,755.03 L358.28,756.35 L357.49,757.64 L356.7,758.83 L355.91,759.97 L355.12,761.07 L354.33,762 L353.54,762.68 L352.75,763.24 L351.96,763.74 L351.18,764.17 L350.39,764.54 L349.6,764.87 L348.81,765.18 L348.02,765.47 L347.23,765.74 L346.44,765.99 L345.65,766.22 L344.86,766.44 L344.08,766.64 L343.29,766.83 L342.5,767 L341.71,767.16 L340.92,767.3 L340.13,767.43 L339.34,767.56 L338.55,767.68 L337.76,767.79 L336.97,767.9 L336.19,768 L335.4,768.1 L334.61,768.19 L333.82,768.28 L333.03,768.36 L332.24,768.45 L331.45,768.53 L330.66,768.6 L329.87,768.68 L329.08,768.75 L328.3,768.82 L327.51,768.9 L326.72,768.97 L325.93,769.04 L325.14,769.1 L324.35,769.17 L323.56,769.23 L322.77,769.3 L321.98,769.36 L321.19,769.41 L320.41,769.47 L319.62,769.52 L318.83,769.57 L318.04,769.62 L317.25,769.67 L316.46,769.71 L315.67,769.75 L314.88,769.78 L314.09,769.81 L313.31,769.85 L312.52,769.88 L311.73,769.91 L310.94,769.94 L310.15,769.96 L309.36,769.99 L308.57,770.02 L307.78,770.05 L306.99,770.07 L306.2,770.1 L305.42,770.12 L304.63,770.15 L303.84,770.17 L303.05,770.2 L302.26,770.22 L301.47,770.24 L300.68,770.26 L299.89,770.28 L299.1,770.3 L298.31,770.32 L297.53,770.34 L296.74,770.36 L295.95,770.38 L295.16,770.39 L294.37,770.41 L293.58,770.42 L292.79,770.44 L292,770.45 L291.21,770.46 L290.42,770.47 L289.64,770.48 L288.85,770.49 L288.06,770.5 L287.27,770.51 L286.48,770.52 L285.69,770.53 L284.9,770.53 L284.11,770.54 L283.32,770.55 L282.53,770.55 L281.75,770.56 L280.96,770.56 L280.17,770.57 L279.38,770.58 L278.59,770.58 L277.8,770.59 L277.01,770.59 L276.22,770.6 L275.43,770.6 L274.65,770.61 L273.86,770.61 L273.07,770.62 L272.28,770.62 L271.49,770.63 L270.7,770.63 L269.91,770.63 L269.12,770.64 L268.33,770.64 L267.54,770.64 L266.76,770.65 L265.97,770.65 L265.18,770.65 L264.39,770.66 L263.6,770.66 L262.81,770.66 L262.02,770.66 L261.23,770.66 L260.44,770.67 L259.65,770.67 L258.87,770.67 L258.08,770.67 L257.29,770.67 L256.5,770.67 L255.71,770.67 L254.92,770.67 L254.13,770.67 L253.34,770.68 L252.55,770.68 L251.76,770.68 L250.98,770.68 L250.19,770.68 L249.4,770.68 L248.61,770.68 L247.82,770.68 L247.03,770.68 L246.24,770.68 L245.45,770.69 L244.66,770.69 L243.87,770.69 L243.09,770.69 L242.3,770.69 L241.51,770.69 L240.72,770.69 L239.93,770.69 L239.14,770.69 L238.35,770.69 L237.56,770.69 L236.77,770.69 L235.99,770.69 L235.2,770.69 L234.41,770.69 L233.62,770.7 L232.83,770.7 L232.04,770.7 L231.25,770.7 L230.46,770.7 L229.67,770.7 L228.88,770.7 L228.1,770.7 L227.31,770.7 L226.52,770.7 L225.73,770.7 L224.94,770.7 L224.15,770.7 L223.36,770.7 L222.57,770.7 L221.78,770.7 L220.99,770.7 L220.21,770.7 L219.42,770.7 L218.63,770.7 L217.84,770.7 L217.05,770.7 L216.26,770.7 L215.47,770.7 L214.68,770.7 L213.89,770.7 L213.1,770.7 L212.32,770.7 L211.53,770.7 L210.74,770.7 L209.95,770.7 L209.16,770.7 L208.37,770.7 L207.58,770.7 L206.79,770.7 L206,770.7 L205.22,770.7 L204.43,770.7 L203.64,770.7 L202.85,770.7 L202.06,770.7 L201.27,770.7 L200.48,770.7 L199.69,770.7 L198.9,770.7 L198.11,770.7 L197.33,770.7 L196.54,770.7 L195.75,770.7 L194.96,770.7 L194.17,770.7 L193.38,770.7 L192.59,770.7 L191.8,770.7 L191.01,770.7 L190.22,770.7 L189.44,770.7 L188.65,770.7 L187.86,770.7 L187.07,770.7 L186.28,770.7 L185.49,770.7 L184.7,770.7 L183.91,770.7 L183.12,770.7 L182.33,770.7 L181.55,770.7 L180.76,770.7 L179.97,770.7 L179.18,770.7 L178.39,770.7 L177.6,770.7 L176.81,770.7 L176.02,770.7 L175.23,770.7 L174.44,770.7 L173.66,770.7 L172.87,770.7 L172.08,770.7 L171.29,770.7 L170.5,770.7" fill="none" stroke="#79aedd" stroke-width="3.5" stroke-linecap="round" stroke-linejoin="round" stroke-dasharray="24.5 9.8"/>
<path d="M170.5,770.7 L171.29,770.7 L172.08,770.7 L172.87,770.7 L173.66,770.7 L174.44,770.7 L175.23,770.7 L176.02,770.7 L176.81,770.7 L177.6,770.7 L178.39,770.7 L179.18,770.7 L179.97,770.7 L180.76,770.7 L181.55,770.7 L182.33,770.7 L183.12,770.7 L183.91,770.7 L184.7,770.7 L185.49,770.7 L186.28,770.7 L187.07,770.7 L187.86,770.7 L188.65,770.7 L189.44,770.7 L190.22,770.7 L191.01,770.7 L191.8,770.7 L192.59,770.7 L193.38,770.7 L194.17,770.7 L194.96,770.7 L195.75,770.7 L196.54,770.7 L197.33,770.7 L198.11,770.7 L198.9,770.7 L199.69,770.7 L200.48,770.7 L201.27,770.7 L202.06,770.7 L202.85,770.7 L203.64,770.7 L204.43,770.7 L205.22,770.7 L206,770.7 L206.79,770.7 L207.58,770.7 L208.37,770.7 L209.16,770.7 L209.95,770.7 L210.74,770.7 L211.53,770.7 L212.32,770.7 L213.1,770.7 L213.89,770.7 L214.68,770.7 L215.47,770.7 L216.26,770.7 L217.05,770.7 L217.84,770.7 L218.63,770.7 L219.42,770.7 L220.21,770.7 L220.99,770.7 L221.78,770.7 L222.57,770.7 L223.36,770.7 L224.15,770.7 L224.94,770.7 L225.73,770.7 L226.52,770.7 L227.31,770.7 L228.1,770.7 L228.88,770.7 L229.67,770.7 L230.46,770.7 L231.25,770.7 L232.04,770.7 L232.83,770.7 L233.62,770.7 L234.41,770.7 L235.2,770.7 L235.99,770.7 L236.77,770.7 L237.56,770.7 L238.35,770.7 L239.14,770.7 L239.93,770.7 L240.72,770.7 L241.51,770.7 L242.3,770.7 L243.09,770.7 L243.87,770.7 L244.66,770.69 L245.45,770.69 L246.24,770.69 L247.03,770.69 L247.82,770.69 L248.61,770.69 L249.4,770.69 L250.19,770.69 L250.98,770.69 L251.76,770.69 L252.55,770.69 L253.34,770.69 L254.13,770.69 L254.92,770.69 L255.71,770.68 L256.5,770.68 L257.29,770.68 L258.08,770.68 L258.87,770.68 L259.65,770.68 L260.44,770.68 L261.23,770.68 L262.02,770.68 L262.81,770.68 L263.6,770.67 L264.39,770.67 L265.18,770.67 L265.97,770.67 L266.76,770.67 L267.54,770.67 L268.33,770.67 L269.12,770.67 L269.91,770.67 L270.7,770.66 L271.49,770.66 L272.28,770.66 L273.07,770.66 L273.86,770.66 L274.65,770.65 L275.43,770.65 L276.22,770.65 L277.01,770.64 L277.8,770.64 L278.59,770.64 L279.38,770.63 L280.17,770.63 L280.96,770.63 L281.75,770.62 L282.53,770.62 L283.32,770.61 L284.11,770.61 L284.9,770.6 L285.69,770.6 L286.48,770.59 L287.27,770.59 L288.06,770.58 L288.85,770.58 L289.64,770.57 L290.42,770.57 L291.21,770.56 L292,770.55 L292.79,770.55 L293.58,770.54 L294.37,770.53 L295.16,770.53 L295.95,770.52 L296.74,770.51 L297.53,770.5 L298.31,770.49 L299.1,770.48 L299.89,770.47 L300.68,770.46 L301.47,770.45 L302.26,770.44 L303.05,770.42 L303.84,770.41 L304.63,770.39 L305.42,770.38 L306.2,770.36 L306.99,770.34 L307.78,770.32 L308.57,770.3 L309.36,770.28 L310.15,770.26 L310.94,770.24 L311.73,770.22 L312.52,770.2 L313.31,770.17 L314.09,770.15 L314.88,770.13 L315.67,770.1 L316.46,770.07 L317.25,770.05 L318.04,770.02 L318.83,769.99 L319.62,769.97 L320.41,769.94 L321.19,769.91 L321.98,769.88 L322.77,769.85 L323.56,769.82 L324.35,769.78 L325.14,769.75 L325.93,769.71 L326.72,769.67 L327.51,769.62 L328.3,769.57 L329.08,769.52 L329.87,769.47 L330.66,769.42 L331.45,769.36 L332.24,769.3 L333.03,769.24 L333.82,769.17 L334.61,769.11 L335.4,769.04 L336.19,768.97 L336.97,768.9 L337.76,768.83 L338.55,768.75 L339.34,768.68 L340.13,768.61 L340.92,768.53 L341.71,768.45 L342.5,768.37 L343.29,768.28 L344.08,768.2 L344.86,768.1 L345.65,768.01 L346.44,767.9 L347.23,767.8 L348.02,767.68 L348.81,767.56 L349.6,767.44 L350.39,767.3 L351.18,767.16 L351.96,767.01 L352.75,766.84 L353.54,766.65 L354.33,766.45 L355.12,766.23 L355.91,766 L356.7,765.75 L357.49,765.48 L358.28,765.19 L359.07,764.89 L359.85,764.56 L360.64,764.19 L361.43,763.76 L362.22,763.27 L363.01,762.7 L363.8,762.03 L364.59,761.11 L365.38,760.02 L366.17,758.88 L366.96,757.69 L367.74,756.41 L368.53,755.08 L369.32,753.78 L370.11,752.47 L370.9,751.15 L371.69,749.88 L372.48,748.71 L373.27,747.57 L374.06,746.5 L374.85,745.63 L375.63,744.99 L376.42,744.44 L377.21,743.96 L378,743.54 L378.79,743.18 L379.58,742.86 L380.37,742.55 L381.16,742.27 L381.95,742.01 L382.74,741.76 L383.52,741.53 L384.31,741.31 L385.1,741.11 L385.89,740.93 L386.68,740.76 L387.47,740.61 L388.26,740.47 L389.05,740.34 L389.84,740.21 L390.62,740.1 L391.41,739.98 L392.2,739.88 L392.99,739.78 L393.78,739.68 L394.57,739.59 L395.36,739.5 L396.15,739.42 L396.94,739.34 L397.73,739.26 L398.51,739.18 L399.3,739.11 L400.09,739.03 L400.88,738.96 L401.67,738.89 L402.46,738.82 L403.25,738.75 L404.04,738.68 L404.83,738.62 L405.62,738.55 L406.4,738.49 L407.19,738.43 L407.98,738.37 L408.77,738.32 L409.56,738.27 L410.35,738.22 L411.14,738.17 L411.93,738.13 L412.72,738.08 L413.51,738.05 L414.29,738.01 L415.08,737.98 L415.87,737.95 L416.66,737.92 L417.45,737.89 L418.24,737.86 L419.03,737.83 L419.82,737.8 L420.61,737.77 L421.39,737.75 L422.18,737.72 L422.97,737.69 L423.76,737.67 L424.55,737.65 L425.34,737.62 L426.13,737.6 L426.92,737.58 L427.71,737.55 L428.5,737.53 L429.28,737.51 L430.07,737.49 L430.86,737.47 L431.65,737.46 L432.44,737.44 L433.23,737.42 L434.02,737.4 L434.81,737.39 L435.6,737.37 L436.39,737.36 L437.17,737.35 L437.96,737.34 L438.75,737.32 L439.54,737.31 L440.33,737.3 L441.12,737.3 L441.91,737.29 L442.7,737.28 L443.49,737.27 L444.28,737.27 L445.06,737.26 L445.85,737.25 L446.64,737.25 L447.43,737.24 L448.22,737.23 L449.01,737.23 L449.8,737.22 L450.59,737.22 L451.38,737.21 L452.17,737.21 L452.95,737.2 L453.74,737.2 L454.53,737.19 L455.32,737.19 L456.11,737.18 L456.9,737.18 L457.69,737.17 L458.48,737.17 L459.27,737.16 L460.05,737.16 L460.84,737.16 L461.63,737.15 L462.42,737.15 L463.21,737.15 L464,737.15 L464.79,737.14 L465.58,737.14 L466.37,737.14 L467.16,737.14 L467.94,737.14 L468.73,737.13 L469.52,737.13 L470.31,737.13 L471.1,737.13 L471.89,737.13 L472.68,737.13 L473.47,737.13 L474.26,737.13 L475.05,737.13 L475.83,737.12 L476.62,737.12 L477.41,737.12 L478.2,737.12 L478.99,737.12 L479.78,737.12 L480.57,737.12 L481.36,737.12 L482.15,737.12 L482.94,737.12 L483.72,737.11 L484.51,737.11 L485.3,737.11 L486.09,737.11 L486.88,737.11 L487.67,737.11 L488.46,737.11 L489.25,737.11 L490.04,737.11 L490.83,737.11 L491.61,737.11 L492.4,737.11 L493.19,737.11 L493.98,737.11 L494.77,737.1 L495.56,737.1 L496.35,737.1 L497.14,737.1 L497.93,737.1 L498.71,737.1 L499.5,737.1 L500.29,737.1 L501.08,737.1 L501.87,737.1 L502.66,737.1 L503.45,737.1 L504.24,737.1 L505.03,737.1 L505.82,737.1 L506.6,737.1 L507.39,737.1 L508.18,737.1 L508.97,737.1 L509.76,737.1 L510.55,737.1 L511.34,737.1 L512.13,737.1 L512.92,737.1 L513.71,737.1 L514.49,737.1 L515.28,737.1 L516.07,737.1 L516.86,737.1 L517.65,737.1 L518.44,737.1 L519.23,737.1 L520.02,737.1 L520.81,737.1 L521.6,737.1 L522.38,737.1 L523.17,737.1 L523.96,737.1 L524.75,737.1 L525.54,737.1 L526.33,737.1 L527.12,737.1 L527.91,737.1 L528.7,737.1 L529.48,737.1 L530.27,737.1 L531.06,737.1 L531.85,737.1 L532.64,737.1 L533.43,737.1 L534.22,737.1 L535.01,737.1 L535.8,737.1 L536.59,737.1 L537.37,737.1 L538.16,737.1 L538.95,737.1 L539.74,737.1 L540.53,737.1 L541.32,737.1 L542.11,737.1 L542.9,737.1 L543.69,737.1 L544.48,737.1 L545.26,737.1 L546.05,737.1 L546.84,737.1 L547.63,737.1 L548.42,737.1 L549.21,737.1 L550,737.1 L550.79,737.1 L551.58,737.1 L552.37,737.1 L553.15,737.1 L553.94,737.1 L554.73,737.1 L555.52,737.1 L556.31,737.1 L557.1,737.1 L557.89,737.1 L558.68,737.1 L559.47,737.1 L560.26,737.1 L561.04,737.1 L561.83,737.1 L562.62,737.1 L563.41,737.1 L564.2,737.1" fill="none" stroke="#79aedd" stroke-width="3.5" stroke-linecap="round" stroke-linejoin="round" stroke-dasharray="24.5 9.8"/>
<path d="M168.9,931.13 L169.56,931.13 L170.23,931.13 L170.89,931.13 L171.55,931.13 L172.22,931.13 L172.88,931.13 L173.54,931.13 L174.21,931.13 L174.87,931.13 L175.54,931.13 L176.2,931.13 L176.86,931.13 L177.53,931.13 L178.19,931.13 L178.85,931.13 L179.52,931.13 L180.18,931.13 L180.84,931.13 L181.51,931.13 L182.17,931.13 L182.83,931.13 L183.5,931.13 L184.16,931.13 L184.83,931.13 L185.49,931.13 L186.15,931.13 L186.82,931.13 L187.48,931.13 L188.14,931.13 L188.81,931.13 L189.47,931.13 L190.13,931.13 L190.8,931.13 L191.46,931.13 L192.13,931.13 L192.79,931.13 L193.45,931.13 L194.12,931.13 L194.78,931.13 L195.44,931.13 L196.11,931.13 L196.77,931.13 L197.43,931.13 L198.1,931.13 L198.76,931.13 L199.43,931.13 L200.09,931.13 L200.75,931.13 L201.42,931.13 L202.08,931.13 L202.74,931.13 L203.41,931.13 L204.07,931.13 L204.73,931.13 L205.4,931.13 L206.06,931.13 L206.72,931.13 L207.39,931.13 L208.05,931.13 L208.72,931.13 L209.38,931.13 L210.04,931.13 L210.71,931.13 L211.37,931.13 L212.03,931.13 L212.7,931.12 L213.36,931.12 L214.02,931.11 L214.69,931.1 L215.35,931.09 L216.02,931.07 L216.68,931.06 L217.34,931.04 L218.01,931.02 L218.67,931.01 L219.33,930.98 L220,930.96 L220.66,930.94 L221.32,930.91 L221.99,930.89 L222.65,930.86 L223.31,930.83 L223.98,930.8 L224.64,930.77 L225.31,930.73 L225.97,930.7 L226.63,930.66 L227.3,930.63 L227.96,930.59 L228.62,930.55 L229.29,930.51 L229.95,930.47 L230.61,930.43 L231.28,930.39 L231.94,930.35 L232.61,930.31 L233.27,930.26 L233.93,930.22 L234.6,930.18 L235.26,930.13 L235.92,930.08 L236.59,930.04 L237.25,929.99 L237.91,929.95 L238.58,929.9 L239.24,929.85 L239.9,929.8 L240.57,929.75 L241.23,929.71 L241.9,929.66 L242.56,929.61 L243.22,929.56 L243.89,929.51 L244.55,929.46 L245.21,929.42 L245.88,929.37 L246.54,929.32 L247.2,929.27 L247.87,929.22 L248.53,929.18 L249.2,929.13 L249.86,929.08 L250.52,929.04 L251.19,928.99 L251.85,928.94 L252.51,928.89 L253.18,928.85 L253.84,928.8 L254.5,928.75 L255.17,928.7 L255.83,928.65 L256.5,928.59 L257.16,928.54 L257.82,928.49 L258.49,928.43 L259.15,928.38 L259.81,928.32 L260.48,928.27 L261.14,928.21 L261.8,928.15 L262.47,928.1 L263.13,928.04 L263.79,927.98 L264.46,927.92 L265.12,927.86 L265.79,927.79 L266.45,927.73 L267.11,927.67 L267.78,927.61 L268.44,927.54 L269.1,927.47 L269.77,927.41 L270.43,927.34 L271.09,927.27 L271.76,927.2 L272.42,927.13 L273.09,927.06 L273.75,926.99 L274.41,926.92 L275.08,926.85 L275.74,926.77 L276.4,926.7 L277.07,926.62 L277.73,926.54 L278.39,926.47 L279.06,926.39 L279.72,926.31 L280.38,926.23 L281.05,926.15 L281.71,926.07 L282.38,925.98 L283.04,925.9 L283.7,925.81 L284.37,925.73 L285.03,925.64 L285.69,925.55 L286.36,925.46 L287.02,925.37 L287.68,925.28 L288.35,925.19 L289.01,925.1 L289.68,925 L290.34,924.91 L291,924.81 L291.67,924.71 L292.33,924.6 L292.99,924.5 L293.66,924.39 L294.32,924.28 L294.98,924.17 L295.65,924.05 L296.31,923.94 L296.97,923.82 L297.64,923.69 L298.3,923.56 L298.97,923.43 L299.63,923.3 L300.29,923.16 L300.96,923.02 L301.62,922.88 L302.28,922.73 L302.95,922.58 L303.61,922.43 L304.27,922.27 L304.94,922.11 L305.6,921.94 L306.27,921.77 L306.93,921.6 L307.59,921.42 L308.26,921.23 L308.92,921.05 L309.58,920.85 L310.25,920.65 L310.91,920.43 L311.57,920.2 L312.24,919.96 L312.9,919.71 L313.56,919.45 L314.23,919.18 L314.89,918.91 L315.56,918.62 L316.22,918.32 L316.88,918.01 L317.55,917.7 L318.21,917.38 L318.87,917.05 L319.54,916.71 L320.2,916.36 L320.86,916.01 L321.53,915.65 L322.19,915.29 L322.85,914.92 L323.52,914.54 L324.18,914.16 L324.85,913.77 L325.51,913.38 L326.17,912.97 L326.84,912.56 L327.5,912.13 L328.16,911.69 L328.83,911.24 L329.49,910.77 L330.15,910.29 L330.82,909.79 L331.48,909.28 L332.14,908.75 L332.81,908.2 L333.47,907.63 L334.14,907.04 L334.8,906.43 L335.46,905.8 L336.13,905.15 L336.79,904.47 L337.45,903.77 L338.12,903.04 L338.78,902.25 L339.44,901.42 L340.11,900.53 L340.77,899.59 L341.43,898.61 L342.1,897.58 L342.76,896.5 L343.42,895.37 L344.09,894.2 L344.75,892.98 L345.41,891.71 L346.08,890.41 L346.74,889.05 L347.4,887.62 L348.07,886.09 L348.73,884.47 L349.39,882.74 L350.05,880.9 L350.72,878.96 L351.38,876.89 L352.04,874.7 L352.7,872.38 L353.37,869.9 L354.03,867.1 L354.69,864 L355.35,860.65 L356.01,857.08 L356.66,853.33 L357.32,849.43 L357.98,845.44 L358.63,841.27 L359.28,836.81 L359.92,832.08 L360.56,827.1 L361.19,821.89 L361.81,816.48 L362.41,810.97 L363,805.29 L363.56,799.22 L364.07,792.52 L364.53,784.98 L364.84,775.41 L364.97,763.77 L365.05,752.54 L365.23,743.29 L365.49,734.74 L365.84,726.68 L366.26,718.99 L366.74,711.57 L367.27,704.28 L367.83,697.02 L368.42,689.75 L369.03,682.65 L369.65,675.88 L370.29,669.6 L370.94,663.98 L371.59,658.85 L372.24,653.89 L372.9,649.19 L373.56,644.81 L374.22,640.83 L374.88,637.32 L375.54,634.35 L376.2,631.79 L376.86,629.38 L377.53,627.12 L378.19,624.99 L378.85,622.99 L379.52,621.14 L380.18,619.41 L380.84,617.82 L381.5,616.36 L382.17,615.02 L382.83,613.81 L383.49,612.72 L384.16,611.71 L384.82,610.74 L385.48,609.81 L386.15,608.92 L386.81,608.08 L387.48,607.27 L388.14,606.49 L388.8,605.75 L389.47,605.04 L390.13,604.36 L390.79,603.71 L391.46,603.08 L392.12,602.47 L392.78,601.88 L393.45,601.31 L394.11,600.76 L394.77,600.22 L395.44,599.7 L396.1,599.18 L396.76,598.68 L397.43,598.18 L398.09,597.68 L398.76,597.19 L399.42,596.7 L400.08,596.22 L400.75,595.74 L401.41,595.27 L402.07,594.8 L402.74,594.34 L403.4,593.89 L404.06,593.44 L404.73,593 L405.39,592.56 L406.05,592.13 L406.72,591.71 L407.38,591.3 L408.05,590.9 L408.71,590.5 L409.37,590.12 L410.04,589.74 L410.7,589.37 L411.36,589.01 L412.03,588.66 L412.69,588.32 L413.35,587.99 L414.02,587.67 L414.68,587.37 L415.34,587.07 L416.01,586.79 L416.67,586.52 L417.34,586.26 L418,586.01 L418.66,585.78 L419.33,585.56 L419.99,585.35 L420.65,585.15 L421.32,584.96 L421.98,584.77 L422.64,584.59 L423.31,584.41 L423.97,584.23 L424.63,584.05 L425.3,583.88 L425.96,583.71 L426.63,583.54 L427.29,583.38 L427.95,583.22 L428.62,583.06 L429.28,582.9 L429.94,582.75 L430.61,582.6 L431.27,582.46 L431.93,582.31 L432.6,582.17 L433.26,582.03 L433.93,581.9 L434.59,581.77 L435.25,581.64 L435.92,581.51 L436.58,581.39 L437.24,581.27 L437.91,581.15 L438.57,581.04 L439.23,580.92 L439.9,580.81 L440.56,580.71 L441.22,580.6 L441.89,580.5 L442.55,580.4 L443.22,580.31 L443.88,580.21 L444.54,580.12 L445.21,580.03 L445.87,579.95 L446.53,579.86 L447.2,579.78 L447.86,579.71 L448.52,579.63 L449.19,579.56 L449.85,579.49 L450.52,579.42 L451.18,579.35 L451.84,579.29 L452.51,579.22 L453.17,579.16 L453.83,579.1 L454.5,579.03 L455.16,578.97 L455.82,578.91 L456.49,578.84 L457.15,578.78 L457.81,578.72 L458.48,578.66 L459.14,578.6 L459.81,578.54 L460.47,578.48 L461.13,578.42 L461.8,578.36 L462.46,578.3 L463.12,578.24 L463.79,578.19 L464.45,578.13 L465.11,578.07 L465.78,578.02 L466.44,577.96 L467.11,577.91 L467.77,577.86 L468.43,577.81 L469.1,577.76 L469.76,577.71 L470.42,577.66 L471.09,577.61 L471.75,577.56 L472.41,577.52 L473.08,577.47 L473.74,577.43 L474.4,577.39 L475.07,577.34 L475.73,577.3 L476.4,577.27 L477.06,577.23 L477.72,577.19 L478.39,577.16 L479.05,577.12 L479.71,577.09 L480.38,577.06 L481.04,577.03 L481.7,577 L482.37,576.98 L483.03,576.95 L483.7,576.93 L484.36,576.9 L485.02,576.88 L485.69,576.87 L486.35,576.85 L487.01,576.83 L487.68,576.82 L488.34,576.81 L489,576.8 L489.67,576.79 L490.33,576.78 L490.99,576.78 L491.66,576.78 L492.32,576.78 L492.99,576.78 L493.65,576.78 L494.31,576.78 L494.98,576.78 L495.64,576.78 L496.3,576.78 L496.97,576.78 L497.63,576.78 L498.29,576.78 L498.96,576.78 L499.62,576.78 L500.29,576.78 L500.95,576.78 L501.61,576.78 L502.28,576.78 L502.94,576.78 L503.6,576.78 L504.27,576.78 L504.93,576.78 L505.59,576.78 L506.26,576.78 L506.92,576.78 L507.59,576.78 L508.25,576.78 L508.91,576.78 L509.58,576.78 L510.24,576.78 L510.9,576.78 L511.57,576.78 L512.23,576.78 L512.89,576.78 L513.56,576.78 L514.22,576.78 L514.88,576.78 L515.55,576.78 L516.21,576.78 L516.88,576.78 L517.54,576.78 L518.2,576.78 L518.87,576.78 L519.53,576.78 L520.19,576.78 L520.86,576.78 L521.52,576.78 L522.18,576.78 L522.85,576.78 L523.51,576.78 L524.18,576.78 L524.84,576.78 L525.5,576.78 L526.17,576.78 L526.83,576.78 L527.49,576.78 L528.16,576.78 L528.82,576.78 L529.48,576.78 L530.15,576.78 L530.81,576.78 L531.47,576.78 L532.14,576.78 L532.8,576.78 L533.47,576.78 L534.13,576.78 L534.79,576.78 L535.46,576.78 L536.12,576.78 L536.78,576.78 L537.45,576.78 L538.11,576.78 L538.77,576.78 L539.44,576.78 L540.1,576.78 L540.77,576.78 L541.43,576.78 L542.09,576.78 L542.76,576.78 L543.42,576.78 L544.08,576.78 L544.75,576.78 L545.41,576.78 L546.07,576.78 L546.74,576.78 L547.4,576.78 L548.07,576.78 L548.73,576.78 L549.39,576.78 L550.06,576.78 L550.72,576.78 L551.38,576.78 L552.05,576.78 L552.71,576.78 L553.37,576.78 L554.04,576.78 L554.7,576.78 L555.36,576.78 L556.03,576.78 L556.69,576.78 L557.36,576.78 L558.02,576.78 L558.68,576.78 L559.35,576.78 L560.01,576.78 L560.67,576.78 L561.34,576.78 L562,576.78" fill="none" stroke="#e8c7a4" stroke-width="4.2" stroke-linecap="butt" stroke-linejoin="round" stroke-dasharray="31 3.5"/>
<path d="M168.4,929.76 L169.06,929.76 L169.73,929.76 L170.39,929.76 L171.05,929.76 L171.72,929.76 L172.38,929.76 L173.04,929.76 L173.71,929.76 L174.37,929.76 L175.04,929.76 L175.7,929.76 L176.36,929.76 L177.03,929.76 L177.69,929.76 L178.35,929.76 L179.02,929.76 L179.68,929.76 L180.34,929.76 L181.01,929.76 L181.67,929.76 L182.34,929.76 L183,929.76 L183.66,929.76 L184.33,929.76 L184.99,929.76 L185.65,929.76 L186.32,929.76 L186.98,929.76 L187.64,929.76 L188.31,929.76 L188.97,929.76 L189.63,929.76 L190.3,929.76 L190.96,929.76 L191.63,929.76 L192.29,929.76 L192.95,929.76 L193.62,929.76 L194.28,929.76 L194.94,929.76 L195.61,929.76 L196.27,929.76 L196.93,929.76 L197.6,929.76 L198.26,929.76 L198.93,929.76 L199.59,929.76 L200.25,929.76 L200.92,929.76 L201.58,929.76 L202.24,929.76 L202.91,929.76 L203.57,929.76 L204.23,929.76 L204.9,929.76 L205.56,929.76 L206.22,929.76 L206.89,929.76 L207.55,929.76 L208.22,929.76 L208.88,929.76 L209.54,929.76 L210.21,929.76 L210.87,929.76 L211.53,929.75 L212.2,929.75 L212.86,929.74 L213.52,929.74 L214.19,929.73 L214.85,929.72 L215.52,929.7 L216.18,929.69 L216.84,929.67 L217.51,929.65 L218.17,929.63 L218.83,929.61 L219.5,929.59 L220.16,929.57 L220.82,929.54 L221.49,929.52 L222.15,929.49 L222.82,929.46 L223.48,929.43 L224.14,929.4 L224.81,929.37 L225.47,929.33 L226.13,929.3 L226.8,929.26 L227.46,929.22 L228.12,929.19 L228.79,929.15 L229.45,929.11 L230.11,929.07 L230.78,929.03 L231.44,928.99 L232.11,928.94 L232.77,928.9 L233.43,928.86 L234.1,928.81 L234.76,928.77 L235.42,928.72 L236.09,928.68 L236.75,928.63 L237.41,928.58 L238.08,928.54 L238.74,928.49 L239.41,928.44 L240.07,928.39 L240.73,928.35 L241.4,928.3 L242.06,928.25 L242.72,928.2 L243.39,928.15 L244.05,928.11 L244.71,928.06 L245.38,928.01 L246.04,927.96 L246.7,927.92 L247.37,927.87 L248.03,927.82 L248.7,927.77 L249.36,927.73 L250.02,927.68 L250.69,927.64 L251.35,927.59 L252.01,927.54 L252.68,927.49 L253.34,927.44 L254,927.39 L254.67,927.34 L255.33,927.29 L256,927.24 L256.66,927.19 L257.32,927.14 L257.99,927.08 L258.65,927.03 L259.31,926.97 L259.98,926.92 L260.64,926.86 L261.3,926.81 L261.97,926.75 L262.63,926.69 L263.29,926.63 L263.96,926.57 L264.62,926.51 L265.29,926.45 L265.95,926.39 L266.61,926.32 L267.28,926.26 L267.94,926.2 L268.6,926.13 L269.27,926.07 L269.93,926 L270.59,925.93 L271.26,925.86 L271.92,925.79 L272.59,925.72 L273.25,925.65 L273.91,925.58 L274.58,925.51 L275.24,925.43 L275.9,925.36 L276.57,925.29 L277.23,925.21 L277.89,925.13 L278.56,925.05 L279.22,924.98 L279.88,924.9 L280.55,924.81 L281.21,924.73 L281.88,924.65 L282.54,924.57 L283.2,924.48 L283.87,924.4 L284.53,924.31 L285.19,924.22 L285.86,924.13 L286.52,924.05 L287.18,923.96 L287.85,923.86 L288.51,923.77 L289.18,923.68 L289.84,923.58 L290.5,923.49 L291.17,923.39 L291.83,923.28 L292.49,923.18 L293.16,923.07 L293.82,922.96 L294.48,922.85 L295.15,922.74 L295.81,922.62 L296.48,922.5 L297.14,922.38 L297.8,922.25 L298.47,922.12 L299.13,921.99 L299.79,921.85 L300.46,921.72 L301.12,921.57 L301.78,921.43 L302.45,921.28 L303.11,921.12 L303.77,920.97 L304.44,920.81 L305.1,920.64 L305.77,920.47 L306.43,920.3 L307.09,920.12 L307.76,919.94 L308.42,919.75 L309.08,919.56 L309.75,919.36 L310.41,919.14 L311.07,918.91 L311.74,918.68 L312.4,918.43 L313.06,918.17 L313.73,917.91 L314.39,917.63 L315.06,917.34 L315.72,917.05 L316.38,916.74 L317.05,916.43 L317.71,916.11 L318.37,915.78 L319.04,915.45 L319.7,915.11 L320.36,914.76 L321.03,914.4 L321.69,914.04 L322.36,913.67 L323.02,913.3 L323.68,912.92 L324.35,912.54 L325.01,912.14 L325.67,911.74 L326.34,911.33 L327,910.91 L327.66,910.47 L328.33,910.02 L328.99,909.56 L329.65,909.08 L330.32,908.58 L330.98,908.07 L331.65,907.55 L332.31,907 L332.97,906.44 L333.64,905.85 L334.3,905.25 L334.96,904.63 L335.63,903.98 L336.29,903.31 L336.95,902.61 L337.62,901.88 L338.28,901.1 L338.94,900.27 L339.61,899.39 L340.27,898.47 L340.93,897.49 L341.6,896.46 L342.26,895.39 L342.92,894.28 L343.59,893.11 L344.25,891.9 L344.91,890.65 L345.58,889.35 L346.24,888.01 L346.9,886.58 L347.57,885.07 L348.23,883.45 L348.89,881.74 L349.56,879.92 L350.22,877.99 L350.88,875.94 L351.55,873.77 L352.21,871.47 L352.87,869 L353.53,866.22 L354.19,863.15 L354.85,859.83 L355.51,856.28 L356.17,852.56 L356.83,848.7 L357.49,844.73 L358.14,840.59 L358.79,836.17 L359.44,831.48 L360.09,826.53 L360.72,821.37 L361.35,816 L361.97,810.53 L362.58,804.89 L363.16,798.87 L363.71,792.22 L364.21,784.74 L364.6,775.24 L364.85,763.69 L365.06,752.55 L365.36,743.37 L365.71,734.89 L366.13,726.89 L366.6,719.26 L367.13,711.89 L367.68,704.67 L368.27,697.46 L368.87,690.25 L369.5,683.2 L370.13,676.48 L370.77,670.25 L371.42,664.68 L372.08,659.58 L372.74,654.66 L373.39,650 L374.05,645.66 L374.71,641.71 L375.38,638.23 L376.04,635.28 L376.7,632.74 L377.36,630.35 L378.02,628.1 L378.69,625.98 L379.35,624.01 L380.01,622.17 L380.68,620.46 L381.34,618.88 L382,617.42 L382.67,616.1 L383.33,614.89 L383.99,613.81 L384.66,612.81 L385.32,611.84 L385.98,610.92 L386.65,610.05 L387.31,609.21 L387.97,608.4 L388.64,607.63 L389.3,606.9 L389.96,606.19 L390.63,605.52 L391.29,604.87 L391.96,604.24 L392.62,603.64 L393.28,603.06 L393.95,602.49 L394.61,601.95 L395.27,601.41 L395.94,600.89 L396.6,600.38 L397.26,599.88 L397.93,599.38 L398.59,598.89 L399.25,598.4 L399.92,597.92 L400.58,597.44 L401.25,596.97 L401.91,596.5 L402.57,596.04 L403.24,595.58 L403.9,595.13 L404.56,594.68 L405.23,594.24 L405.89,593.81 L406.55,593.39 L407.22,592.97 L407.88,592.56 L408.54,592.16 L409.21,591.77 L409.87,591.38 L410.54,591.01 L411.2,590.64 L411.86,590.28 L412.53,589.94 L413.19,589.6 L413.85,589.28 L414.52,588.96 L415.18,588.66 L415.84,588.36 L416.51,588.08 L417.17,587.81 L417.83,587.55 L418.5,587.31 L419.16,587.08 L419.83,586.86 L420.49,586.65 L421.15,586.46 L421.82,586.27 L422.48,586.08 L423.14,585.9 L423.81,585.72 L424.47,585.54 L425.13,585.36 L425.8,585.19 L426.46,585.02 L427.13,584.86 L427.79,584.7 L428.45,584.54 L429.12,584.38 L429.78,584.23 L430.44,584.08 L431.11,583.93 L431.77,583.78 L432.43,583.64 L433.1,583.5 L433.76,583.36 L434.42,583.23 L435.09,583.1 L435.75,582.97 L436.42,582.85 L437.08,582.72 L437.74,582.6 L438.41,582.49 L439.07,582.37 L439.73,582.26 L440.4,582.15 L441.06,582.05 L441.72,581.94 L442.39,581.84 L443.05,581.74 L443.72,581.65 L444.38,581.56 L445.04,581.47 L445.71,581.38 L446.37,581.29 L447.03,581.21 L447.7,581.13 L448.36,581.05 L449.02,580.98 L449.69,580.91 L450.35,580.84 L451.01,580.77 L451.68,580.7 L452.34,580.64 L453.01,580.58 L453.67,580.51 L454.33,580.45 L455,580.39 L455.66,580.32 L456.32,580.26 L456.99,580.2 L457.65,580.14 L458.31,580.08 L458.98,580.01 L459.64,579.95 L460.31,579.89 L460.97,579.83 L461.63,579.78 L462.3,579.72 L462.96,579.66 L463.62,579.6 L464.29,579.55 L464.95,579.49 L465.61,579.43 L466.28,579.38 L466.94,579.33 L467.61,579.27 L468.27,579.22 L468.93,579.17 L469.6,579.12 L470.26,579.07 L470.92,579.02 L471.59,578.97 L472.25,578.93 L472.91,578.88 L473.58,578.84 L474.24,578.79 L474.9,578.75 L475.57,578.71 L476.23,578.67 L476.9,578.63 L477.56,578.59 L478.22,578.56 L478.89,578.52 L479.55,578.49 L480.21,578.46 L480.88,578.43 L481.54,578.4 L482.2,578.37 L482.87,578.34 L483.53,578.32 L484.2,578.3 L484.86,578.27 L485.52,578.25 L486.19,578.24 L486.85,578.22 L487.51,578.2 L488.18,578.19 L488.84,578.18 L489.5,578.17 L490.17,578.16 L490.83,578.15 L491.49,578.15 L492.16,578.15 L492.82,578.15 L493.49,578.15 L494.15,578.15 L494.81,578.15 L495.48,578.15 L496.14,578.15 L496.8,578.15 L497.47,578.15 L498.13,578.15 L498.79,578.15 L499.46,578.15 L500.12,578.15 L500.79,578.15 L501.45,578.15 L502.11,578.15 L502.78,578.15 L503.44,578.15 L504.1,578.15 L504.77,578.15 L505.43,578.15 L506.09,578.15 L506.76,578.15 L507.42,578.15 L508.08,578.15 L508.75,578.15 L509.41,578.15 L510.08,578.15 L510.74,578.15 L511.4,578.15 L512.07,578.15 L512.73,578.15 L513.39,578.15 L514.06,578.15 L514.72,578.15 L515.38,578.15 L516.05,578.15 L516.71,578.15 L517.38,578.15 L518.04,578.15 L518.7,578.15 L519.37,578.15 L520.03,578.15 L520.69,578.15 L521.36,578.15 L522.02,578.15 L522.68,578.15 L523.35,578.15 L524.01,578.15 L524.68,578.15 L525.34,578.15 L526,578.15 L526.67,578.15 L527.33,578.15 L527.99,578.15 L528.66,578.15 L529.32,578.15 L529.98,578.15 L530.65,578.15 L531.31,578.15 L531.97,578.15 L532.64,578.15 L533.3,578.15 L533.97,578.15 L534.63,578.15 L535.29,578.15 L535.96,578.15 L536.62,578.15 L537.28,578.15 L537.95,578.15 L538.61,578.15 L539.27,578.15 L539.94,578.15 L540.6,578.15 L541.27,578.15 L541.93,578.15 L542.59,578.15 L543.26,578.15 L543.92,578.15 L544.58,578.15 L545.25,578.15 L545.91,578.15 L546.57,578.15 L547.24,578.15 L547.9,578.15 L548.56,578.15 L549.23,578.15 L549.89,578.15 L550.56,578.15 L551.22,578.15 L551.88,578.15 L552.55,578.15 L553.21,578.15 L553.87,578.15 L554.54,578.15 L555.2,578.15 L555.86,578.15 L556.53,578.15 L557.19,578.15 L557.86,578.15 L558.52,578.15 L559.18,578.15 L559.85,578.15 L560.51,578.15 L561.17,578.15 L561.84,578.15 L562.5,578.15" fill="none" stroke="#5e9646" stroke-width="4.2" stroke-linecap="butt" stroke-linejoin="round" stroke-dasharray="31 3.5" stroke-dashoffset="17"/>
<path d="M167.3,928.04 L167.96,928.04 L168.63,928.04 L169.29,928.04 L169.95,928.04 L170.62,928.04 L171.28,928.04 L171.95,928.04 L172.61,928.04 L173.27,928.04 L173.94,928.04 L174.6,928.04 L175.26,928.04 L175.93,928.04 L176.59,928.04 L177.25,928.04 L177.92,928.04 L178.58,928.04 L179.24,928.04 L179.91,928.04 L180.57,928.04 L181.24,928.04 L181.9,928.04 L182.56,928.04 L183.23,928.04 L183.89,928.04 L184.55,928.04 L185.22,928.04 L185.88,928.04 L186.54,928.04 L187.21,928.04 L187.87,928.04 L188.54,928.04 L189.2,928.04 L189.86,928.04 L190.53,928.04 L191.19,928.04 L191.85,928.04 L192.52,928.04 L193.18,928.04 L193.84,928.04 L194.51,928.04 L195.17,928.04 L195.83,928.04 L196.5,928.04 L197.16,928.04 L197.83,928.04 L198.49,928.04 L199.15,928.04 L199.82,928.04 L200.48,928.04 L201.14,928.04 L201.81,928.04 L202.47,928.04 L203.13,928.04 L203.8,928.04 L204.46,928.04 L205.13,928.04 L205.79,928.04 L206.45,928.04 L207.12,928.04 L207.78,928.04 L208.44,928.04 L209.11,928.04 L209.77,928.04 L210.43,928.04 L211.1,928.04 L211.76,928.03 L212.42,928.02 L213.09,928.01 L213.75,928 L214.42,927.99 L215.08,927.97 L215.74,927.96 L216.41,927.94 L217.07,927.92 L217.73,927.9 L218.4,927.88 L219.06,927.86 L219.72,927.83 L220.39,927.8 L221.05,927.78 L221.72,927.75 L222.38,927.72 L223.04,927.69 L223.71,927.65 L224.37,927.62 L225.03,927.59 L225.7,927.55 L226.36,927.52 L227.02,927.48 L227.69,927.44 L228.35,927.4 L229.02,927.36 L229.68,927.32 L230.34,927.28 L231.01,927.24 L231.67,927.19 L232.33,927.15 L233,927.11 L233.66,927.06 L234.32,927.02 L234.99,926.97 L235.65,926.93 L236.31,926.88 L236.98,926.83 L237.64,926.79 L238.31,926.74 L238.97,926.69 L239.63,926.65 L240.3,926.6 L240.96,926.55 L241.62,926.5 L242.29,926.46 L242.95,926.41 L243.61,926.36 L244.28,926.31 L244.94,926.27 L245.61,926.22 L246.27,926.17 L246.93,926.13 L247.6,926.08 L248.26,926.03 L248.92,925.99 L249.59,925.94 L250.25,925.9 L250.91,925.85 L251.58,925.8 L252.24,925.75 L252.9,925.7 L253.57,925.65 L254.23,925.6 L254.9,925.55 L255.56,925.5 L256.22,925.45 L256.89,925.4 L257.55,925.34 L258.21,925.29 L258.88,925.23 L259.54,925.18 L260.2,925.12 L260.87,925.06 L261.53,925.01 L262.2,924.95 L262.86,924.89 L263.52,924.83 L264.19,924.77 L264.85,924.71 L265.51,924.64 L266.18,924.58 L266.84,924.52 L267.5,924.45 L268.17,924.39 L268.83,924.32 L269.5,924.25 L270.16,924.19 L270.82,924.12 L271.49,924.05 L272.15,923.98 L272.81,923.91 L273.48,923.84 L274.14,923.76 L274.8,923.69 L275.47,923.61 L276.13,923.54 L276.79,923.46 L277.46,923.39 L278.12,923.31 L278.79,923.23 L279.45,923.15 L280.11,923.07 L280.78,922.99 L281.44,922.9 L282.1,922.82 L282.77,922.74 L283.43,922.65 L284.09,922.56 L284.76,922.48 L285.42,922.39 L286.09,922.3 L286.75,922.21 L287.41,922.12 L288.08,922.02 L288.74,921.93 L289.4,921.83 L290.07,921.73 L290.73,921.63 L291.39,921.53 L292.06,921.42 L292.72,921.32 L293.38,921.21 L294.05,921.09 L294.71,920.98 L295.38,920.86 L296.04,920.74 L296.7,920.61 L297.37,920.48 L298.03,920.35 L298.69,920.22 L299.36,920.08 L300.02,919.94 L300.68,919.79 L301.35,919.65 L302.01,919.49 L302.68,919.34 L303.34,919.18 L304,919.02 L304.67,918.85 L305.33,918.68 L305.99,918.5 L306.66,918.32 L307.32,918.14 L307.98,917.95 L308.65,917.74 L309.31,917.53 L309.97,917.31 L310.64,917.07 L311.3,916.83 L311.97,916.57 L312.63,916.31 L313.29,916.03 L313.96,915.75 L314.62,915.46 L315.28,915.16 L315.95,914.85 L316.61,914.53 L317.27,914.21 L317.94,913.87 L318.6,913.54 L319.27,913.19 L319.93,912.84 L320.59,912.48 L321.26,912.12 L321.92,911.75 L322.58,911.37 L323.25,910.99 L323.91,910.6 L324.57,910.2 L325.24,909.8 L325.9,909.38 L326.56,908.94 L327.23,908.5 L327.89,908.04 L328.56,907.57 L329.22,907.08 L329.88,906.57 L330.55,906.05 L331.21,905.51 L331.87,904.95 L332.54,904.37 L333.2,903.78 L333.86,903.16 L334.53,902.52 L335.19,901.85 L335.86,901.16 L336.52,900.44 L337.18,899.67 L337.85,898.85 L338.51,897.98 L339.17,897.06 L339.84,896.09 L340.5,895.08 L341.16,894.01 L341.83,892.91 L342.49,891.75 L343.15,890.56 L343.82,889.31 L344.48,888.03 L345.14,886.7 L345.81,885.29 L346.47,883.79 L347.14,882.19 L347.8,880.5 L348.46,878.69 L349.13,876.78 L349.79,874.75 L350.45,872.6 L351.11,870.32 L351.78,867.88 L352.44,865.13 L353.1,862.09 L353.77,858.79 L354.43,855.29 L355.09,851.6 L355.75,847.77 L356.41,843.84 L357.07,839.75 L357.73,835.37 L358.39,830.72 L359.05,825.83 L359.7,820.71 L360.35,815.39 L361,809.98 L361.64,804.4 L362.28,798.43 L362.9,791.85 L363.51,784.44 L364.08,775.03 L364.6,763.6 L365.1,752.56 L365.63,743.48 L366.19,735.08 L366.76,727.16 L367.36,719.6 L367.97,712.3 L368.6,705.15 L369.24,698.01 L369.88,690.87 L370.53,683.89 L371.18,677.23 L371.84,671.07 L372.5,665.55 L373.16,660.5 L373.82,655.63 L374.48,651.01 L375.14,646.71 L375.8,642.8 L376.47,639.35 L377.13,636.43 L377.79,633.92 L378.46,631.55 L379.12,629.32 L379.78,627.23 L380.45,625.27 L381.11,623.45 L381.77,621.76 L382.44,620.19 L383.1,618.75 L383.76,617.44 L384.43,616.25 L385.09,615.18 L385.75,614.18 L386.42,613.23 L387.08,612.32 L387.75,611.45 L388.41,610.62 L389.07,609.82 L389.74,609.06 L390.4,608.33 L391.06,607.63 L391.73,606.96 L392.39,606.32 L393.05,605.7 L393.72,605.1 L394.38,604.53 L395.04,603.97 L395.71,603.43 L396.37,602.9 L397.04,602.38 L397.7,601.88 L398.36,601.38 L399.03,600.89 L399.69,600.4 L400.35,599.92 L401.02,599.44 L401.68,598.97 L402.34,598.5 L403.01,598.03 L403.67,597.57 L404.34,597.12 L405,596.67 L405.66,596.23 L406.33,595.8 L406.99,595.37 L407.65,594.95 L408.32,594.54 L408.98,594.13 L409.64,593.74 L410.31,593.35 L410.97,592.97 L411.63,592.59 L412.3,592.23 L412.96,591.88 L413.63,591.54 L414.29,591.2 L414.95,590.88 L415.62,590.57 L416.28,590.27 L416.94,589.98 L417.61,589.7 L418.27,589.43 L418.93,589.18 L419.6,588.93 L420.26,588.7 L420.93,588.49 L421.59,588.28 L422.25,588.09 L422.92,587.9 L423.58,587.72 L424.24,587.53 L424.91,587.36 L425.57,587.18 L426.23,587.01 L426.9,586.84 L427.56,586.67 L428.22,586.51 L428.89,586.35 L429.55,586.19 L430.22,586.03 L430.88,585.88 L431.54,585.73 L432.21,585.58 L432.87,585.44 L433.53,585.3 L434.2,585.16 L434.86,585.03 L435.52,584.89 L436.19,584.76 L436.85,584.64 L437.52,584.51 L438.18,584.39 L438.84,584.27 L439.51,584.16 L440.17,584.04 L440.83,583.93 L441.5,583.83 L442.16,583.72 L442.82,583.62 L443.49,583.52 L444.15,583.42 L444.81,583.33 L445.48,583.24 L446.14,583.15 L446.81,583.06 L447.47,582.97 L448.13,582.89 L448.8,582.81 L449.46,582.74 L450.12,582.66 L450.79,582.59 L451.45,582.52 L452.11,582.46 L452.78,582.39 L453.44,582.33 L454.11,582.27 L454.77,582.2 L455.43,582.14 L456.1,582.08 L456.76,582.02 L457.42,581.95 L458.09,581.89 L458.75,581.83 L459.41,581.77 L460.08,581.71 L460.74,581.65 L461.4,581.59 L462.07,581.53 L462.73,581.47 L463.4,581.41 L464.06,581.36 L464.72,581.3 L465.39,581.24 L466.05,581.19 L466.71,581.13 L467.38,581.08 L468.04,581.03 L468.7,580.97 L469.37,580.92 L470.03,580.87 L470.7,580.82 L471.36,580.77 L472.02,580.73 L472.69,580.68 L473.35,580.63 L474.01,580.59 L474.68,580.54 L475.34,580.5 L476,580.46 L476.67,580.42 L477.33,580.38 L478,580.34 L478.66,580.3 L479.32,580.27 L479.99,580.23 L480.65,580.2 L481.31,580.17 L481.98,580.14 L482.64,580.11 L483.3,580.08 L483.97,580.06 L484.63,580.03 L485.29,580.01 L485.96,579.99 L486.62,579.97 L487.29,579.95 L487.95,579.93 L488.61,579.92 L489.28,579.9 L489.94,579.89 L490.6,579.88 L491.27,579.87 L491.93,579.87 L492.59,579.86 L493.26,579.86 L493.92,579.86 L494.59,579.86 L495.25,579.86 L495.91,579.86 L496.58,579.86 L497.24,579.86 L497.9,579.86 L498.57,579.86 L499.23,579.86 L499.89,579.86 L500.56,579.86 L501.22,579.86 L501.88,579.86 L502.55,579.86 L503.21,579.86 L503.88,579.86 L504.54,579.86 L505.2,579.86 L505.87,579.86 L506.53,579.86 L507.19,579.86 L507.86,579.86 L508.52,579.86 L509.18,579.86 L509.85,579.86 L510.51,579.86 L511.18,579.86 L511.84,579.86 L512.5,579.86 L513.17,579.86 L513.83,579.86 L514.49,579.86 L515.16,579.86 L515.82,579.86 L516.48,579.86 L517.15,579.86 L517.81,579.86 L518.48,579.86 L519.14,579.86 L519.8,579.86 L520.47,579.86 L521.13,579.86 L521.79,579.86 L522.46,579.86 L523.12,579.86 L523.78,579.86 L524.45,579.86 L525.11,579.86 L525.77,579.86 L526.44,579.86 L527.1,579.86 L527.77,579.86 L528.43,579.86 L529.09,579.86 L529.76,579.86 L530.42,579.86 L531.08,579.86 L531.75,579.86 L532.41,579.86 L533.07,579.86 L533.74,579.86 L534.4,579.86 L535.07,579.86 L535.73,579.86 L536.39,579.86 L537.06,579.86 L537.72,579.86 L538.38,579.86 L539.05,579.86 L539.71,579.86 L540.37,579.86 L541.04,579.86 L541.7,579.86 L542.36,579.86 L543.03,579.86 L543.69,579.86 L544.36,579.86 L545.02,579.86 L545.68,579.86 L546.35,579.86 L547.01,579.86 L547.67,579.86 L548.34,579.86 L549,579.86 L549.66,579.86 L550.33,579.86 L550.99,579.86 L551.66,579.86 L552.32,579.86 L552.98,579.86 L553.65,579.86 L554.31,579.86 L554.97,579.86 L555.64,579.86 L556.3,579.86 L556.96,579.86 L557.63,579.86 L558.29,579.86 L558.95,579.86 L559.62,579.86 L560.28,579.86 L560.95,579.86 L561.61,579.86 L562.27,579.86 L562.94,579.86 L563.6,579.86" fill="none" stroke="#c55d33" stroke-width="4.2" stroke-linecap="butt" stroke-linejoin="round"/>
<path d="M166.7,925.3 L167.36,925.3 L168.03,925.3 L168.69,925.3 L169.35,925.3 L170.02,925.3 L170.68,925.3 L171.35,925.3 L172.01,925.3 L172.67,925.3 L173.34,925.3 L174,925.3 L174.66,925.3 L175.33,925.3 L175.99,925.3 L176.65,925.3 L177.32,925.3 L177.98,925.3 L178.64,925.3 L179.31,925.3 L179.97,925.3 L180.64,925.3 L181.3,925.3 L181.96,925.3 L182.63,925.3 L183.29,925.3 L183.95,925.3 L184.62,925.3 L185.28,925.3 L185.94,925.3 L186.61,925.3 L187.27,925.3 L187.94,925.3 L188.6,925.3 L189.26,925.3 L189.93,925.3 L190.59,925.3 L191.25,925.3 L191.92,925.3 L192.58,925.3 L193.24,925.3 L193.91,925.3 L194.57,925.3 L195.24,925.3 L195.9,925.3 L196.56,925.3 L197.23,925.3 L197.89,925.3 L198.55,925.3 L199.22,925.3 L199.88,925.3 L200.54,925.3 L201.21,925.3 L201.87,925.3 L202.53,925.3 L203.2,925.3 L203.86,925.3 L204.53,925.3 L205.19,925.3 L205.85,925.3 L206.52,925.3 L207.18,925.3 L207.84,925.3 L208.51,925.3 L209.17,925.3 L209.83,925.3 L210.5,925.29 L211.16,925.29 L211.83,925.28 L212.49,925.27 L213.15,925.26 L213.82,925.25 L214.48,925.23 L215.14,925.22 L215.81,925.2 L216.47,925.18 L217.13,925.16 L217.8,925.14 L218.46,925.12 L219.12,925.09 L219.79,925.07 L220.45,925.04 L221.12,925.01 L221.78,924.98 L222.44,924.95 L223.11,924.92 L223.77,924.89 L224.43,924.85 L225.1,924.82 L225.76,924.78 L226.42,924.74 L227.09,924.71 L227.75,924.67 L228.42,924.63 L229.08,924.59 L229.74,924.55 L230.41,924.51 L231.07,924.47 L231.73,924.42 L232.4,924.38 L233.06,924.34 L233.72,924.29 L234.39,924.25 L235.05,924.2 L235.72,924.16 L236.38,924.11 L237.04,924.06 L237.71,924.02 L238.37,923.97 L239.03,923.93 L239.7,923.88 L240.36,923.83 L241.02,923.79 L241.69,923.74 L242.35,923.69 L243.01,923.64 L243.68,923.6 L244.34,923.55 L245.01,923.51 L245.67,923.46 L246.33,923.41 L247,923.37 L247.66,923.32 L248.32,923.28 L248.99,923.23 L249.65,923.19 L250.31,923.14 L250.98,923.09 L251.64,923.05 L252.31,923 L252.97,922.95 L253.63,922.9 L254.3,922.85 L254.96,922.8 L255.62,922.75 L256.29,922.69 L256.95,922.64 L257.61,922.59 L258.28,922.53 L258.94,922.48 L259.6,922.42 L260.27,922.37 L260.93,922.31 L261.6,922.25 L262.26,922.2 L262.92,922.14 L263.59,922.08 L264.25,922.02 L264.91,921.96 L265.58,921.89 L266.24,921.83 L266.9,921.77 L267.57,921.7 L268.23,921.64 L268.9,921.57 L269.56,921.51 L270.22,921.44 L270.89,921.37 L271.55,921.3 L272.21,921.23 L272.88,921.16 L273.54,921.09 L274.2,921.02 L274.87,920.94 L275.53,920.87 L276.19,920.79 L276.86,920.72 L277.52,920.64 L278.19,920.56 L278.85,920.48 L279.51,920.4 L280.18,920.32 L280.84,920.24 L281.5,920.16 L282.17,920.08 L282.83,919.99 L283.49,919.91 L284.16,919.82 L284.82,919.73 L285.49,919.65 L286.15,919.56 L286.81,919.47 L287.48,919.38 L288.14,919.28 L288.8,919.19 L289.47,919.09 L290.13,918.99 L290.79,918.89 L291.46,918.79 L292.12,918.68 L292.79,918.57 L293.45,918.46 L294.11,918.35 L294.78,918.23 L295.44,918.11 L296.1,917.99 L296.77,917.86 L297.43,917.73 L298.09,917.6 L298.76,917.46 L299.42,917.32 L300.08,917.18 L300.75,917.04 L301.41,916.89 L302.08,916.73 L302.74,916.58 L303.4,916.42 L304.07,916.25 L304.73,916.08 L305.39,915.91 L306.06,915.73 L306.72,915.55 L307.38,915.36 L308.05,915.16 L308.71,914.95 L309.38,914.73 L310.04,914.5 L310.7,914.26 L311.37,914.01 L312.03,913.75 L312.69,913.48 L313.36,913.2 L314.02,912.91 L314.68,912.62 L315.35,912.31 L316.01,912 L316.67,911.68 L317.34,911.36 L318,911.02 L318.67,910.68 L319.33,910.33 L319.99,909.98 L320.66,909.62 L321.32,909.26 L321.98,908.89 L322.65,908.52 L323.31,908.13 L323.97,907.74 L324.64,907.34 L325.3,906.93 L325.97,906.5 L326.63,906.06 L327.29,905.61 L327.96,905.15 L328.62,904.66 L329.28,904.17 L329.95,903.65 L330.61,903.12 L331.27,902.57 L331.94,902 L332.6,901.41 L333.27,900.81 L333.93,900.17 L334.59,899.52 L335.26,898.85 L335.92,898.13 L336.58,897.37 L337.25,896.57 L337.91,895.71 L338.57,894.8 L339.24,893.85 L339.9,892.85 L340.56,891.81 L341.23,890.72 L341.89,889.58 L342.56,888.4 L343.22,887.18 L343.88,885.92 L344.55,884.61 L345.21,883.22 L345.87,881.74 L346.54,880.17 L347.2,878.5 L347.86,876.73 L348.53,874.84 L349.19,872.85 L349.86,870.73 L350.52,868.49 L351.18,866.08 L351.85,863.38 L352.51,860.38 L353.17,857.14 L353.84,853.69 L354.5,850.06 L355.16,846.29 L355.83,842.43 L356.49,838.4 L357.15,834.08 L357.82,829.51 L358.48,824.69 L359.15,819.66 L359.81,814.43 L360.47,809.09 L361.14,803.6 L361.8,797.73 L362.46,791.25 L363.13,783.96 L363.79,774.7 L364.45,763.44 L365.12,752.59 L365.78,743.64 L366.45,735.37 L367.11,727.58 L367.77,720.14 L368.44,712.96 L369.1,705.91 L369.76,698.89 L370.43,691.86 L371.09,684.99 L371.75,678.44 L372.42,672.37 L373.08,666.94 L373.75,661.97 L374.41,657.18 L375.07,652.63 L375.74,648.4 L376.4,644.55 L377.06,641.16 L377.73,638.28 L378.39,635.81 L379.05,633.48 L379.72,631.28 L380.38,629.23 L381.04,627.3 L381.71,625.5 L382.37,623.84 L383.04,622.3 L383.7,620.88 L384.36,619.59 L385.03,618.42 L385.69,617.36 L386.35,616.38 L387.02,615.44 L387.68,614.55 L388.34,613.69 L389.01,612.87 L389.67,612.09 L390.34,611.34 L391,610.62 L391.66,609.94 L392.33,609.28 L392.99,608.64 L393.65,608.03 L394.32,607.45 L394.98,606.88 L395.64,606.33 L396.31,605.8 L396.97,605.28 L397.63,604.77 L398.3,604.27 L398.96,603.78 L399.63,603.3 L400.29,602.82 L400.95,602.34 L401.62,601.87 L402.28,601.41 L402.94,600.94 L403.61,600.49 L404.27,600.04 L404.93,599.59 L405.6,599.15 L406.26,598.72 L406.93,598.29 L407.59,597.87 L408.25,597.45 L408.92,597.05 L409.58,596.65 L410.24,596.26 L410.91,595.87 L411.57,595.5 L412.23,595.14 L412.9,594.78 L413.56,594.43 L414.23,594.09 L414.89,593.77 L415.55,593.45 L416.22,593.14 L416.88,592.84 L417.54,592.56 L418.21,592.28 L418.87,592.02 L419.53,591.77 L420.2,591.53 L420.86,591.3 L421.52,591.09 L422.19,590.89 L422.85,590.7 L423.52,590.52 L424.18,590.33 L424.84,590.15 L425.51,589.98 L426.17,589.81 L426.83,589.64 L427.5,589.47 L428.16,589.3 L428.82,589.14 L429.49,588.98 L430.15,588.83 L430.82,588.68 L431.48,588.53 L432.14,588.38 L432.81,588.23 L433.47,588.09 L434.13,587.95 L434.8,587.82 L435.46,587.69 L436.12,587.56 L436.79,587.43 L437.45,587.3 L438.11,587.18 L438.78,587.06 L439.44,586.94 L440.11,586.83 L440.77,586.72 L441.43,586.61 L442.1,586.5 L442.76,586.4 L443.42,586.3 L444.09,586.2 L444.75,586.11 L445.41,586.01 L446.08,585.92 L446.74,585.83 L447.41,585.75 L448.07,585.67 L448.73,585.59 L449.4,585.51 L450.06,585.43 L450.72,585.36 L451.39,585.29 L452.05,585.22 L452.71,585.16 L453.38,585.09 L454.04,585.03 L454.71,584.97 L455.37,584.91 L456.03,584.84 L456.7,584.78 L457.36,584.72 L458.02,584.66 L458.69,584.6 L459.35,584.54 L460.01,584.48 L460.68,584.42 L461.34,584.36 L462,584.3 L462.67,584.25 L463.33,584.19 L464,584.13 L464.66,584.07 L465.32,584.02 L465.99,583.96 L466.65,583.91 L467.31,583.86 L467.98,583.8 L468.64,583.75 L469.3,583.7 L469.97,583.65 L470.63,583.6 L471.3,583.55 L471.96,583.5 L472.62,583.45 L473.29,583.41 L473.95,583.36 L474.61,583.32 L475.28,583.27 L475.94,583.23 L476.6,583.19 L477.27,583.15 L477.93,583.11 L478.59,583.07 L479.26,583.04 L479.92,583 L480.59,582.97 L481.25,582.94 L481.91,582.9 L482.58,582.87 L483.24,582.85 L483.9,582.82 L484.57,582.79 L485.23,582.77 L485.89,582.75 L486.56,582.72 L487.22,582.71 L487.89,582.69 L488.55,582.67 L489.21,582.66 L489.88,582.64 L490.54,582.63 L491.2,582.62 L491.87,582.61 L492.53,582.61 L493.19,582.6 L493.86,582.6 L494.52,582.6 L495.18,582.6 L495.85,582.6 L496.51,582.6 L497.18,582.6 L497.84,582.6 L498.5,582.6 L499.17,582.6 L499.83,582.6 L500.49,582.6 L501.16,582.6 L501.82,582.6 L502.48,582.6 L503.15,582.6 L503.81,582.6 L504.48,582.6 L505.14,582.6 L505.8,582.6 L506.47,582.6 L507.13,582.6 L507.79,582.6 L508.46,582.6 L509.12,582.6 L509.78,582.6 L510.45,582.6 L511.11,582.6 L511.78,582.6 L512.44,582.6 L513.1,582.6 L513.77,582.6 L514.43,582.6 L515.09,582.6 L515.76,582.6 L516.42,582.6 L517.08,582.6 L517.75,582.6 L518.41,582.6 L519.07,582.6 L519.74,582.6 L520.4,582.6 L521.07,582.6 L521.73,582.6 L522.39,582.6 L523.06,582.6 L523.72,582.6 L524.38,582.6 L525.05,582.6 L525.71,582.6 L526.37,582.6 L527.04,582.6 L527.7,582.6 L528.37,582.6 L529.03,582.6 L529.69,582.6 L530.36,582.6 L531.02,582.6 L531.68,582.6 L532.35,582.6 L533.01,582.6 L533.67,582.6 L534.34,582.6 L535,582.6 L535.66,582.6 L536.33,582.6 L536.99,582.6 L537.66,582.6 L538.32,582.6 L538.98,582.6 L539.65,582.6 L540.31,582.6 L540.97,582.6 L541.64,582.6 L542.3,582.6 L542.96,582.6 L543.63,582.6 L544.29,582.6 L544.96,582.6 L545.62,582.6 L546.28,582.6 L546.95,582.6 L547.61,582.6 L548.27,582.6 L548.94,582.6 L549.6,582.6 L550.26,582.6 L550.93,582.6 L551.59,582.6 L552.26,582.6 L552.92,582.6 L553.58,582.6 L554.25,582.6 L554.91,582.6 L555.57,582.6 L556.24,582.6 L556.9,582.6 L557.56,582.6 L558.23,582.6 L558.89,582.6 L559.55,582.6 L560.22,582.6 L560.88,582.6 L561.55,582.6 L562.21,582.6 L562.87,582.6 L563.54,582.6 L564.2,582.6" fill="none" stroke="#6143a0" stroke-width="4.3" stroke-linecap="butt" stroke-linejoin="round" stroke-dasharray="33 2"/>
<path d="M704,852.98 L704.57,852.98 L705.13,852.98 L705.7,852.97 L706.27,852.97 L706.83,852.97 L707.4,852.97 L707.97,852.97 L708.53,852.97 L709.1,852.96 L709.67,852.96 L710.23,852.96 L710.8,852.96 L711.36,852.96 L711.93,852.96 L712.5,852.95 L713.06,852.95 L713.63,852.95 L714.2,852.95 L714.76,852.95 L715.33,852.94 L715.9,852.94 L716.46,852.94 L717.03,852.94 L717.6,852.94 L718.16,852.93 L718.73,852.93 L719.3,852.93 L719.86,852.93 L720.43,852.93 L721,852.92 L721.56,852.92 L722.13,852.92 L722.7,852.92 L723.26,852.91 L723.83,852.91 L724.39,852.91 L724.96,852.91 L725.53,852.9 L726.09,852.9 L726.66,852.9 L727.23,852.9 L727.79,852.89 L728.36,852.89 L728.93,852.89 L729.49,852.89 L730.06,852.88 L730.63,852.88 L731.19,852.88 L731.76,852.88 L732.33,852.87 L732.89,852.87 L733.46,852.87 L734.03,852.86 L734.59,852.86 L735.16,852.86 L735.73,852.85 L736.29,852.85 L736.86,852.85 L737.42,852.85 L737.99,852.84 L738.56,852.84 L739.12,852.84 L739.69,852.83 L740.26,852.83 L740.82,852.83 L741.39,852.82 L741.96,852.82 L742.52,852.82 L743.09,852.81 L743.66,852.81 L744.22,852.81 L744.79,852.8 L745.36,852.8 L745.92,852.8 L746.49,852.79 L747.06,852.79 L747.62,852.78 L748.19,852.78 L748.76,852.78 L749.32,852.77 L749.89,852.77 L750.45,852.76 L751.02,852.75 L751.59,852.75 L752.15,852.74 L752.72,852.74 L753.29,852.73 L753.85,852.72 L754.42,852.71 L754.99,852.71 L755.55,852.7 L756.12,852.69 L756.69,852.68 L757.25,852.68 L757.82,852.67 L758.39,852.66 L758.95,852.65 L759.52,852.64 L760.09,852.63 L760.65,852.62 L761.22,852.61 L761.79,852.6 L762.35,852.59 L762.92,852.58 L763.48,852.57 L764.05,852.56 L764.62,852.55 L765.18,852.54 L765.75,852.52 L766.32,852.51 L766.88,852.5 L767.45,852.49 L768.02,852.48 L768.58,852.46 L769.15,852.45 L769.72,852.44 L770.28,852.42 L770.85,852.41 L771.42,852.4 L771.98,852.38 L772.55,852.37 L773.12,852.36 L773.68,852.34 L774.25,852.33 L774.82,852.31 L775.38,852.3 L775.95,852.28 L776.52,852.27 L777.08,852.25 L777.65,852.24 L778.21,852.22 L778.78,852.2 L779.35,852.19 L779.91,852.17 L780.48,852.15 L781.05,852.14 L781.61,852.12 L782.18,852.1 L782.75,852.08 L783.31,852.07 L783.88,852.05 L784.45,852.03 L785.01,852.01 L785.58,851.99 L786.15,851.97 L786.71,851.95 L787.28,851.93 L787.85,851.91 L788.41,851.88 L788.98,851.86 L789.55,851.83 L790.11,851.8 L790.68,851.77 L791.24,851.74 L791.81,851.71 L792.38,851.68 L792.94,851.65 L793.51,851.61 L794.08,851.58 L794.64,851.54 L795.21,851.5 L795.78,851.46 L796.34,851.43 L796.91,851.38 L797.48,851.34 L798.04,851.3 L798.61,851.26 L799.18,851.21 L799.74,851.17 L800.31,851.12 L800.88,851.08 L801.44,851.03 L802.01,850.98 L802.58,850.93 L803.14,850.88 L803.71,850.83 L804.27,850.78 L804.84,850.73 L805.41,850.68 L805.97,850.63 L806.54,850.57 L807.11,850.52 L807.67,850.46 L808.24,850.41 L808.81,850.35 L809.37,850.29 L809.94,850.24 L810.51,850.18 L811.07,850.12 L811.64,850.06 L812.21,850 L812.77,849.94 L813.34,849.88 L813.91,849.82 L814.47,849.76 L815.04,849.7 L815.61,849.63 L816.17,849.57 L816.74,849.51 L817.3,849.44 L817.87,849.38 L818.44,849.32 L819,849.25 L819.57,849.19 L820.14,849.12 L820.7,849.06 L821.27,848.99 L821.84,848.93 L822.4,848.86 L822.97,848.79 L823.54,848.73 L824.1,848.66 L824.67,848.59 L825.24,848.53 L825.8,848.46 L826.37,848.39 L826.94,848.32 L827.5,848.25 L828.07,848.18 L828.64,848.11 L829.2,848.04 L829.77,847.97 L830.33,847.89 L830.9,847.82 L831.47,847.74 L832.03,847.66 L832.6,847.59 L833.17,847.51 L833.73,847.43 L834.3,847.35 L834.87,847.26 L835.43,847.18 L836,847.1 L836.57,847.01 L837.13,846.92 L837.7,846.83 L838.27,846.74 L838.83,846.65 L839.4,846.56 L839.97,846.47 L840.53,846.37 L841.1,846.27 L841.67,846.18 L842.23,846.08 L842.8,845.97 L843.36,845.87 L843.93,845.77 L844.5,845.66 L845.06,845.55 L845.63,845.44 L846.2,845.33 L846.76,845.22 L847.33,845.11 L847.9,844.99 L848.46,844.87 L849.03,844.75 L849.6,844.63 L850.16,844.51 L850.73,844.38 L851.3,844.26 L851.86,844.13 L852.43,843.99 L853,843.86 L853.56,843.73 L854.13,843.59 L854.7,843.45 L855.26,843.31 L855.83,843.17 L856.39,843.02 L856.96,842.87 L857.53,842.72 L858.09,842.56 L858.66,842.41 L859.23,842.24 L859.79,842.07 L860.36,841.9 L860.93,841.72 L861.49,841.53 L862.06,841.34 L862.63,841.14 L863.19,840.93 L863.76,840.71 L864.33,840.49 L864.89,840.26 L865.46,840.01 L866.03,839.76 L866.59,839.5 L867.16,839.22 L867.73,838.94 L868.29,838.64 L868.86,838.33 L869.42,838.01 L869.99,837.68 L870.56,837.33 L871.12,836.96 L871.69,836.56 L872.26,836.12 L872.82,835.64 L873.39,835.11 L873.96,834.54 L874.52,833.93 L875.09,833.28 L875.66,832.59 L876.22,831.86 L876.79,831.08 L877.36,830.27 L877.92,829.42 L878.49,828.52 L879.06,827.59 L879.62,826.62 L880.19,825.61 L880.76,824.56 L881.32,823.47 L881.89,822.34 L882.45,821.17 L883.02,819.97 L883.59,818.63 L884.15,817.14 L884.72,815.5 L885.29,813.7 L885.85,811.75 L886.42,809.66 L886.99,807.44 L887.55,805.07 L888.12,802.58 L888.69,799.96 L889.25,797.21 L889.82,794.35 L890.39,791.37 L890.95,788.28 L891.52,784.9 L892.09,780.84 L892.65,776.26 L893.22,771.32 L893.79,766.19 L894.35,761.05 L894.92,756.07 L895.48,751.87 L896.05,748.18 L896.62,744.44 L897.18,740.69 L897.75,736.98 L898.32,733.33 L898.88,729.8 L899.45,726.41 L900.02,723.18 L900.58,719.95 L901.15,716.73 L901.72,713.59 L902.28,710.62 L902.85,707.9 L903.42,705.49 L903.98,703.48 L904.55,701.71 L905.12,700.05 L905.68,698.5 L906.25,697.04 L906.82,695.68 L907.38,694.41 L907.95,693.22 L908.52,692.11 L909.08,691.07 L909.65,690.09 L910.21,689.17 L910.78,688.29 L911.35,687.42 L911.91,686.59 L912.48,685.77 L913.05,684.98 L913.61,684.22 L914.18,683.48 L914.75,682.76 L915.31,682.06 L915.88,681.39 L916.45,680.74 L917.01,680.12 L917.58,679.51 L918.15,678.93 L918.71,678.37 L919.28,677.83 L919.85,677.31 L920.41,676.82 L920.98,676.35 L921.55,675.9 L922.11,675.46 L922.68,675.05 L923.24,674.65 L923.81,674.27 L924.38,673.89 L924.94,673.52 L925.51,673.16 L926.08,672.81 L926.64,672.47 L927.21,672.14 L927.78,671.82 L928.34,671.5 L928.91,671.19 L929.48,670.9 L930.04,670.6 L930.61,670.32 L931.18,670.04 L931.74,669.77 L932.31,669.5 L932.88,669.24 L933.44,668.99 L934.01,668.74 L934.58,668.5 L935.14,668.26 L935.71,668.03 L936.27,667.8 L936.84,667.57 L937.41,667.35 L937.97,667.13 L938.54,666.91 L939.11,666.7 L939.67,666.48 L940.24,666.27 L940.81,666.06 L941.37,665.85 L941.94,665.65 L942.51,665.44 L943.07,665.24 L943.64,665.03 L944.21,664.83 L944.77,664.64 L945.34,664.44 L945.91,664.24 L946.47,664.05 L947.04,663.86 L947.61,663.67 L948.17,663.49 L948.74,663.31 L949.3,663.12 L949.87,662.95 L950.44,662.77 L951,662.6 L951.57,662.43 L952.14,662.26 L952.7,662.1 L953.27,661.94 L953.84,661.78 L954.4,661.63 L954.97,661.48 L955.54,661.33 L956.1,661.18 L956.67,661.04 L957.24,660.91 L957.8,660.77 L958.37,660.65 L958.94,660.52 L959.5,660.4 L960.07,660.28 L960.64,660.17 L961.2,660.06 L961.77,659.96 L962.33,659.85 L962.9,659.76 L963.47,659.67 L964.03,659.58 L964.6,659.49 L965.17,659.4 L965.73,659.32 L966.3,659.23 L966.87,659.15 L967.43,659.06 L968,658.98 L968.57,658.9 L969.13,658.82 L969.7,658.74 L970.27,658.66 L970.83,658.58 L971.4,658.5 L971.97,658.42 L972.53,658.34 L973.1,658.27 L973.67,658.19 L974.23,658.12 L974.8,658.04 L975.36,657.97 L975.93,657.9 L976.5,657.83 L977.06,657.76 L977.63,657.69 L978.2,657.62 L978.76,657.55 L979.33,657.48 L979.9,657.42 L980.46,657.35 L981.03,657.29 L981.6,657.22 L982.16,657.16 L982.73,657.1 L983.3,657.04 L983.86,656.98 L984.43,656.92 L985,656.86 L985.56,656.81 L986.13,656.75 L986.7,656.69 L987.26,656.64 L987.83,656.59 L988.39,656.54 L988.96,656.48 L989.53,656.43 L990.09,656.39 L990.66,656.34 L991.23,656.29 L991.79,656.24 L992.36,656.2 L992.93,656.16 L993.49,656.11 L994.06,656.07 L994.63,656.03 L995.19,655.99 L995.76,655.95 L996.33,655.91 L996.89,655.88 L997.46,655.84 L998.03,655.81 L998.59,655.77 L999.16,655.74 L999.73,655.71 L1000.29,655.68 L1000.86,655.65 L1001.42,655.63 L1001.99,655.6 L1002.56,655.57 L1003.12,655.55 L1003.69,655.53 L1004.26,655.5 L1004.82,655.48 L1005.39,655.46 L1005.96,655.44 L1006.52,655.42 L1007.09,655.4 L1007.66,655.38 L1008.22,655.37 L1008.79,655.35 L1009.36,655.33 L1009.92,655.31 L1010.49,655.29 L1011.06,655.27 L1011.62,655.25 L1012.19,655.24 L1012.76,655.22 L1013.32,655.2 L1013.89,655.18 L1014.45,655.17 L1015.02,655.15 L1015.59,655.13 L1016.15,655.12 L1016.72,655.1 L1017.29,655.08 L1017.85,655.07 L1018.42,655.05 L1018.99,655.04 L1019.55,655.02 L1020.12,655.01 L1020.69,654.99 L1021.25,654.98 L1021.82,654.97 L1022.39,654.95 L1022.95,654.94 L1023.52,654.92 L1024.09,654.91 L1024.65,654.9 L1025.22,654.89 L1025.79,654.87 L1026.35,654.86 L1026.92,654.85 L1027.48,654.84 L1028.05,654.83 L1028.62,654.81 L1029.18,654.8 L1029.75,654.79 L1030.32,654.78 L1030.88,654.77 L1031.45,654.76 L1032.02,654.75 L1032.58,654.74 L1033.15,654.73 L1033.72,654.72 L1034.28,654.72 L1034.85,654.71 L1035.42,654.7 L1035.98,654.69 L1036.55,654.68 L1037.12,654.68 L1037.68,654.67 L1038.25,654.66 L1038.82,654.65 L1039.38,654.65 L1039.95,654.64 L1040.52,654.64 L1041.08,654.63 L1041.65,654.63 L1042.21,654.62 L1042.78,654.62 L1043.35,654.61 L1043.91,654.61 L1044.48,654.6 L1045.05,654.6 L1045.61,654.6 L1046.18,654.59 L1046.75,654.59 L1047.31,654.59 L1047.88,654.58 L1048.45,654.58 L1049.01,654.58 L1049.58,654.57 L1050.15,654.57 L1050.71,654.57 L1051.28,654.56 L1051.85,654.56 L1052.41,654.56 L1052.98,654.55 L1053.55,654.55 L1054.11,654.55 L1054.68,654.54 L1055.24,654.54 L1055.81,654.54 L1056.38,654.54 L1056.94,654.53 L1057.51,654.53 L1058.08,654.53 L1058.64,654.52 L1059.21,654.52 L1059.78,654.52 L1060.34,654.52 L1060.91,654.51 L1061.48,654.51 L1062.04,654.51 L1062.61,654.51 L1063.18,654.5 L1063.74,654.5 L1064.31,654.5 L1064.88,654.49 L1065.44,654.49 L1066.01,654.49 L1066.58,654.49 L1067.14,654.49 L1067.71,654.48 L1068.27,654.48 L1068.84,654.48 L1069.41,654.48 L1069.97,654.47 L1070.54,654.47 L1071.11,654.47 L1071.67,654.47 L1072.24,654.46 L1072.81,654.46 L1073.37,654.46 L1073.94,654.46 L1074.51,654.46 L1075.07,654.45 L1075.64,654.45 L1076.21,654.45 L1076.77,654.45 L1077.34,654.45 L1077.91,654.45 L1078.47,654.44 L1079.04,654.44 L1079.61,654.44 L1080.17,654.44 L1080.74,654.44 L1081.3,654.43 L1081.87,654.43 L1082.44,654.43 L1083,654.43 L1083.57,654.43 L1084.14,654.43 L1084.7,654.43 L1085.27,654.42 L1085.84,654.42 L1086.4,654.42 L1086.97,654.42 L1087.54,654.42 L1088.1,654.42 L1088.67,654.42 L1089.24,654.42 L1089.8,654.41 L1090.37,654.41 L1090.94,654.41 L1091.5,654.41 L1092.07,654.41 L1092.64,654.41 L1093.2,654.41 L1093.77,654.41 L1094.33,654.41 L1094.9,654.41 L1095.47,654.41 L1096.03,654.41 L1096.6,654.41 L1097.17,654.41 L1097.73,654.41 L1098.3,654.41 L1098.87,654.41 L1099.43,654.41 L1100,654.41" fill="none" stroke="#79aedd" stroke-width="4" stroke-linecap="round" stroke-linejoin="round"/>
<path d="M704,852.99 L704.57,852.99 L705.13,852.99 L705.7,852.99 L706.27,852.99 L706.83,852.99 L707.4,852.99 L707.97,852.99 L708.53,852.99 L709.1,852.99 L709.67,852.99 L710.23,852.99 L710.8,852.99 L711.36,852.99 L711.93,852.99 L712.5,852.99 L713.06,852.99 L713.63,852.98 L714.2,852.98 L714.76,852.98 L715.33,852.98 L715.9,852.98 L716.46,852.98 L717.03,852.98 L717.6,852.98 L718.16,852.97 L718.73,852.97 L719.3,852.97 L719.86,852.97 L720.43,852.97 L721,852.97 L721.56,852.97 L722.13,852.96 L722.7,852.96 L723.26,852.96 L723.83,852.96 L724.39,852.96 L724.96,852.96 L725.53,852.95 L726.09,852.95 L726.66,852.95 L727.23,852.95 L727.79,852.95 L728.36,852.94 L728.93,852.94 L729.49,852.94 L730.06,852.94 L730.63,852.94 L731.19,852.93 L731.76,852.93 L732.33,852.93 L732.89,852.93 L733.46,852.93 L734.03,852.92 L734.59,852.92 L735.16,852.92 L735.73,852.92 L736.29,852.91 L736.86,852.91 L737.42,852.91 L737.99,852.91 L738.56,852.9 L739.12,852.9 L739.69,852.9 L740.26,852.9 L740.82,852.89 L741.39,852.89 L741.96,852.89 L742.52,852.89 L743.09,852.88 L743.66,852.88 L744.22,852.88 L744.79,852.87 L745.36,852.87 L745.92,852.87 L746.49,852.87 L747.06,852.86 L747.62,852.86 L748.19,852.86 L748.76,852.85 L749.32,852.85 L749.89,852.85 L750.45,852.84 L751.02,852.84 L751.59,852.84 L752.15,852.84 L752.72,852.83 L753.29,852.83 L753.85,852.83 L754.42,852.82 L754.99,852.82 L755.55,852.82 L756.12,852.81 L756.69,852.81 L757.25,852.81 L757.82,852.8 L758.39,852.8 L758.95,852.8 L759.52,852.79 L760.09,852.79 L760.65,852.78 L761.22,852.78 L761.79,852.77 L762.35,852.77 L762.92,852.76 L763.48,852.76 L764.05,852.75 L764.62,852.74 L765.18,852.74 L765.75,852.73 L766.32,852.72 L766.88,852.71 L767.45,852.71 L768.02,852.7 L768.58,852.69 L769.15,852.68 L769.72,852.67 L770.28,852.66 L770.85,852.65 L771.42,852.64 L771.98,852.63 L772.55,852.62 L773.12,852.61 L773.68,852.6 L774.25,852.59 L774.82,852.58 L775.38,852.57 L775.95,852.56 L776.52,852.55 L777.08,852.53 L777.65,852.52 L778.21,852.51 L778.78,852.5 L779.35,852.48 L779.91,852.47 L780.48,852.46 L781.05,852.44 L781.61,852.43 L782.18,852.41 L782.75,852.4 L783.31,852.39 L783.88,852.37 L784.45,852.36 L785.01,852.34 L785.58,852.32 L786.15,852.31 L786.71,852.29 L787.28,852.28 L787.85,852.26 L788.41,852.24 L788.98,852.23 L789.55,852.21 L790.11,852.19 L790.68,852.17 L791.24,852.16 L791.81,852.14 L792.38,852.12 L792.94,852.1 L793.51,852.08 L794.08,852.06 L794.64,852.05 L795.21,852.03 L795.78,852.01 L796.34,851.99 L796.91,851.97 L797.48,851.95 L798.04,851.93 L798.61,851.91 L799.18,851.89 L799.74,851.86 L800.31,851.84 L800.88,851.82 L801.44,851.79 L802.01,851.76 L802.58,851.74 L803.14,851.71 L803.71,851.68 L804.27,851.64 L804.84,851.61 L805.41,851.58 L805.97,851.54 L806.54,851.51 L807.11,851.47 L807.67,851.43 L808.24,851.39 L808.81,851.35 L809.37,851.31 L809.94,851.27 L810.51,851.23 L811.07,851.18 L811.64,851.14 L812.21,851.09 L812.77,851.04 L813.34,850.99 L813.91,850.95 L814.47,850.89 L815.04,850.84 L815.61,850.79 L816.17,850.74 L816.74,850.68 L817.3,850.63 L817.87,850.57 L818.44,850.51 L819,850.46 L819.57,850.4 L820.14,850.34 L820.7,850.28 L821.27,850.21 L821.84,850.15 L822.4,850.09 L822.97,850.02 L823.54,849.96 L824.1,849.89 L824.67,849.82 L825.24,849.75 L825.8,849.69 L826.37,849.62 L826.94,849.54 L827.5,849.47 L828.07,849.4 L828.64,849.33 L829.2,849.25 L829.77,849.18 L830.33,849.1 L830.9,849.03 L831.47,848.95 L832.03,848.87 L832.6,848.79 L833.17,848.71 L833.73,848.63 L834.3,848.55 L834.87,848.47 L835.43,848.38 L836,848.3 L836.57,848.22 L837.13,848.13 L837.7,848.05 L838.27,847.96 L838.83,847.87 L839.4,847.78 L839.97,847.7 L840.53,847.6 L841.1,847.5 L841.67,847.4 L842.23,847.3 L842.8,847.19 L843.36,847.07 L843.93,846.95 L844.5,846.83 L845.06,846.7 L845.63,846.57 L846.2,846.44 L846.76,846.3 L847.33,846.16 L847.9,846.01 L848.46,845.86 L849.03,845.71 L849.6,845.55 L850.16,845.4 L850.73,845.23 L851.3,845.07 L851.86,844.9 L852.43,844.73 L853,844.56 L853.56,844.38 L854.13,844.2 L854.7,844.02 L855.26,843.84 L855.83,843.65 L856.39,843.46 L856.96,843.27 L857.53,843.08 L858.09,842.88 L858.66,842.68 L859.23,842.48 L859.79,842.28 L860.36,842.08 L860.93,841.87 L861.49,841.67 L862.06,841.46 L862.63,841.25 L863.19,841.04 L863.76,840.83 L864.33,840.62 L864.89,840.4 L865.46,840.18 L866.03,839.96 L866.59,839.74 L867.16,839.51 L867.73,839.28 L868.29,839.04 L868.86,838.8 L869.42,838.56 L869.99,838.3 L870.56,838.05 L871.12,837.79 L871.69,837.52 L872.26,837.25 L872.82,836.96 L873.39,836.68 L873.96,836.38 L874.52,836.08 L875.09,835.77 L875.66,835.45 L876.22,835.13 L876.79,834.79 L877.36,834.45 L877.92,834.09 L878.49,833.73 L879.06,833.36 L879.62,832.98 L880.19,832.58 L880.76,832.18 L881.32,831.76 L881.89,831.32 L882.45,830.86 L883.02,830.38 L883.59,829.87 L884.15,829.35 L884.72,828.8 L885.29,828.23 L885.85,827.64 L886.42,827.03 L886.99,826.39 L887.55,825.73 L888.12,825.05 L888.69,824.35 L889.25,823.62 L889.82,822.87 L890.39,822.09 L890.95,821.29 L891.52,820.47 L892.09,819.62 L892.65,818.75 L893.22,817.86 L893.79,816.91 L894.35,815.91 L894.92,814.84 L895.48,813.69 L896.05,812.47 L896.62,811.17 L897.18,809.77 L897.75,808.27 L898.32,806.68 L898.88,804.97 L899.45,803.14 L900.02,800.96 L900.58,798.42 L901.15,795.58 L901.72,792.53 L902.28,789.35 L902.85,786.12 L903.42,782.9 L903.98,779.62 L904.55,776.16 L905.12,772.58 L905.68,768.9 L906.25,765.16 L906.82,761.41 L907.38,757.69 L907.95,754.03 L908.52,749.31 L909.08,744.24 L909.65,739.08 L910.21,734.01 L910.78,729.2 L911.35,724.81 L911.91,721.02 L912.48,717.83 L913.05,714.79 L913.61,711.86 L914.18,709.04 L914.75,706.35 L915.31,703.78 L915.88,701.34 L916.45,699.03 L917.01,696.86 L917.58,694.83 L918.15,692.94 L918.71,691.21 L919.28,689.62 L919.85,688.2 L920.41,686.93 L920.98,685.74 L921.55,684.59 L922.11,683.48 L922.68,682.4 L923.24,681.37 L923.81,680.38 L924.38,679.42 L924.94,678.5 L925.51,677.63 L926.08,676.79 L926.64,675.99 L927.21,675.24 L927.78,674.52 L928.34,673.85 L928.91,673.21 L929.48,672.62 L930.04,672.07 L930.61,671.56 L931.18,671.09 L931.74,670.67 L932.31,670.28 L932.88,669.93 L933.44,669.58 L934.01,669.25 L934.58,668.94 L935.14,668.63 L935.71,668.34 L936.27,668.06 L936.84,667.79 L937.41,667.53 L937.97,667.28 L938.54,667.05 L939.11,666.82 L939.67,666.6 L940.24,666.38 L940.81,666.18 L941.37,665.98 L941.94,665.79 L942.51,665.61 L943.07,665.43 L943.64,665.26 L944.21,665.09 L944.77,664.93 L945.34,664.77 L945.91,664.62 L946.47,664.47 L947.04,664.32 L947.61,664.18 L948.17,664.03 L948.74,663.89 L949.3,663.75 L949.87,663.62 L950.44,663.48 L951,663.35 L951.57,663.22 L952.14,663.09 L952.7,662.97 L953.27,662.84 L953.84,662.72 L954.4,662.6 L954.97,662.48 L955.54,662.36 L956.1,662.25 L956.67,662.13 L957.24,662.02 L957.8,661.91 L958.37,661.8 L958.94,661.7 L959.5,661.59 L960.07,661.49 L960.64,661.38 L961.2,661.28 L961.77,661.18 L962.33,661.09 L962.9,660.99 L963.47,660.9 L964.03,660.8 L964.6,660.71 L965.17,660.62 L965.73,660.53 L966.3,660.44 L966.87,660.36 L967.43,660.27 L968,660.19 L968.57,660.1 L969.13,660.02 L969.7,659.94 L970.27,659.86 L970.83,659.78 L971.4,659.7 L971.97,659.63 L972.53,659.55 L973.1,659.48 L973.67,659.4 L974.23,659.33 L974.8,659.26 L975.36,659.19 L975.93,659.12 L976.5,659.05 L977.06,658.98 L977.63,658.91 L978.2,658.85 L978.76,658.78 L979.33,658.71 L979.9,658.65 L980.46,658.58 L981.03,658.51 L981.6,658.45 L982.16,658.38 L982.73,658.32 L983.3,658.25 L983.86,658.19 L984.43,658.12 L985,658.06 L985.56,657.99 L986.13,657.93 L986.7,657.87 L987.26,657.8 L987.83,657.74 L988.39,657.68 L988.96,657.62 L989.53,657.56 L990.09,657.49 L990.66,657.43 L991.23,657.37 L991.79,657.32 L992.36,657.26 L992.93,657.2 L993.49,657.14 L994.06,657.08 L994.63,657.03 L995.19,656.97 L995.76,656.92 L996.33,656.86 L996.89,656.81 L997.46,656.75 L998.03,656.7 L998.59,656.65 L999.16,656.6 L999.73,656.55 L1000.29,656.5 L1000.86,656.45 L1001.42,656.4 L1001.99,656.35 L1002.56,656.3 L1003.12,656.26 L1003.69,656.21 L1004.26,656.17 L1004.82,656.12 L1005.39,656.08 L1005.96,656.04 L1006.52,656 L1007.09,655.96 L1007.66,655.92 L1008.22,655.88 L1008.79,655.84 L1009.36,655.81 L1009.92,655.77 L1010.49,655.74 L1011.06,655.71 L1011.62,655.67 L1012.19,655.64 L1012.76,655.61 L1013.32,655.59 L1013.89,655.56 L1014.45,655.53 L1015.02,655.51 L1015.59,655.48 L1016.15,655.46 L1016.72,655.44 L1017.29,655.42 L1017.85,655.4 L1018.42,655.38 L1018.99,655.36 L1019.55,655.34 L1020.12,655.33 L1020.69,655.31 L1021.25,655.29 L1021.82,655.27 L1022.39,655.26 L1022.95,655.24 L1023.52,655.22 L1024.09,655.21 L1024.65,655.19 L1025.22,655.17 L1025.79,655.16 L1026.35,655.14 L1026.92,655.13 L1027.48,655.11 L1028.05,655.1 L1028.62,655.08 L1029.18,655.07 L1029.75,655.05 L1030.32,655.04 L1030.88,655.02 L1031.45,655.01 L1032.02,655 L1032.58,654.98 L1033.15,654.97 L1033.72,654.96 L1034.28,654.94 L1034.85,654.93 L1035.42,654.92 L1035.98,654.91 L1036.55,654.89 L1037.12,654.88 L1037.68,654.87 L1038.25,654.86 L1038.82,654.85 L1039.38,654.84 L1039.95,654.83 L1040.52,654.82 L1041.08,654.8 L1041.65,654.79 L1042.21,654.78 L1042.78,654.77 L1043.35,654.77 L1043.91,654.76 L1044.48,654.75 L1045.05,654.74 L1045.61,654.73 L1046.18,654.72 L1046.75,654.71 L1047.31,654.7 L1047.88,654.7 L1048.45,654.69 L1049.01,654.68 L1049.58,654.68 L1050.15,654.67 L1050.71,654.66 L1051.28,654.66 L1051.85,654.65 L1052.41,654.64 L1052.98,654.64 L1053.55,654.63 L1054.11,654.63 L1054.68,654.62 L1055.24,654.62 L1055.81,654.61 L1056.38,654.61 L1056.94,654.61 L1057.51,654.6 L1058.08,654.6 L1058.64,654.59 L1059.21,654.59 L1059.78,654.59 L1060.34,654.58 L1060.91,654.58 L1061.48,654.58 L1062.04,654.58 L1062.61,654.57 L1063.18,654.57 L1063.74,654.57 L1064.31,654.56 L1064.88,654.56 L1065.44,654.56 L1066.01,654.55 L1066.58,654.55 L1067.14,654.55 L1067.71,654.54 L1068.27,654.54 L1068.84,654.54 L1069.41,654.54 L1069.97,654.53 L1070.54,654.53 L1071.11,654.53 L1071.67,654.52 L1072.24,654.52 L1072.81,654.52 L1073.37,654.52 L1073.94,654.51 L1074.51,654.51 L1075.07,654.51 L1075.64,654.5 L1076.21,654.5 L1076.77,654.5 L1077.34,654.5 L1077.91,654.49 L1078.47,654.49 L1079.04,654.49 L1079.61,654.49 L1080.17,654.48 L1080.74,654.48 L1081.3,654.48 L1081.87,654.48 L1082.44,654.48 L1083,654.47 L1083.57,654.47 L1084.14,654.47 L1084.7,654.47 L1085.27,654.46 L1085.84,654.46 L1086.4,654.46 L1086.97,654.46 L1087.54,654.46 L1088.1,654.45 L1088.67,654.45 L1089.24,654.45 L1089.8,654.45 L1090.37,654.45 L1090.94,654.44 L1091.5,654.44 L1092.07,654.44 L1092.64,654.44 L1093.2,654.44 L1093.77,654.44 L1094.33,654.43 L1094.9,654.43 L1095.47,654.43 L1096.03,654.43 L1096.6,654.43 L1097.17,654.43 L1097.73,654.43 L1098.3,654.42 L1098.87,654.42 L1099.43,654.42 L1100,654.42" fill="none" stroke="#79aedd" stroke-width="4" stroke-linecap="round" stroke-linejoin="round"/>
<path d="M702.3,939.7 L702.87,939.7 L703.43,939.7 L704,939.69 L704.57,939.69 L705.13,939.69 L705.7,939.69 L706.27,939.68 L706.83,939.68 L707.4,939.68 L707.97,939.68 L708.53,939.67 L709.1,939.67 L709.66,939.66 L710.23,939.66 L710.8,939.66 L711.36,939.65 L711.93,939.65 L712.5,939.64 L713.06,939.64 L713.63,939.63 L714.2,939.63 L714.76,939.62 L715.33,939.61 L715.9,939.61 L716.46,939.6 L717.03,939.6 L717.6,939.59 L718.16,939.58 L718.73,939.58 L719.3,939.57 L719.86,939.56 L720.43,939.56 L721,939.55 L721.56,939.54 L722.13,939.53 L722.69,939.53 L723.26,939.52 L723.83,939.51 L724.39,939.5 L724.96,939.5 L725.53,939.49 L726.09,939.48 L726.66,939.47 L727.23,939.46 L727.79,939.45 L728.36,939.45 L728.93,939.44 L729.49,939.43 L730.06,939.42 L730.63,939.41 L731.19,939.4 L731.76,939.39 L732.33,939.38 L732.89,939.38 L733.46,939.37 L734.03,939.36 L734.59,939.35 L735.16,939.34 L735.72,939.33 L736.29,939.32 L736.86,939.31 L737.42,939.3 L737.99,939.29 L738.56,939.28 L739.12,939.27 L739.69,939.26 L740.26,939.25 L740.82,939.23 L741.39,939.22 L741.96,939.21 L742.52,939.19 L743.09,939.18 L743.66,939.16 L744.22,939.15 L744.79,939.13 L745.36,939.12 L745.92,939.1 L746.49,939.09 L747.06,939.07 L747.62,939.05 L748.19,939.03 L748.75,939.02 L749.32,939 L749.89,938.98 L750.45,938.96 L751.02,938.94 L751.59,938.92 L752.15,938.9 L752.72,938.88 L753.29,938.86 L753.85,938.84 L754.42,938.82 L754.99,938.8 L755.55,938.78 L756.12,938.76 L756.69,938.74 L757.25,938.72 L757.82,938.69 L758.39,938.67 L758.95,938.65 L759.52,938.62 L760.09,938.6 L760.65,938.58 L761.22,938.55 L761.78,938.53 L762.35,938.51 L762.92,938.48 L763.48,938.46 L764.05,938.43 L764.62,938.41 L765.18,938.38 L765.75,938.36 L766.32,938.33 L766.88,938.31 L767.45,938.28 L768.02,938.26 L768.58,938.23 L769.15,938.21 L769.72,938.18 L770.28,938.16 L770.85,938.13 L771.42,938.1 L771.98,938.08 L772.55,938.05 L773.12,938.02 L773.68,938 L774.25,937.97 L774.82,937.94 L775.38,937.92 L775.95,937.89 L776.51,937.86 L777.08,937.84 L777.65,937.81 L778.21,937.78 L778.78,937.75 L779.35,937.73 L779.91,937.7 L780.48,937.67 L781.05,937.64 L781.61,937.61 L782.18,937.58 L782.75,937.55 L783.31,937.52 L783.88,937.49 L784.45,937.46 L785.01,937.43 L785.58,937.39 L786.15,937.36 L786.71,937.33 L787.28,937.3 L787.85,937.26 L788.41,937.23 L788.98,937.2 L789.54,937.16 L790.11,937.13 L790.68,937.09 L791.24,937.05 L791.81,937.02 L792.38,936.98 L792.94,936.94 L793.51,936.91 L794.08,936.87 L794.64,936.83 L795.21,936.79 L795.78,936.75 L796.34,936.71 L796.91,936.67 L797.48,936.63 L798.04,936.59 L798.61,936.55 L799.18,936.5 L799.74,936.46 L800.31,936.42 L800.88,936.37 L801.44,936.33 L802.01,936.28 L802.57,936.24 L803.14,936.19 L803.71,936.15 L804.27,936.1 L804.84,936.05 L805.41,936 L805.97,935.96 L806.54,935.91 L807.11,935.86 L807.67,935.81 L808.24,935.75 L808.81,935.7 L809.37,935.65 L809.94,935.6 L810.51,935.54 L811.07,935.49 L811.64,935.43 L812.21,935.38 L812.77,935.32 L813.34,935.26 L813.91,935.2 L814.47,935.14 L815.04,935.08 L815.6,935.02 L816.17,934.96 L816.74,934.9 L817.3,934.83 L817.87,934.77 L818.44,934.7 L819,934.64 L819.57,934.57 L820.14,934.5 L820.7,934.43 L821.27,934.36 L821.84,934.28 L822.4,934.21 L822.97,934.14 L823.54,934.06 L824.1,933.98 L824.67,933.9 L825.24,933.82 L825.8,933.74 L826.37,933.66 L826.94,933.58 L827.5,933.49 L828.07,933.4 L828.63,933.32 L829.2,933.23 L829.77,933.14 L830.33,933.04 L830.9,932.95 L831.47,932.85 L832.03,932.76 L832.6,932.66 L833.17,932.56 L833.73,932.46 L834.3,932.35 L834.87,932.25 L835.43,932.14 L836,932.03 L836.57,931.92 L837.13,931.81 L837.7,931.7 L838.27,931.58 L838.83,931.47 L839.4,931.35 L839.97,931.22 L840.53,931.09 L841.1,930.95 L841.66,930.81 L842.23,930.67 L842.8,930.51 L843.36,930.36 L843.93,930.2 L844.5,930.03 L845.06,929.86 L845.63,929.69 L846.2,929.51 L846.76,929.32 L847.33,929.14 L847.9,928.94 L848.46,928.74 L849.03,928.54 L849.6,928.33 L850.16,928.12 L850.73,927.9 L851.3,927.68 L851.86,927.45 L852.43,927.22 L853,926.98 L853.56,926.74 L854.13,926.49 L854.69,926.24 L855.26,925.98 L855.83,925.72 L856.39,925.46 L856.96,925.19 L857.53,924.91 L858.09,924.63 L858.66,924.35 L859.23,924.06 L859.79,923.76 L860.36,923.45 L860.93,923.12 L861.49,922.78 L862.06,922.43 L862.63,922.06 L863.19,921.68 L863.76,921.28 L864.33,920.87 L864.89,920.45 L865.46,920.01 L866.03,919.56 L866.59,919.1 L867.16,918.62 L867.72,918.13 L868.29,917.62 L868.86,917.11 L869.42,916.57 L869.99,916.03 L870.56,915.47 L871.12,914.9 L871.69,914.31 L872.26,913.72 L872.82,913.1 L873.39,912.48 L873.96,911.84 L874.52,911.16 L875.09,910.44 L875.66,909.69 L876.22,908.9 L876.79,908.08 L877.36,907.23 L877.92,906.34 L878.49,905.42 L879.06,904.47 L879.62,903.48 L880.19,902.46 L880.75,901.41 L881.32,900.33 L881.89,899.22 L882.45,898.08 L883.02,896.91 L883.59,895.7 L884.15,894.47 L884.72,893.2 L885.29,891.87 L885.85,890.49 L886.42,889.04 L886.99,887.51 L887.55,885.91 L888.12,884.21 L888.69,882.41 L889.25,880.5 L889.82,878.48 L890.39,876.33 L890.95,874.05 L891.52,871.61 L892.09,868.92 L892.65,865.93 L893.22,862.59 L893.78,858.83 L894.35,854.6 L894.92,849.84 L895.48,844.11 L896.05,836.42 L896.62,827.23 L897.18,817.08 L897.75,806.52 L898.33,795.14 L898.94,782.33 L899.77,768.88 L901.2,755.59 L902.79,742.48 L903.75,729 L904.4,715.91 L904.98,704.04 L905.55,693.41 L906.12,683.08 L906.68,673.55 L907.25,665.37 L907.82,659.07 L908.38,654.14 L908.95,649.76 L909.52,645.87 L910.08,642.41 L910.65,639.33 L911.21,636.55 L911.78,634.04 L912.35,631.72 L912.91,629.54 L913.48,627.48 L914.05,625.54 L914.61,623.71 L915.18,621.98 L915.75,620.35 L916.31,618.8 L916.88,617.33 L917.45,615.93 L918.01,614.59 L918.58,613.3 L919.15,612.05 L919.71,610.84 L920.28,609.66 L920.85,608.51 L921.41,607.39 L921.98,606.3 L922.55,605.24 L923.11,604.21 L923.68,603.22 L924.24,602.26 L924.81,601.33 L925.38,600.43 L925.94,599.56 L926.51,598.73 L927.08,597.94 L927.64,597.18 L928.21,596.45 L928.78,595.76 L929.34,595.11 L929.91,594.48 L930.48,593.86 L931.04,593.26 L931.61,592.67 L932.18,592.1 L932.74,591.53 L933.31,590.98 L933.88,590.45 L934.44,589.93 L935.01,589.42 L935.58,588.92 L936.14,588.44 L936.71,587.97 L937.27,587.52 L937.84,587.08 L938.41,586.65 L938.97,586.24 L939.54,585.84 L940.11,585.45 L940.67,585.08 L941.24,584.72 L941.81,584.37 L942.37,584.04 L942.94,583.73 L943.51,583.42 L944.07,583.13 L944.64,582.85 L945.21,582.57 L945.77,582.29 L946.34,582.02 L946.91,581.75 L947.47,581.49 L948.04,581.23 L948.61,580.98 L949.17,580.73 L949.74,580.49 L950.3,580.25 L950.87,580.02 L951.44,579.79 L952,579.57 L952.57,579.35 L953.14,579.13 L953.7,578.92 L954.27,578.72 L954.84,578.52 L955.4,578.32 L955.97,578.13 L956.54,577.94 L957.1,577.76 L957.67,577.59 L958.24,577.42 L958.8,577.25 L959.37,577.09 L959.94,576.93 L960.5,576.78 L961.07,576.63 L961.64,576.49 L962.2,576.35 L962.77,576.22 L963.33,576.09 L963.9,575.97 L964.47,575.85 L965.03,575.73 L965.6,575.62 L966.17,575.51 L966.73,575.4 L967.3,575.29 L967.87,575.18 L968.43,575.08 L969,574.97 L969.57,574.87 L970.13,574.77 L970.7,574.67 L971.27,574.57 L971.83,574.48 L972.4,574.38 L972.97,574.29 L973.53,574.2 L974.1,574.11 L974.67,574.02 L975.23,573.93 L975.8,573.85 L976.36,573.76 L976.93,573.68 L977.5,573.6 L978.06,573.52 L978.63,573.44 L979.2,573.36 L979.76,573.29 L980.33,573.21 L980.9,573.14 L981.46,573.06 L982.03,572.99 L982.6,572.92 L983.16,572.85 L983.73,572.78 L984.3,572.72 L984.86,572.65 L985.43,572.58 L986,572.52 L986.56,572.46 L987.13,572.39 L987.7,572.33 L988.26,572.27 L988.83,572.21 L989.39,572.15 L989.96,572.1 L990.53,572.04 L991.09,571.98 L991.66,571.93 L992.23,571.87 L992.79,571.82 L993.36,571.77 L993.93,571.71 L994.49,571.66 L995.06,571.61 L995.63,571.56 L996.19,571.51 L996.76,571.46 L997.33,571.41 L997.89,571.36 L998.46,571.31 L999.03,571.27 L999.59,571.22 L1000.16,571.17 L1000.73,571.13 L1001.29,571.08 L1001.86,571.04 L1002.42,570.99 L1002.99,570.95 L1003.56,570.91 L1004.12,570.87 L1004.69,570.82 L1005.26,570.78 L1005.82,570.74 L1006.39,570.7 L1006.96,570.66 L1007.52,570.62 L1008.09,570.58 L1008.66,570.54 L1009.22,570.5 L1009.79,570.47 L1010.36,570.43 L1010.92,570.39 L1011.49,570.36 L1012.06,570.32 L1012.62,570.28 L1013.19,570.25 L1013.76,570.21 L1014.32,570.18 L1014.89,570.15 L1015.45,570.11 L1016.02,570.08 L1016.59,570.05 L1017.15,570.01 L1017.72,569.98 L1018.29,569.95 L1018.85,569.92 L1019.42,569.89 L1019.99,569.86 L1020.55,569.83 L1021.12,569.8 L1021.69,569.77 L1022.25,569.74 L1022.82,569.71 L1023.39,569.68 L1023.95,569.65 L1024.52,569.63 L1025.09,569.6 L1025.65,569.57 L1026.22,569.54 L1026.79,569.52 L1027.35,569.49 L1027.92,569.46 L1028.48,569.44 L1029.05,569.41 L1029.62,569.38 L1030.18,569.36 L1030.75,569.33 L1031.32,569.31 L1031.88,569.28 L1032.45,569.25 L1033.02,569.23 L1033.58,569.2 L1034.15,569.17 L1034.72,569.15 L1035.28,569.12 L1035.85,569.1 L1036.42,569.07 L1036.98,569.05 L1037.55,569.02 L1038.12,569 L1038.68,568.97 L1039.25,568.95 L1039.82,568.92 L1040.38,568.9 L1040.95,568.88 L1041.52,568.85 L1042.08,568.83 L1042.65,568.81 L1043.21,568.78 L1043.78,568.76 L1044.35,568.74 L1044.91,568.71 L1045.48,568.69 L1046.05,568.67 L1046.61,568.65 L1047.18,568.63 L1047.75,568.6 L1048.31,568.58 L1048.88,568.56 L1049.45,568.54 L1050.01,568.52 L1050.58,568.5 L1051.15,568.48 L1051.71,568.46 L1052.28,568.44 L1052.85,568.42 L1053.41,568.41 L1053.98,568.39 L1054.55,568.37 L1055.11,568.35 L1055.68,568.34 L1056.24,568.32 L1056.81,568.3 L1057.38,568.29 L1057.94,568.27 L1058.51,568.26 L1059.08,568.24 L1059.64,568.23 L1060.21,568.21 L1060.78,568.2 L1061.34,568.18 L1061.91,568.17 L1062.48,568.16 L1063.04,568.15 L1063.61,568.13 L1064.18,568.12 L1064.74,568.11 L1065.31,568.1 L1065.88,568.09 L1066.44,568.08 L1067.01,568.07 L1067.58,568.06 L1068.14,568.05 L1068.71,568.04 L1069.27,568.04 L1069.84,568.03 L1070.41,568.02 L1070.97,568.01 L1071.54,568 L1072.11,567.99 L1072.67,567.98 L1073.24,567.97 L1073.81,567.97 L1074.37,567.96 L1074.94,567.95 L1075.51,567.94 L1076.07,567.93 L1076.64,567.92 L1077.21,567.92 L1077.77,567.91 L1078.34,567.9 L1078.91,567.89 L1079.47,567.88 L1080.04,567.88 L1080.61,567.87 L1081.17,567.86 L1081.74,567.85 L1082.3,567.85 L1082.87,567.84 L1083.44,567.83 L1084,567.83 L1084.57,567.82 L1085.14,567.81 L1085.7,567.81 L1086.27,567.8 L1086.84,567.79 L1087.4,567.79 L1087.97,567.78 L1088.54,567.78 L1089.1,567.77 L1089.67,567.76 L1090.24,567.76 L1090.8,567.75 L1091.37,567.75 L1091.94,567.75 L1092.5,567.74 L1093.07,567.74 L1093.64,567.73 L1094.2,567.73 L1094.77,567.73 L1095.33,567.72 L1095.9,567.72 L1096.47,567.72 L1097.03,567.71 L1097.6,567.71 L1098.17,567.71 L1098.73,567.71 L1099.3,567.71 L1099.87,567.7 L1100.43,567.7 L1101,567.7" fill="none" stroke="#5e9646" stroke-width="4.4" stroke-linecap="round" stroke-linejoin="round"/>
<path d="M702.3,936.7 L702.87,936.7 L703.43,936.7 L704,936.69 L704.57,936.69 L705.13,936.69 L705.7,936.69 L706.27,936.68 L706.83,936.68 L707.4,936.68 L707.97,936.68 L708.53,936.67 L709.1,936.67 L709.66,936.66 L710.23,936.66 L710.8,936.66 L711.36,936.65 L711.93,936.65 L712.5,936.64 L713.06,936.64 L713.63,936.63 L714.2,936.63 L714.76,936.62 L715.33,936.62 L715.9,936.61 L716.46,936.6 L717.03,936.6 L717.6,936.59 L718.16,936.59 L718.73,936.58 L719.3,936.57 L719.86,936.57 L720.43,936.56 L721,936.55 L721.56,936.54 L722.13,936.54 L722.69,936.53 L723.26,936.52 L723.83,936.51 L724.39,936.51 L724.96,936.5 L725.53,936.49 L726.09,936.48 L726.66,936.47 L727.23,936.47 L727.79,936.46 L728.36,936.45 L728.93,936.44 L729.49,936.43 L730.06,936.42 L730.63,936.42 L731.19,936.41 L731.76,936.4 L732.33,936.39 L732.89,936.38 L733.46,936.37 L734.03,936.36 L734.59,936.35 L735.16,936.35 L735.72,936.34 L736.29,936.33 L736.86,936.32 L737.42,936.31 L737.99,936.3 L738.56,936.29 L739.12,936.28 L739.69,936.26 L740.26,936.25 L740.82,936.24 L741.39,936.23 L741.96,936.21 L742.52,936.2 L743.09,936.19 L743.66,936.17 L744.22,936.16 L744.79,936.14 L745.36,936.13 L745.92,936.11 L746.49,936.1 L747.06,936.08 L747.62,936.06 L748.19,936.05 L748.75,936.03 L749.32,936.01 L749.89,935.99 L750.45,935.97 L751.02,935.96 L751.59,935.94 L752.15,935.92 L752.72,935.9 L753.29,935.88 L753.85,935.86 L754.42,935.84 L754.99,935.82 L755.55,935.8 L756.12,935.77 L756.69,935.75 L757.25,935.73 L757.82,935.71 L758.39,935.69 L758.95,935.66 L759.52,935.64 L760.09,935.62 L760.65,935.6 L761.22,935.57 L761.78,935.55 L762.35,935.53 L762.92,935.5 L763.48,935.48 L764.05,935.45 L764.62,935.43 L765.18,935.41 L765.75,935.38 L766.32,935.36 L766.88,935.33 L767.45,935.31 L768.02,935.28 L768.58,935.26 L769.15,935.23 L769.72,935.21 L770.28,935.18 L770.85,935.15 L771.42,935.13 L771.98,935.1 L772.55,935.08 L773.12,935.05 L773.68,935.02 L774.25,935 L774.82,934.97 L775.38,934.95 L775.95,934.92 L776.51,934.89 L777.08,934.87 L777.65,934.84 L778.21,934.81 L778.78,934.79 L779.35,934.76 L779.91,934.73 L780.48,934.7 L781.05,934.67 L781.61,934.64 L782.18,934.61 L782.75,934.59 L783.31,934.56 L783.88,934.53 L784.45,934.49 L785.01,934.46 L785.58,934.43 L786.15,934.4 L786.71,934.37 L787.28,934.34 L787.85,934.3 L788.41,934.27 L788.98,934.24 L789.54,934.2 L790.11,934.17 L790.68,934.13 L791.24,934.1 L791.81,934.06 L792.38,934.03 L792.94,933.99 L793.51,933.95 L794.08,933.91 L794.64,933.88 L795.21,933.84 L795.78,933.8 L796.34,933.76 L796.91,933.72 L797.48,933.68 L798.04,933.64 L798.61,933.6 L799.18,933.56 L799.74,933.51 L800.31,933.47 L800.88,933.43 L801.44,933.38 L802.01,933.34 L802.57,933.3 L803.14,933.25 L803.71,933.2 L804.27,933.16 L804.84,933.11 L805.41,933.06 L805.97,933.02 L806.54,932.97 L807.11,932.92 L807.67,932.87 L808.24,932.82 L808.81,932.77 L809.37,932.72 L809.94,932.66 L810.51,932.61 L811.07,932.56 L811.64,932.5 L812.21,932.45 L812.77,932.39 L813.34,932.33 L813.91,932.28 L814.47,932.22 L815.04,932.16 L815.6,932.1 L816.17,932.04 L816.74,931.98 L817.3,931.91 L817.87,931.85 L818.44,931.78 L819,931.72 L819.57,931.65 L820.14,931.58 L820.7,931.51 L821.27,931.44 L821.84,931.37 L822.4,931.3 L822.97,931.23 L823.54,931.15 L824.1,931.07 L824.67,931 L825.24,930.92 L825.8,930.84 L826.37,930.76 L826.94,930.67 L827.5,930.59 L828.07,930.51 L828.63,930.42 L829.2,930.33 L829.77,930.24 L830.33,930.15 L830.9,930.06 L831.47,929.96 L832.03,929.87 L832.6,929.77 L833.17,929.67 L833.73,929.57 L834.3,929.47 L834.87,929.37 L835.43,929.26 L836,929.16 L836.57,929.05 L837.13,928.94 L837.7,928.83 L838.27,928.72 L838.83,928.6 L839.4,928.48 L839.97,928.36 L840.53,928.23 L841.1,928.09 L841.66,927.95 L842.23,927.81 L842.8,927.66 L843.36,927.51 L843.93,927.35 L844.5,927.19 L845.06,927.02 L845.63,926.85 L846.2,926.67 L846.76,926.49 L847.33,926.31 L847.9,926.11 L848.46,925.92 L849.03,925.72 L849.6,925.51 L850.16,925.3 L850.73,925.09 L851.3,924.87 L851.86,924.65 L852.43,924.42 L853,924.18 L853.56,923.95 L854.13,923.7 L854.69,923.46 L855.26,923.21 L855.83,922.95 L856.39,922.69 L856.96,922.42 L857.53,922.15 L858.09,921.88 L858.66,921.6 L859.23,921.31 L859.79,921.02 L860.36,920.71 L860.93,920.39 L861.49,920.06 L862.06,919.71 L862.63,919.35 L863.19,918.97 L863.76,918.58 L864.33,918.18 L864.89,917.76 L865.46,917.33 L866.03,916.89 L866.59,916.43 L867.16,915.96 L867.72,915.48 L868.29,914.98 L868.86,914.47 L869.42,913.95 L869.99,913.41 L870.56,912.86 L871.12,912.3 L871.69,911.72 L872.26,911.14 L872.82,910.53 L873.39,909.92 L873.96,909.29 L874.52,908.62 L875.09,907.91 L875.66,907.17 L876.22,906.4 L876.79,905.59 L877.36,904.75 L877.92,903.88 L878.49,902.97 L879.06,902.04 L879.62,901.07 L880.19,900.06 L880.75,899.03 L881.32,897.97 L881.89,896.87 L882.45,895.75 L883.02,894.6 L883.59,893.41 L884.15,892.2 L884.72,890.95 L885.29,889.64 L885.85,888.28 L886.42,886.86 L886.99,885.36 L887.55,883.77 L888.12,882.1 L888.69,880.33 L889.25,878.46 L889.82,876.47 L890.39,874.35 L890.95,872.11 L891.52,869.71 L892.09,867.06 L892.65,864.12 L893.22,860.83 L893.78,857.13 L894.35,852.97 L894.92,848.29 L895.48,842.65 L896.05,835.08 L896.62,826.04 L897.18,816.05 L897.75,805.66 L898.33,794.47 L898.95,781.87 L899.77,768.63 L901.2,755.56 L902.78,742.66 L903.75,729.4 L904.4,716.52 L904.98,704.84 L905.55,694.38 L906.12,684.22 L906.68,674.84 L907.25,666.79 L907.82,660.6 L908.38,655.75 L908.95,651.44 L909.52,647.61 L910.08,644.21 L910.65,641.17 L911.21,638.44 L911.78,635.97 L912.35,633.69 L912.91,631.54 L913.48,629.52 L914.05,627.61 L914.61,625.81 L915.18,624.11 L915.75,622.5 L916.31,620.98 L916.88,619.53 L917.45,618.15 L918.01,616.83 L918.58,615.56 L919.15,614.34 L919.71,613.15 L920.28,611.99 L920.85,610.85 L921.41,609.75 L921.98,608.68 L922.55,607.64 L923.11,606.63 L923.68,605.65 L924.24,604.7 L924.81,603.78 L925.38,602.9 L925.94,602.05 L926.51,601.23 L927.08,600.45 L927.64,599.7 L928.21,598.99 L928.78,598.31 L929.34,597.66 L929.91,597.05 L930.48,596.44 L931.04,595.85 L931.61,595.27 L932.18,594.7 L932.74,594.15 L933.31,593.61 L933.88,593.08 L934.44,592.57 L935.01,592.07 L935.58,591.58 L936.14,591.11 L936.71,590.65 L937.27,590.2 L937.84,589.76 L938.41,589.34 L938.97,588.94 L939.54,588.54 L940.11,588.16 L940.67,587.8 L941.24,587.44 L941.81,587.11 L942.37,586.78 L942.94,586.47 L943.51,586.17 L944.07,585.88 L944.64,585.6 L945.21,585.33 L945.77,585.06 L946.34,584.79 L946.91,584.53 L947.47,584.27 L948.04,584.02 L948.61,583.77 L949.17,583.52 L949.74,583.28 L950.3,583.05 L950.87,582.82 L951.44,582.6 L952,582.37 L952.57,582.16 L953.14,581.95 L953.7,581.74 L954.27,581.54 L954.84,581.34 L955.4,581.15 L955.97,580.96 L956.54,580.78 L957.1,580.6 L957.67,580.43 L958.24,580.26 L958.8,580.1 L959.37,579.94 L959.94,579.78 L960.5,579.63 L961.07,579.49 L961.64,579.35 L962.2,579.21 L962.77,579.08 L963.33,578.96 L963.9,578.83 L964.47,578.72 L965.03,578.6 L965.6,578.49 L966.17,578.38 L966.73,578.27 L967.3,578.17 L967.87,578.06 L968.43,577.96 L969,577.86 L969.57,577.75 L970.13,577.66 L970.7,577.56 L971.27,577.46 L971.83,577.37 L972.4,577.28 L972.97,577.18 L973.53,577.09 L974.1,577.01 L974.67,576.92 L975.23,576.83 L975.8,576.75 L976.36,576.67 L976.93,576.59 L977.5,576.5 L978.06,576.43 L978.63,576.35 L979.2,576.27 L979.76,576.2 L980.33,576.12 L980.9,576.05 L981.46,575.98 L982.03,575.91 L982.6,575.84 L983.16,575.77 L983.73,575.7 L984.3,575.64 L984.86,575.57 L985.43,575.51 L986,575.44 L986.56,575.38 L987.13,575.32 L987.7,575.26 L988.26,575.2 L988.83,575.14 L989.39,575.08 L989.96,575.03 L990.53,574.97 L991.09,574.91 L991.66,574.86 L992.23,574.81 L992.79,574.75 L993.36,574.7 L993.93,574.65 L994.49,574.6 L995.06,574.55 L995.63,574.5 L996.19,574.45 L996.76,574.4 L997.33,574.35 L997.89,574.3 L998.46,574.26 L999.03,574.21 L999.59,574.16 L1000.16,574.12 L1000.73,574.07 L1001.29,574.03 L1001.86,573.98 L1002.42,573.94 L1002.99,573.9 L1003.56,573.86 L1004.12,573.81 L1004.69,573.77 L1005.26,573.73 L1005.82,573.69 L1006.39,573.65 L1006.96,573.61 L1007.52,573.57 L1008.09,573.53 L1008.66,573.5 L1009.22,573.46 L1009.79,573.42 L1010.36,573.39 L1010.92,573.35 L1011.49,573.31 L1012.06,573.28 L1012.62,573.24 L1013.19,573.21 L1013.76,573.17 L1014.32,573.14 L1014.89,573.11 L1015.45,573.07 L1016.02,573.04 L1016.59,573.01 L1017.15,572.98 L1017.72,572.95 L1018.29,572.91 L1018.85,572.88 L1019.42,572.85 L1019.99,572.82 L1020.55,572.79 L1021.12,572.76 L1021.69,572.74 L1022.25,572.71 L1022.82,572.68 L1023.39,572.65 L1023.95,572.62 L1024.52,572.6 L1025.09,572.57 L1025.65,572.54 L1026.22,572.52 L1026.79,572.49 L1027.35,572.46 L1027.92,572.44 L1028.48,572.41 L1029.05,572.38 L1029.62,572.36 L1030.18,572.33 L1030.75,572.31 L1031.32,572.28 L1031.88,572.25 L1032.45,572.23 L1033.02,572.2 L1033.58,572.18 L1034.15,572.15 L1034.72,572.13 L1035.28,572.1 L1035.85,572.08 L1036.42,572.05 L1036.98,572.03 L1037.55,572 L1038.12,571.98 L1038.68,571.95 L1039.25,571.93 L1039.82,571.9 L1040.38,571.88 L1040.95,571.86 L1041.52,571.83 L1042.08,571.81 L1042.65,571.79 L1043.21,571.76 L1043.78,571.74 L1044.35,571.72 L1044.91,571.7 L1045.48,571.68 L1046.05,571.65 L1046.61,571.63 L1047.18,571.61 L1047.75,571.59 L1048.31,571.57 L1048.88,571.55 L1049.45,571.53 L1050.01,571.51 L1050.58,571.49 L1051.15,571.47 L1051.71,571.45 L1052.28,571.43 L1052.85,571.41 L1053.41,571.4 L1053.98,571.38 L1054.55,571.36 L1055.11,571.34 L1055.68,571.33 L1056.24,571.31 L1056.81,571.29 L1057.38,571.28 L1057.94,571.26 L1058.51,571.25 L1059.08,571.23 L1059.64,571.22 L1060.21,571.2 L1060.78,571.19 L1061.34,571.18 L1061.91,571.16 L1062.48,571.15 L1063.04,571.14 L1063.61,571.13 L1064.18,571.12 L1064.74,571.1 L1065.31,571.09 L1065.88,571.08 L1066.44,571.07 L1067.01,571.07 L1067.58,571.06 L1068.14,571.05 L1068.71,571.04 L1069.27,571.03 L1069.84,571.02 L1070.41,571.01 L1070.97,571 L1071.54,571 L1072.11,570.99 L1072.67,570.98 L1073.24,570.97 L1073.81,570.96 L1074.37,570.95 L1074.94,570.94 L1075.51,570.94 L1076.07,570.93 L1076.64,570.92 L1077.21,570.91 L1077.77,570.9 L1078.34,570.9 L1078.91,570.89 L1079.47,570.88 L1080.04,570.87 L1080.61,570.87 L1081.17,570.86 L1081.74,570.85 L1082.3,570.84 L1082.87,570.84 L1083.44,570.83 L1084,570.82 L1084.57,570.82 L1085.14,570.81 L1085.7,570.8 L1086.27,570.8 L1086.84,570.79 L1087.4,570.79 L1087.97,570.78 L1088.54,570.77 L1089.1,570.77 L1089.67,570.76 L1090.24,570.76 L1090.8,570.75 L1091.37,570.75 L1091.94,570.74 L1092.5,570.74 L1093.07,570.74 L1093.64,570.73 L1094.2,570.73 L1094.77,570.73 L1095.33,570.72 L1095.9,570.72 L1096.47,570.72 L1097.03,570.71 L1097.6,570.71 L1098.17,570.71 L1098.73,570.71 L1099.3,570.7 L1099.87,570.7 L1100.43,570.7 L1101,570.7" fill="none" stroke="#c55d33" stroke-width="4.4" stroke-linecap="round" stroke-linejoin="round"/>
<path d="M702.3,932.9 L702.87,932.9 L703.43,932.9 L704,932.89 L704.57,932.89 L705.13,932.89 L705.7,932.89 L706.27,932.89 L706.83,932.88 L707.4,932.88 L707.97,932.88 L708.53,932.87 L709.1,932.87 L709.66,932.87 L710.23,932.86 L710.8,932.86 L711.36,932.85 L711.93,932.85 L712.5,932.84 L713.06,932.84 L713.63,932.83 L714.2,932.83 L714.76,932.82 L715.33,932.82 L715.9,932.81 L716.46,932.81 L717.03,932.8 L717.6,932.79 L718.16,932.79 L718.73,932.78 L719.3,932.77 L719.86,932.77 L720.43,932.76 L721,932.75 L721.56,932.75 L722.13,932.74 L722.69,932.73 L723.26,932.73 L723.83,932.72 L724.39,932.71 L724.96,932.7 L725.53,932.69 L726.09,932.69 L726.66,932.68 L727.23,932.67 L727.79,932.66 L728.36,932.65 L728.93,932.65 L729.49,932.64 L730.06,932.63 L730.63,932.62 L731.19,932.61 L731.76,932.6 L732.33,932.6 L732.89,932.59 L733.46,932.58 L734.03,932.57 L734.59,932.56 L735.16,932.55 L735.72,932.54 L736.29,932.54 L736.86,932.53 L737.42,932.52 L737.99,932.51 L738.56,932.5 L739.12,932.49 L739.69,932.47 L740.26,932.46 L740.82,932.45 L741.39,932.44 L741.96,932.42 L742.52,932.41 L743.09,932.4 L743.66,932.38 L744.22,932.37 L744.79,932.35 L745.36,932.34 L745.92,932.32 L746.49,932.31 L747.06,932.29 L747.62,932.28 L748.19,932.26 L748.75,932.24 L749.32,932.22 L749.89,932.21 L750.45,932.19 L751.02,932.17 L751.59,932.15 L752.15,932.13 L752.72,932.11 L753.29,932.09 L753.85,932.07 L754.42,932.05 L754.99,932.03 L755.55,932.01 L756.12,931.99 L756.69,931.97 L757.25,931.95 L757.82,931.93 L758.39,931.91 L758.95,931.89 L759.52,931.86 L760.09,931.84 L760.65,931.82 L761.22,931.8 L761.78,931.77 L762.35,931.75 L762.92,931.73 L763.48,931.7 L764.05,931.68 L764.62,931.66 L765.18,931.63 L765.75,931.61 L766.32,931.58 L766.88,931.56 L767.45,931.54 L768.02,931.51 L768.58,931.49 L769.15,931.46 L769.72,931.44 L770.28,931.41 L770.85,931.39 L771.42,931.36 L771.98,931.34 L772.55,931.31 L773.12,931.28 L773.68,931.26 L774.25,931.23 L774.82,931.21 L775.38,931.18 L775.95,931.16 L776.51,931.13 L777.08,931.1 L777.65,931.08 L778.21,931.05 L778.78,931.03 L779.35,931 L779.91,930.97 L780.48,930.94 L781.05,930.92 L781.61,930.89 L782.18,930.86 L782.75,930.83 L783.31,930.8 L783.88,930.77 L784.45,930.74 L785.01,930.71 L785.58,930.68 L786.15,930.65 L786.71,930.62 L787.28,930.58 L787.85,930.55 L788.41,930.52 L788.98,930.49 L789.54,930.45 L790.11,930.42 L790.68,930.39 L791.24,930.35 L791.81,930.32 L792.38,930.28 L792.94,930.25 L793.51,930.21 L794.08,930.17 L794.64,930.13 L795.21,930.1 L795.78,930.06 L796.34,930.02 L796.91,929.98 L797.48,929.94 L798.04,929.9 L798.61,929.86 L799.18,929.82 L799.74,929.78 L800.31,929.74 L800.88,929.7 L801.44,929.65 L802.01,929.61 L802.57,929.57 L803.14,929.52 L803.71,929.48 L804.27,929.43 L804.84,929.39 L805.41,929.34 L805.97,929.29 L806.54,929.24 L807.11,929.2 L807.67,929.15 L808.24,929.1 L808.81,929.05 L809.37,929 L809.94,928.95 L810.51,928.9 L811.07,928.84 L811.64,928.79 L812.21,928.74 L812.77,928.68 L813.34,928.62 L813.91,928.57 L814.47,928.51 L815.04,928.45 L815.6,928.39 L816.17,928.33 L816.74,928.27 L817.3,928.21 L817.87,928.15 L818.44,928.09 L819,928.02 L819.57,927.96 L820.14,927.89 L820.7,927.82 L821.27,927.75 L821.84,927.68 L822.4,927.61 L822.97,927.54 L823.54,927.47 L824.1,927.39 L824.67,927.32 L825.24,927.24 L825.8,927.16 L826.37,927.08 L826.94,927 L827.5,926.92 L828.07,926.83 L828.63,926.75 L829.2,926.66 L829.77,926.58 L830.33,926.49 L830.9,926.4 L831.47,926.3 L832.03,926.21 L832.6,926.12 L833.17,926.02 L833.73,925.92 L834.3,925.82 L834.87,925.72 L835.43,925.62 L836,925.52 L836.57,925.41 L837.13,925.3 L837.7,925.19 L838.27,925.08 L838.83,924.97 L839.4,924.85 L839.97,924.73 L840.53,924.6 L841.1,924.47 L841.66,924.34 L842.23,924.2 L842.8,924.05 L843.36,923.9 L843.93,923.75 L844.5,923.59 L845.06,923.42 L845.63,923.25 L846.2,923.08 L846.76,922.9 L847.33,922.72 L847.9,922.53 L848.46,922.34 L849.03,922.15 L849.6,921.95 L850.16,921.74 L850.73,921.53 L851.3,921.32 L851.86,921.1 L852.43,920.87 L853,920.64 L853.56,920.41 L854.13,920.17 L854.69,919.93 L855.26,919.69 L855.83,919.44 L856.39,919.18 L856.96,918.92 L857.53,918.65 L858.09,918.39 L858.66,918.11 L859.23,917.83 L859.79,917.55 L860.36,917.25 L860.93,916.93 L861.49,916.6 L862.06,916.26 L862.63,915.91 L863.19,915.54 L863.76,915.16 L864.33,914.76 L864.89,914.35 L865.46,913.93 L866.03,913.5 L866.59,913.05 L867.16,912.59 L867.72,912.12 L868.29,911.63 L868.86,911.13 L869.42,910.62 L869.99,910.09 L870.56,909.56 L871.12,909.01 L871.69,908.44 L872.26,907.87 L872.82,907.28 L873.39,906.68 L873.96,906.05 L874.52,905.4 L875.09,904.71 L875.66,903.99 L876.22,903.23 L876.79,902.44 L877.36,901.62 L877.92,900.76 L878.49,899.87 L879.06,898.96 L879.62,898.01 L880.19,897.02 L880.75,896.01 L881.32,894.97 L881.89,893.9 L882.45,892.8 L883.02,891.67 L883.59,890.51 L884.15,889.32 L884.72,888.1 L885.29,886.82 L885.85,885.49 L886.42,884.09 L886.99,882.62 L887.55,881.07 L888.12,879.44 L888.69,877.7 L889.25,875.87 L889.82,873.92 L890.39,871.85 L890.95,869.65 L891.52,867.3 L892.09,864.71 L892.65,861.83 L893.22,858.61 L893.78,854.98 L894.35,850.91 L894.92,846.32 L895.48,840.8 L896.05,833.39 L896.62,824.54 L897.18,814.76 L897.75,804.58 L898.33,793.62 L898.95,781.28 L899.79,768.32 L901.2,755.52 L902.77,742.89 L903.74,729.9 L904.4,717.29 L904.98,705.85 L905.55,695.61 L906.12,685.66 L906.68,676.48 L907.25,668.59 L907.82,662.53 L908.38,657.78 L908.95,653.56 L909.52,649.82 L910.08,646.48 L910.65,643.51 L911.21,640.84 L911.78,638.42 L912.35,636.18 L912.91,634.08 L913.48,632.09 L914.05,630.23 L914.61,628.46 L915.18,626.8 L915.75,625.23 L916.31,623.73 L916.88,622.32 L917.45,620.97 L918.01,619.67 L918.58,618.43 L919.15,617.23 L919.71,616.07 L920.28,614.93 L920.85,613.82 L921.41,612.74 L921.98,611.69 L922.55,610.67 L923.11,609.68 L923.68,608.72 L924.24,607.79 L924.81,606.9 L925.38,606.03 L925.94,605.2 L926.51,604.4 L927.08,603.63 L927.64,602.9 L928.21,602.2 L928.78,601.53 L929.34,600.9 L929.91,600.3 L930.48,599.71 L931.04,599.13 L931.61,598.56 L932.18,598 L932.74,597.46 L933.31,596.93 L933.88,596.42 L934.44,595.91 L935.01,595.42 L935.58,594.95 L936.14,594.48 L936.71,594.03 L937.27,593.59 L937.84,593.17 L938.41,592.76 L938.97,592.36 L939.54,591.97 L940.11,591.6 L940.67,591.24 L941.24,590.9 L941.81,590.56 L942.37,590.25 L942.94,589.94 L943.51,589.65 L944.07,589.37 L944.64,589.09 L945.21,588.82 L945.77,588.56 L946.34,588.3 L946.91,588.04 L947.47,587.79 L948.04,587.54 L948.61,587.3 L949.17,587.06 L949.74,586.82 L950.3,586.59 L950.87,586.37 L951.44,586.15 L952,585.93 L952.57,585.72 L953.14,585.51 L953.7,585.31 L954.27,585.11 L954.84,584.92 L955.4,584.73 L955.97,584.55 L956.54,584.37 L957.1,584.2 L957.67,584.03 L958.24,583.86 L958.8,583.7 L959.37,583.54 L959.94,583.39 L960.5,583.25 L961.07,583.1 L961.64,582.97 L962.2,582.83 L962.77,582.71 L963.33,582.58 L963.9,582.47 L964.47,582.35 L965.03,582.24 L965.6,582.13 L966.17,582.02 L966.73,581.92 L967.3,581.81 L967.87,581.71 L968.43,581.61 L969,581.51 L969.57,581.41 L970.13,581.31 L970.7,581.22 L971.27,581.12 L971.83,581.03 L972.4,580.94 L972.97,580.85 L973.53,580.76 L974.1,580.68 L974.67,580.59 L975.23,580.51 L975.8,580.42 L976.36,580.34 L976.93,580.26 L977.5,580.18 L978.06,580.11 L978.63,580.03 L979.2,579.96 L979.76,579.88 L980.33,579.81 L980.9,579.74 L981.46,579.67 L982.03,579.6 L982.6,579.53 L983.16,579.46 L983.73,579.4 L984.3,579.33 L984.86,579.27 L985.43,579.21 L986,579.14 L986.56,579.08 L987.13,579.02 L987.7,578.96 L988.26,578.91 L988.83,578.85 L989.39,578.79 L989.96,578.74 L990.53,578.68 L991.09,578.63 L991.66,578.57 L992.23,578.52 L992.79,578.47 L993.36,578.42 L993.93,578.37 L994.49,578.32 L995.06,578.27 L995.63,578.22 L996.19,578.17 L996.76,578.12 L997.33,578.07 L997.89,578.03 L998.46,577.98 L999.03,577.94 L999.59,577.89 L1000.16,577.85 L1000.73,577.8 L1001.29,577.76 L1001.86,577.72 L1002.42,577.67 L1002.99,577.63 L1003.56,577.59 L1004.12,577.55 L1004.69,577.51 L1005.26,577.47 L1005.82,577.43 L1006.39,577.39 L1006.96,577.35 L1007.52,577.31 L1008.09,577.28 L1008.66,577.24 L1009.22,577.2 L1009.79,577.17 L1010.36,577.13 L1010.92,577.09 L1011.49,577.06 L1012.06,577.02 L1012.62,576.99 L1013.19,576.96 L1013.76,576.92 L1014.32,576.89 L1014.89,576.86 L1015.45,576.82 L1016.02,576.79 L1016.59,576.76 L1017.15,576.73 L1017.72,576.7 L1018.29,576.67 L1018.85,576.64 L1019.42,576.61 L1019.99,576.58 L1020.55,576.55 L1021.12,576.52 L1021.69,576.49 L1022.25,576.47 L1022.82,576.44 L1023.39,576.41 L1023.95,576.38 L1024.52,576.36 L1025.09,576.33 L1025.65,576.3 L1026.22,576.28 L1026.79,576.25 L1027.35,576.23 L1027.92,576.2 L1028.48,576.17 L1029.05,576.15 L1029.62,576.12 L1030.18,576.1 L1030.75,576.07 L1031.32,576.05 L1031.88,576.02 L1032.45,576 L1033.02,575.97 L1033.58,575.95 L1034.15,575.92 L1034.72,575.9 L1035.28,575.87 L1035.85,575.85 L1036.42,575.82 L1036.98,575.8 L1037.55,575.77 L1038.12,575.75 L1038.68,575.73 L1039.25,575.7 L1039.82,575.68 L1040.38,575.66 L1040.95,575.63 L1041.52,575.61 L1042.08,575.59 L1042.65,575.56 L1043.21,575.54 L1043.78,575.52 L1044.35,575.5 L1044.91,575.48 L1045.48,575.46 L1046.05,575.43 L1046.61,575.41 L1047.18,575.39 L1047.75,575.37 L1048.31,575.35 L1048.88,575.33 L1049.45,575.31 L1050.01,575.29 L1050.58,575.27 L1051.15,575.25 L1051.71,575.23 L1052.28,575.22 L1052.85,575.2 L1053.41,575.18 L1053.98,575.16 L1054.55,575.15 L1055.11,575.13 L1055.68,575.11 L1056.24,575.1 L1056.81,575.08 L1057.38,575.07 L1057.94,575.05 L1058.51,575.04 L1059.08,575.02 L1059.64,575.01 L1060.21,574.99 L1060.78,574.98 L1061.34,574.97 L1061.91,574.95 L1062.48,574.94 L1063.04,574.93 L1063.61,574.92 L1064.18,574.91 L1064.74,574.9 L1065.31,574.89 L1065.88,574.88 L1066.44,574.87 L1067.01,574.86 L1067.58,574.85 L1068.14,574.84 L1068.71,574.83 L1069.27,574.82 L1069.84,574.81 L1070.41,574.81 L1070.97,574.8 L1071.54,574.79 L1072.11,574.78 L1072.67,574.77 L1073.24,574.76 L1073.81,574.76 L1074.37,574.75 L1074.94,574.74 L1075.51,574.73 L1076.07,574.72 L1076.64,574.72 L1077.21,574.71 L1077.77,574.7 L1078.34,574.69 L1078.91,574.68 L1079.47,574.68 L1080.04,574.67 L1080.61,574.66 L1081.17,574.65 L1081.74,574.65 L1082.3,574.64 L1082.87,574.63 L1083.44,574.63 L1084,574.62 L1084.57,574.61 L1085.14,574.61 L1085.7,574.6 L1086.27,574.6 L1086.84,574.59 L1087.4,574.58 L1087.97,574.58 L1088.54,574.57 L1089.1,574.57 L1089.67,574.56 L1090.24,574.56 L1090.8,574.55 L1091.37,574.55 L1091.94,574.54 L1092.5,574.54 L1093.07,574.54 L1093.64,574.53 L1094.2,574.53 L1094.77,574.52 L1095.33,574.52 L1095.9,574.52 L1096.47,574.52 L1097.03,574.51 L1097.6,574.51 L1098.17,574.51 L1098.73,574.51 L1099.3,574.5 L1099.87,574.5 L1100.43,574.5 L1101,574.5" fill="none" stroke="#6143a0" stroke-width="4.4" stroke-linecap="round" stroke-linejoin="round"/>
<line x1="1247.6" y1="989.8" x2="1247.6" y2="982.8" stroke="#000" stroke-width="2" stroke-linecap="butt"/>
<line x1="1247.6" y1="16.7" x2="1247.6" y2="20.5" stroke="#000" stroke-width="2" stroke-linecap="butt"/>
<line x1="1269.29" y1="989.8" x2="1269.29" y2="982.8" stroke="#000" stroke-width="2" stroke-linecap="butt"/>
<line x1="1269.29" y1="16.7" x2="1269.29" y2="20.5" stroke="#000" stroke-width="2" stroke-linecap="butt"/>
<line x1="1290.98" y1="989.8" x2="1290.98" y2="982.8" stroke="#000" stroke-width="2" stroke-linecap="butt"/>
<line x1="1290.98" y1="16.7" x2="1290.98" y2="20.5" stroke="#000" stroke-width="2" stroke-linecap="butt"/>
<line x1="1312.67" y1="989.8" x2="1312.67" y2="982.8" stroke="#000" stroke-width="2" stroke-linecap="butt"/>
<line x1="1312.67" y1="16.7" x2="1312.67" y2="20.5" stroke="#000" stroke-width="2" stroke-linecap="butt"/>
<line x1="1334.36" y1="989.8" x2="1334.36" y2="982.8" stroke="#000" stroke-width="2" stroke-linecap="butt"/>
<line x1="1334.36" y1="16.7" x2="1334.36" y2="20.5" stroke="#000" stroke-width="2" stroke-linecap="butt"/>
<line x1="1356.05" y1="989.8" x2="1356.05" y2="982.8" stroke="#000" stroke-width="2" stroke-linecap="butt"/>
<line x1="1356.05" y1="16.7" x2="1356.05" y2="20.5" stroke="#000" stroke-width="2" stroke-linecap="butt"/>
<line x1="1377.74" y1="989.8" x2="1377.74" y2="982.8" stroke="#000" stroke-width="2" stroke-linecap="butt"/>
<line x1="1377.74" y1="16.7" x2="1377.74" y2="20.5" stroke="#000" stroke-width="2" stroke-linecap="butt"/>
<line x1="1399.43" y1="989.8" x2="1399.43" y2="982.8" stroke="#000" stroke-width="2" stroke-linecap="butt"/>
<line x1="1399.43" y1="16.7" x2="1399.43" y2="20.5" stroke="#000" stroke-width="2" stroke-linecap="butt"/>
<line x1="1421.12" y1="989.8" x2="1421.12" y2="982.8" stroke="#000" stroke-width="2" stroke-linecap="butt"/>
<line x1="1421.12" y1="16.7" x2="1421.12" y2="20.5" stroke="#000" stroke-width="2" stroke-linecap="butt"/>
<line x1="1442.81" y1="989.8" x2="1442.81" y2="982.8" stroke="#000" stroke-width="2" stroke-linecap="butt"/>
<line x1="1442.81" y1="16.7" x2="1442.81" y2="20.5" stroke="#000" stroke-width="2" stroke-linecap="butt"/>
<line x1="1464.5" y1="989.8" x2="1464.5" y2="982.8" stroke="#000" stroke-width="2" stroke-linecap="butt"/>
<line x1="1464.5" y1="16.7" x2="1464.5" y2="20.5" stroke="#000" stroke-width="2" stroke-linecap="butt"/>
<line x1="1486.19" y1="989.8" x2="1486.19" y2="982.8" stroke="#000" stroke-width="2" stroke-linecap="butt"/>
<line x1="1486.19" y1="16.7" x2="1486.19" y2="20.5" stroke="#000" stroke-width="2" stroke-linecap="butt"/>
<line x1="1507.88" y1="989.8" x2="1507.88" y2="982.8" stroke="#000" stroke-width="2" stroke-linecap="butt"/>
<line x1="1507.88" y1="16.7" x2="1507.88" y2="20.5" stroke="#000" stroke-width="2" stroke-linecap="butt"/>
<line x1="1529.57" y1="989.8" x2="1529.57" y2="982.8" stroke="#000" stroke-width="2" stroke-linecap="butt"/>
<line x1="1529.57" y1="16.7" x2="1529.57" y2="20.5" stroke="#000" stroke-width="2" stroke-linecap="butt"/>
<line x1="1551.26" y1="989.8" x2="1551.26" y2="982.8" stroke="#000" stroke-width="2" stroke-linecap="butt"/>
<line x1="1551.26" y1="16.7" x2="1551.26" y2="20.5" stroke="#000" stroke-width="2" stroke-linecap="butt"/>
<line x1="1572.95" y1="989.8" x2="1572.95" y2="982.8" stroke="#000" stroke-width="2" stroke-linecap="butt"/>
<line x1="1572.95" y1="16.7" x2="1572.95" y2="20.5" stroke="#000" stroke-width="2" stroke-linecap="butt"/>
<line x1="1594.64" y1="989.8" x2="1594.64" y2="982.8" stroke="#000" stroke-width="2" stroke-linecap="butt"/>
<line x1="1594.64" y1="16.7" x2="1594.64" y2="20.5" stroke="#000" stroke-width="2" stroke-linecap="butt"/>
<line x1="1616.33" y1="989.8" x2="1616.33" y2="982.8" stroke="#000" stroke-width="2" stroke-linecap="butt"/>
<line x1="1616.33" y1="16.7" x2="1616.33" y2="20.5" stroke="#000" stroke-width="2" stroke-linecap="butt"/>
<line x1="1638.02" y1="989.8" x2="1638.02" y2="982.8" stroke="#000" stroke-width="2" stroke-linecap="butt"/>
<line x1="1638.02" y1="16.7" x2="1638.02" y2="20.5" stroke="#000" stroke-width="2" stroke-linecap="butt"/>
<line x1="1659.71" y1="989.8" x2="1659.71" y2="982.8" stroke="#000" stroke-width="2" stroke-linecap="butt"/>
<line x1="1659.71" y1="16.7" x2="1659.71" y2="20.5" stroke="#000" stroke-width="2" stroke-linecap="butt"/>
<line x1="1681.4" y1="989.8" x2="1681.4" y2="982.8" stroke="#000" stroke-width="2" stroke-linecap="butt"/>
<line x1="1681.4" y1="16.7" x2="1681.4" y2="20.5" stroke="#000" stroke-width="2" stroke-linecap="butt"/>
<line x1="1703.09" y1="989.8" x2="1703.09" y2="982.8" stroke="#000" stroke-width="2" stroke-linecap="butt"/>
<line x1="1703.09" y1="16.7" x2="1703.09" y2="20.5" stroke="#000" stroke-width="2" stroke-linecap="butt"/>
<line x1="1724.78" y1="989.8" x2="1724.78" y2="982.8" stroke="#000" stroke-width="2" stroke-linecap="butt"/>
<line x1="1724.78" y1="16.7" x2="1724.78" y2="20.5" stroke="#000" stroke-width="2" stroke-linecap="butt"/>
<path d="M1228.1,858.7 C1231.17,859.6 1234.14,861.33 1237.3,861.4 C1240.63,861.48 1244.24,859.14 1247.6,858.9 C1250.73,858.68 1253.83,860.47 1256.8,859.8 C1260.02,859.07 1262.71,855.91 1266.1,854.2 C1269.85,852.31 1274.55,851.04 1278.4,849.1 C1282.06,847.25 1285.26,845.26 1288.7,842.9 C1292.46,840.32 1296.12,835.98 1300,834.1 C1303.32,832.49 1307.06,833.24 1310.2,831.6 C1313.61,829.82 1316.54,826.18 1319.5,823.4 C1322.36,820.71 1324.75,817.11 1327.7,815.2 C1330.27,813.54 1333.27,813.55 1335.9,812.1 C1338.75,810.53 1341.76,808.49 1344.1,805.9 C1346.62,803.11 1347.73,798.32 1350.3,795.7 C1352.62,793.33 1355.49,791.05 1358.5,790.5 C1361.63,789.92 1365.77,790.97 1368.8,792.6 C1371.98,794.31 1374.7,797.49 1377,800.8 C1379.59,804.53 1380.98,809.96 1383.1,814.2 C1385.09,818.17 1386.91,821.93 1389.3,825.5 C1391.71,829.1 1394.38,832.78 1397.5,835.7 C1400.56,838.56 1404.05,841.12 1407.8,842.9 C1411.58,844.7 1416,845.2 1420.1,846.4 C1424.2,847.6 1428.77,850.41 1432.4,850.1 C1435.47,849.84 1438.18,848.09 1440.6,846 C1443.43,843.56 1445.3,837.79 1447.8,835.7 C1449.49,834.29 1451.34,832.91 1453,833.3 C1455.16,833.81 1456.92,838.18 1459.1,840.9 C1461.63,844.05 1464.09,848.5 1467.3,851.1 C1470.31,853.54 1474.39,855.07 1477.6,856.3 C1480.22,857.3 1482.42,858.22 1485,858.3 C1487.77,858.38 1490.37,857.1 1493.7,856.5 C1498.16,855.7 1504.8,853.9 1509.4,854.1 C1513.07,854.26 1515.69,855.45 1519.2,856.5 C1523.42,857.77 1528.3,861.24 1532.9,861.4 C1537.47,861.56 1542.07,859.43 1546.7,857.5 C1551.89,855.33 1557.35,851.47 1562.4,848.6 C1567.12,845.92 1571.38,842.43 1576.1,840.8 C1580.53,839.28 1584.81,839.11 1589.8,838.8 C1595.74,838.43 1603.26,838.52 1609.4,839.2 C1614.95,839.82 1619.85,841.48 1625.1,842.4 C1630.32,843.31 1635.27,844.07 1640.8,844.7 C1646.96,845.4 1654.3,845.04 1660.4,846.3 C1666,847.46 1671.1,849.59 1676.1,851.6 C1680.88,853.52 1684.97,856.53 1689.8,858 C1694.75,859.5 1700.1,860.05 1705.5,860.4 C1711.18,860.77 1717.08,859.76 1723.1,860 C1729.47,860.25 1736.17,861.33 1742.7,862" fill="none" stroke="#7a3595" stroke-width="3.8" stroke-linecap="round" stroke-linejoin="round" stroke-dasharray="3 7.3"/>
<path d="M1228.1,881.9 C1231.17,882.6 1234.13,883.87 1237.3,884 C1240.62,884.13 1244.16,882.95 1247.6,882.5 C1251.03,882.05 1254.53,882.16 1257.9,881.3 C1261.37,880.42 1264.64,878.22 1268.1,877.2 C1271.48,876.2 1275.25,876.36 1278.4,875.2 C1281.38,874.11 1283.92,872.34 1286.6,870.6 C1289.39,868.79 1291.76,866.03 1294.8,864.5 C1297.91,862.93 1301.95,862.82 1305.1,861.4 C1308.09,860.05 1310.68,858.39 1313.3,856.3 C1316.18,854 1318.62,850.3 1321.5,848 C1324.12,845.91 1326.92,844.45 1329.7,842.9 C1332.42,841.39 1335.39,840.67 1338,838.8 C1340.93,836.7 1343.6,833.38 1346.2,830.6 C1348.72,827.91 1350.78,824.39 1353.4,822.4 C1355.64,820.69 1358.09,819.04 1360.6,818.9 C1363.22,818.75 1366.25,820.13 1368.8,821.8 C1371.79,823.76 1374.67,827.23 1377,830.6 C1379.49,834.2 1380.8,838.77 1383.1,842.9 C1385.56,847.33 1388.34,852.72 1391.4,856.3 C1393.93,859.27 1396.58,861.37 1399.6,863.4 C1402.7,865.49 1406.3,867.4 1409.8,868.6 C1413.15,869.75 1416.73,869.53 1420.1,870.6 C1423.6,871.7 1427.11,874.08 1430.4,875.2 C1433.24,876.17 1435.9,877.42 1438.6,877.2 C1441.37,876.97 1444.04,874.74 1446.8,873.7 C1449.51,872.68 1452.17,870.72 1455,871 C1458.31,871.32 1461.8,875.2 1465.3,876.8 C1468.67,878.34 1472.2,879.7 1475.6,880.5 C1478.76,881.24 1481.94,881.77 1485,881.6 C1487.97,881.44 1490.47,880.33 1493.7,879.6 C1497.77,878.67 1503.09,876.52 1507.5,876.5 C1511.56,876.48 1515.19,877.86 1519.2,879 C1523.63,880.26 1528.3,883.74 1532.9,883.9 C1537.47,884.06 1542.1,882.04 1546.7,880 C1551.93,877.69 1557.28,873.08 1562.4,870.2 C1567.06,867.58 1571.41,864.76 1576.1,863.3 C1580.55,861.91 1584.61,861.61 1589.8,861.4 C1596.57,861.12 1605.87,861.63 1613.3,862.7 C1620.18,863.69 1626.49,866.47 1632.9,867.3 C1638.91,868.08 1644.73,867.25 1650.6,867.8 C1656.49,868.35 1662.45,868.82 1668.2,870.6 C1674.23,872.47 1680.07,876.92 1685.9,879 C1691.19,880.89 1695.07,882.02 1701.6,882.9 C1712.01,884.3 1729,883.57 1742.7,883.9" fill="none" stroke="#c55d33" stroke-width="3.8" stroke-linecap="round" stroke-linejoin="round" stroke-dasharray="3 7.3"/>
<path d="M1228.1,903.9 C1231.17,904.23 1234.15,904.88 1237.3,904.9 C1240.64,904.92 1244.08,904.13 1247.6,903.9 C1251.28,903.66 1255.4,904.31 1258.9,903.5 C1262.2,902.74 1264.89,900.43 1268.1,899.4 C1271.38,898.35 1275.24,898.46 1278.4,897.3 C1281.38,896.21 1283.91,894.47 1286.6,892.8 C1289.38,891.08 1291.75,888.76 1294.8,887.1 C1298.18,885.27 1302.83,884.21 1306.1,882.5 C1308.85,881.06 1310.95,879.82 1313.3,877.8 C1316.11,875.38 1318.58,871.08 1321.5,868.6 C1324.09,866.4 1326.73,864.91 1329.7,863.4 C1332.87,861.78 1337.22,861.42 1340,859.3 C1342.67,857.26 1344.15,853.84 1346.2,851.1 C1348.25,848.37 1349.93,844.99 1352.3,842.9 C1354.43,841.01 1356.88,839.11 1359.5,838.8 C1362.34,838.46 1365.97,839.9 1368.8,841.5 C1371.84,843.22 1374.69,846.01 1377,849.1 C1379.56,852.52 1381.08,857.21 1383.1,861.4 C1385.18,865.73 1386.71,870.97 1389.3,874.7 C1391.61,878.03 1394.71,880.39 1397.5,883 C1400.19,885.51 1402.61,888.4 1405.7,890.1 C1408.78,891.79 1412.65,892.31 1416,893.2 C1419.14,894.03 1422.23,894.04 1425.2,895.3 C1428.42,896.67 1431.41,899.83 1434.5,901.4 C1437.24,902.8 1439.77,904.17 1442.7,904.5 C1445.9,904.86 1449.28,903.3 1453,903.1 C1457.37,902.87 1462.67,903.36 1467.3,903.5 C1471.66,903.63 1475.86,904.17 1480,903.9 C1484.02,903.64 1487.49,902.81 1491.8,902 C1497.09,901 1504.39,898.13 1509.4,898.2 C1513.15,898.25 1515.69,899.55 1519.2,900.6 C1523.42,901.87 1528.32,905.49 1532.9,905.5 C1537.49,905.51 1542.07,902.83 1546.7,900.6 C1551.9,898.09 1557.3,893.75 1562.4,890.8 C1567.07,888.1 1571.4,885.06 1576.1,883.5 C1580.54,882.02 1584.81,881.64 1589.8,881.4 C1595.74,881.11 1602.9,881.59 1609.4,882.5 C1615.97,883.42 1622.43,885.92 1629,886.9 C1635.5,887.87 1642.08,887.65 1648.6,888.4 C1655.15,889.15 1661.99,889.37 1668.2,891.4 C1674.43,893.43 1680.05,898.39 1685.9,900.6 C1691.17,902.59 1696.18,903.9 1701.6,904.5 C1707.26,905.13 1712.92,903.85 1719.2,904.1 C1726.48,904.39 1734.87,905.7 1742.7,906.5" fill="none" stroke="#5e9646" stroke-width="3.8" stroke-linecap="round" stroke-linejoin="round" stroke-dasharray="3 7.3"/>
<path d="M1228.1,923.6 C1231.17,924.97 1234.09,927.36 1237.3,927.7 C1240.58,928.04 1244.16,925.6 1247.6,925.5 C1251.02,925.4 1254.57,927.67 1257.9,927.1 C1261.41,926.5 1264.64,923.21 1268.1,921.6 C1271.48,920.02 1275.15,918.68 1278.4,917.5 C1281.27,916.46 1284,916.24 1286.6,914.8 C1289.49,913.2 1291.82,909.73 1294.8,908 C1297.67,906.33 1301.06,905.91 1304.1,904.5 C1307.23,903.05 1310.52,901.71 1313.3,899.4 C1316.38,896.85 1318.47,891.76 1321.5,889.5 C1324.03,887.61 1327.04,887.52 1329.7,886 C1332.56,884.37 1335.36,882.31 1338,879.9 C1340.89,877.25 1343.68,873.51 1346.2,870.6 C1348.4,868.06 1349.85,865.11 1352.3,863.4 C1354.67,861.75 1357.8,860.72 1360.6,860.4 C1363.31,860.09 1366.23,860.25 1368.8,861.4 C1371.75,862.72 1374.74,865.47 1377,868.6 C1379.71,872.35 1380.98,878.42 1383.1,883 C1385.09,887.3 1386.86,891.5 1389.3,895.3 C1391.68,899.02 1394.62,902.6 1397.5,905.6 C1400.11,908.32 1402.59,911.17 1405.7,912.7 C1408.76,914.21 1412.69,913.91 1416,914.8 C1419.18,915.66 1422.22,916.45 1425.2,917.9 C1428.39,919.45 1431.2,922.46 1434.5,924 C1437.74,925.51 1441.19,926.95 1444.8,927.1 C1448.7,927.26 1453.18,924.68 1457.1,924.5 C1460.65,924.34 1463.71,925.29 1467.3,925.7 C1471.3,926.16 1475.71,927.33 1480,927.1 C1484.5,926.86 1488.98,925.14 1493.7,924.1 C1498.76,922.98 1504.79,920.53 1509.4,920.6 C1513.06,920.66 1515.68,922.09 1519.2,923.1 C1523.4,924.31 1528.18,927.53 1532.9,927.5 C1537.96,927.46 1543.5,924.61 1548.6,922.2 C1553.99,919.65 1559.21,915.42 1564.3,912.4 C1568.99,909.62 1573.45,906.06 1578,904.7 C1581.95,903.52 1585.19,903.94 1589.8,903.9 C1596.3,903.85 1605.88,903.92 1613.3,905.1 C1620.19,906.19 1626.48,909.29 1632.9,910.4 C1638.9,911.44 1644.72,911.15 1650.6,911.8 C1656.49,912.45 1662.45,912.57 1668.2,914.3 C1674.23,916.11 1680.08,920.6 1685.9,922.7 C1691.2,924.61 1695.91,926.2 1701.6,926.7 C1708.16,927.28 1716.11,924.93 1723.1,925.1 C1729.79,925.26 1736.17,926.7 1742.7,927.5" fill="none" stroke="#968a7e" stroke-width="3.8" stroke-linecap="round" stroke-linejoin="round" stroke-dasharray="3 7.3"/>
<path d="M1228.1,947.7 C1231.17,948.57 1234.13,950.17 1237.3,950.3 C1240.62,950.44 1244.15,948.56 1247.6,948.3 C1251.02,948.04 1254.54,949.28 1257.9,948.7 C1261.37,948.1 1264.68,945.9 1268.1,944.6 C1271.51,943.3 1275.18,942.16 1278.4,940.9 C1281.31,939.76 1283.88,939 1286.6,937.4 C1289.72,935.57 1292.76,931.95 1295.9,930.2 C1298.61,928.69 1301.43,928.42 1304.1,927.1 C1306.9,925.72 1309.7,924.39 1312.3,922 C1315.58,918.99 1318.23,912.73 1321.5,909.7 C1324.1,907.29 1326.82,906.04 1329.7,904.5 C1332.65,902.93 1336.32,902.49 1339,900.4 C1341.88,898.16 1343.8,894.28 1346.2,891.2 C1348.6,888.11 1350.66,884.29 1353.4,881.9 C1355.86,879.76 1358.71,877.54 1361.6,877.2 C1364.51,876.86 1368.21,877.95 1370.8,879.9 C1373.86,882.2 1375.95,887.26 1378,891.2 C1380.05,895.13 1381.3,899.24 1383.1,903.5 C1385.05,908.12 1386.75,913.66 1389.3,917.9 C1391.63,921.77 1394.53,925.45 1397.5,928.1 C1400.06,930.39 1402.55,932.1 1405.7,933.3 C1409.29,934.66 1414.44,934.32 1418.1,935.3 C1421.16,936.12 1423.7,936.84 1426.3,938.4 C1429.2,940.14 1431.41,943.82 1434.5,945.6 C1437.58,947.38 1441.16,948.62 1444.8,949.1 C1448.67,949.61 1452.84,948.23 1457.1,948.3 C1461.71,948.37 1467.33,949.67 1471.5,949.7 C1474.7,949.72 1476.84,949.39 1480,949 C1484.03,948.5 1489,947.69 1493.7,946.7 C1498.78,945.63 1504.77,942.81 1509.4,942.7 C1513.04,942.61 1515.7,943.7 1519.2,944.7 C1523.43,945.91 1528.16,949.7 1532.9,949.8 C1537.94,949.91 1543.51,947.07 1548.6,944.7 C1553.99,942.19 1559.25,938.09 1564.3,934.9 C1569.03,931.9 1573.43,928 1578,926.1 C1581.93,924.47 1585.17,923.85 1589.8,923.5 C1596.27,923.02 1605.88,923.82 1613.3,925.1 C1620.19,926.29 1626.48,929.46 1632.9,930.6 C1638.9,931.67 1644.74,931.12 1650.6,932 C1656.51,932.88 1662.45,933.87 1668.2,935.9 C1674.22,938.03 1680.07,942.48 1685.9,944.7 C1691.19,946.72 1695.79,948.46 1701.6,949 C1708.59,949.65 1717.84,947 1725.1,947.1 C1731.39,947.18 1736.83,948.37 1742.7,949" fill="none" stroke="#e8c7a4" stroke-width="3.8" stroke-linecap="round" stroke-linejoin="round" stroke-dasharray="3 7.3"/>
<path d="M1228.1,969.2 C1231.17,970.43 1234.11,972.7 1237.3,972.9 C1240.6,973.11 1244.14,970.75 1247.6,970.2 C1251.01,969.66 1254.5,970.16 1257.9,969.6 C1261.34,969.03 1264.61,967.7 1268.1,966.8 C1271.76,965.86 1275.98,965.23 1279.4,964.1 C1282.4,963.11 1284.93,962.08 1287.6,960.6 C1290.44,959.02 1292.78,956.25 1295.9,954.8 C1299.26,953.24 1303.83,953.27 1307.2,951.8 C1310.27,950.46 1312.78,948.7 1315.4,946.6 C1318.27,944.3 1320.69,940.5 1323.6,938.4 C1326.19,936.53 1329.05,935.61 1331.8,934.3 C1334.52,933.01 1337.43,932.42 1340,930.6 C1342.95,928.51 1345.41,924.68 1348.2,922 C1350.88,919.43 1353.74,916.59 1356.4,914.8 C1358.52,913.38 1360.26,911.76 1362.6,911.7 C1365.58,911.62 1370.12,914.04 1372.9,916.2 C1375.51,918.22 1377.17,921.12 1379,924 C1380.97,927.11 1382.3,930.65 1384.2,934.3 C1386.38,938.49 1388.55,944.14 1391.4,947.7 C1393.81,950.71 1396.55,952.94 1399.6,954.8 C1402.67,956.68 1406.26,957.87 1409.8,958.9 C1413.42,959.95 1417.65,959.6 1421.1,961 C1424.51,962.38 1427.38,965.26 1430.4,967.2 C1433.2,969.01 1435.58,971.21 1438.6,972.3 C1441.73,973.43 1445.31,973.52 1448.9,973.7 C1452.81,973.9 1457.29,973.67 1461.2,973.3 C1464.8,972.96 1468.22,972.05 1471.5,971.7 C1474.46,971.38 1476.84,971.59 1480,971.2 C1484.04,970.7 1488.98,969.54 1493.7,968.6 C1498.76,967.59 1504.78,965.31 1509.4,965.3 C1513.05,965.29 1515.82,966.32 1519.2,967.3 C1522.99,968.4 1526.75,971.62 1531,971.8 C1535.83,972.01 1541.44,969.48 1546.7,967.3 C1552.54,964.88 1558.39,960.63 1564.3,957.5 C1570.16,954.4 1576.57,949.89 1582,948.6 C1586.18,947.61 1589.3,948.49 1593.7,948.6 C1599.4,948.75 1606.81,948.7 1613.3,949.6 C1619.87,950.52 1626.33,953.02 1632.9,954.1 C1639.4,955.17 1646.34,955.33 1652.5,956.1 C1658.03,956.79 1663.06,956.92 1668.2,958.4 C1673.54,959.93 1679.02,963.3 1683.9,965.3 C1688.09,967.02 1690.85,968.96 1695.7,969.8 C1702.84,971.04 1714.74,968.87 1723.1,969.2 C1730.19,969.48 1736.17,970.53 1742.7,971.2" fill="none" stroke="#79aedd" stroke-width="3.8" stroke-linecap="round" stroke-linejoin="round" stroke-dasharray="3 7.3"/>
<path d="M1227.5,609 C1230.03,609.67 1232.49,611.09 1235.1,611 C1237.94,610.9 1240.94,608.2 1243.9,608 C1246.81,607.8 1249.69,610.49 1252.7,609.7 C1256.8,608.62 1261.09,602.59 1265.4,598.9 C1269.91,595.04 1275.36,591.43 1279.2,587 C1282.85,582.79 1285.27,576.95 1288.1,573.1 C1290.28,570.13 1291.55,566.36 1294.4,565.6 C1297.88,564.66 1303.63,571.15 1308.2,570.6 C1313.3,569.99 1318.4,562.85 1323.4,560.5 C1327.65,558.5 1332.31,559.05 1336,556.7 C1339.96,554.18 1342.49,549.22 1346.1,545.4 C1350.01,541.26 1354.15,533.82 1358.7,532.8 C1362.64,531.91 1366.86,536.15 1371.3,537.3 C1376.05,538.53 1382.04,538.05 1386.4,539.8 C1390.3,541.37 1393.09,544.15 1396.5,546.7 C1400.24,549.5 1404.44,556.05 1407.9,556 C1410.85,555.96 1413.54,551.56 1416,549 C1418.47,546.43 1420.56,543.54 1422.7,540.6 C1424.9,537.58 1427.25,534.82 1429,531.1 C1431.11,526.61 1432.39,521.46 1433.8,515.2 C1435.76,506.5 1437.02,494.08 1438.6,483.5 C1440.18,472.91 1441.34,460.39 1443.3,451.7 C1444.7,445.49 1446.5,436 1448.1,436 C1449.7,436 1451.5,445.49 1452.9,451.7 C1454.86,460.39 1456.28,472.89 1457.6,483.5 C1458.91,494.06 1459.48,506.46 1460.8,515.2 C1461.74,521.43 1462.82,525.36 1464,531.1 C1465.4,537.89 1466.7,545.7 1468.7,553.3 C1470.86,561.53 1473.32,571.64 1476.7,578.7 C1479.41,584.37 1482.62,589.23 1486.2,593 C1489.26,596.23 1492.79,599.34 1496.3,600.5 C1499.33,601.5 1502.28,600.08 1505.7,600.5 C1509.93,601.02 1514.87,602.7 1519.7,604 C1524.94,605.41 1530.73,608.18 1536,608.7 C1540.8,609.17 1544.77,608.25 1550,607.5 C1556.81,606.52 1565.69,603.69 1573.3,602.8 C1580.47,601.96 1587.2,602.57 1594.4,602.1 C1601.98,601.6 1609.74,599.98 1617.7,599.8 C1626.05,599.62 1635.04,600.88 1643.4,601.2 C1651.35,601.5 1659.99,600.55 1666.7,601.7 C1672.04,602.61 1676.01,604.94 1680.7,606.3 C1685.34,607.64 1690.01,609.61 1694.7,609.8 C1699.35,609.99 1704.02,608.08 1708.7,607.5 C1713.36,606.92 1717.63,606.21 1722.7,606.3 C1728.73,606.41 1735.9,607.9 1742.5,608.7" fill="none" stroke="#7a3595" stroke-width="3.7" stroke-linecap="round" stroke-linejoin="round" stroke-dasharray="19.2 7.8"/>
<path d="M1227.5,630.6 C1230.03,630.97 1232.39,631.74 1235.1,631.7 C1238.23,631.65 1241.94,629.97 1245.2,629.9 C1248.23,629.84 1250.85,631.72 1254,631.1 C1258.24,630.27 1263.42,625.86 1267.9,623.1 C1272.24,620.42 1276.5,618.22 1280.5,614.8 C1284.95,610.98 1288.16,602.86 1293.1,600.9 C1297.54,599.14 1303.31,603.14 1308.2,602.1 C1313.43,600.98 1318.48,595.96 1323.4,593.8 C1327.71,591.9 1331.94,591.56 1336,589.5 C1340.36,587.29 1344.58,583.25 1348.6,580.7 C1352.1,578.48 1354.85,575.66 1358.7,574.9 C1363.1,574.03 1369.07,575.65 1373.8,576.9 C1378.27,578.08 1382.49,580.1 1386.4,582 C1390.02,583.76 1393.17,585.73 1396.5,587.8 C1399.9,589.92 1403.26,594.69 1406.6,594.6 C1410,594.51 1413.71,590.11 1416.7,587 C1419.91,583.66 1422.1,578.13 1425,575 C1427.31,572.51 1430.1,571.79 1432.2,569.2 C1434.8,565.98 1437.03,561.09 1438.6,556.5 C1440.28,551.6 1440.75,546.54 1441.7,540.6 C1442.9,533.14 1442.97,521.5 1444.9,515.2 C1446.14,511.13 1448.29,505.54 1449.7,505.7 C1451.62,505.92 1452.94,517.77 1454.4,524.8 C1456.16,533.32 1457.47,546.37 1459.2,553.3 C1460.22,557.4 1461.16,558.83 1462.4,562.9 C1464.52,569.86 1467.69,582.88 1470.3,591.4 C1472.45,598.43 1474.12,605.56 1476.7,610.5 C1478.57,614.08 1480.41,616.63 1483,619 C1485.65,621.43 1489.1,623.6 1492.5,624.8 C1495.87,625.99 1499.33,625.66 1503.3,626.2 C1508.2,626.86 1514.06,627.68 1519.7,628.5 C1525.71,629.37 1532.09,631.3 1538.3,631.3 C1544.52,631.3 1550.59,629.51 1557,628.5 C1563.8,627.42 1571.42,625.3 1578,625 C1583.79,624.73 1588.36,626.61 1594.4,626.2 C1602.02,625.69 1612.74,620.89 1620,620.8 C1625.36,620.73 1628.71,622.81 1634,623.4 C1640.78,624.16 1650.33,623.5 1657.4,624.3 C1663.35,624.98 1668.29,626.19 1673.7,627.4 C1679.15,628.62 1684.36,631.45 1690,631.6 C1696,631.76 1702.65,628.48 1708.7,627.8 C1714.29,627.17 1719.52,626.76 1725,627.4 C1730.78,628.07 1736.67,630.47 1742.5,632" fill="none" stroke="#c55d33" stroke-width="3.7" stroke-linecap="round" stroke-linejoin="round" stroke-dasharray="19.2 7.8"/>
<path d="M1227.5,658.9 C1230.03,659.33 1232.39,660.21 1235.1,660.2 C1238.23,660.19 1241.95,658.36 1245.2,658.4 C1248.24,658.44 1250.93,660.96 1254,660.2 C1258.35,659.12 1263.18,652.71 1267.9,648.8 C1272.84,644.72 1278.71,640.79 1283,636.2 C1287.01,631.91 1288.9,624.44 1293.1,622.3 C1296.69,620.47 1301.47,623.44 1305.7,622.3 C1310.69,620.95 1315.64,615.84 1320.8,613.5 C1325.75,611.26 1331.42,611.07 1336,608.4 C1340.71,605.66 1344.27,600.44 1348.6,597.1 C1352.69,593.95 1356.87,589.32 1361.2,588.8 C1365.28,588.31 1369.74,591.2 1373.8,593.3 C1378.16,595.55 1382.4,599.46 1386.4,602.1 C1389.92,604.43 1393.29,606.23 1396.5,608.4 C1399.57,610.47 1402.2,614.85 1405.3,614.8 C1408.88,614.74 1412.86,609.11 1416.7,605.9 C1420.85,602.42 1426.04,598.43 1429.3,594.6 C1431.96,591.47 1433.74,589.11 1435.4,585.1 C1437.75,579.41 1438.73,570.99 1440.2,562.9 C1441.95,553.28 1442.9,538.51 1444.9,531.1 C1446.03,526.92 1447.46,521.5 1448.7,521.6 C1450.67,521.76 1452.57,537.65 1454.4,547 C1456.63,558.39 1458.86,575.83 1460.8,585.1 C1461.93,590.5 1462.66,592.73 1464,597.8 C1466.01,605.42 1468.5,618.36 1471.9,626.3 C1474.59,632.58 1478.54,637.98 1481.4,642.2 C1483.42,645.17 1484.44,647.66 1487,649.5 C1489.97,651.63 1494.42,652.48 1498.7,653.5 C1503.63,654.68 1509.11,654.7 1515,655.8 C1522.1,657.12 1530.75,661.36 1538.3,661.2 C1545.5,661.05 1552.49,657.2 1559.3,655.4 C1565.7,653.71 1571.72,651.39 1578,650.7 C1584.19,650.02 1590.14,651.57 1596.7,651.2 C1604.06,650.78 1612.21,648.18 1620,647.9 C1627.78,647.62 1635.6,649.12 1643.4,649.5 C1651.17,649.88 1659.77,648.57 1666.7,650.2 C1672.78,651.63 1677.45,655.94 1683,657.7 C1688.35,659.39 1693.93,660.51 1699.4,660.7 C1704.83,660.89 1709.59,658.92 1715.7,658.9 C1723.53,658.88 1733.57,660.77 1742.5,661.7" fill="none" stroke="#5e9646" stroke-width="3.7" stroke-linecap="round" stroke-linejoin="round" stroke-dasharray="19.2 7.8"/>
<path d="M1227.5,694.2 C1230.03,694.37 1232.4,694.85 1235.1,694.7 C1238.24,694.53 1241.95,692.86 1245.2,692.9 C1248.24,692.94 1250.97,695.56 1254,694.7 C1258.42,693.44 1263.2,686.16 1267.9,681.6 C1272.86,676.78 1278.31,671.65 1283,666.5 C1287.51,661.54 1290.65,652.71 1295.6,651.3 C1300.06,650.03 1305.91,657.11 1310.8,656.4 C1316.04,655.64 1320.89,648.12 1325.9,645.8 C1330.11,643.85 1334.86,644.86 1338.5,642.5 C1342.56,639.87 1344.98,633.3 1348.6,629.9 C1351.77,626.92 1354.8,623.59 1358.7,622.8 C1363.06,621.92 1368.75,625.13 1373.8,626.1 C1378.82,627.06 1384.61,626.56 1388.9,628.6 C1392.92,630.51 1395.67,634.87 1399,637.5 C1402,639.87 1404.74,643.76 1407.9,643.8 C1411.43,643.84 1415.83,639.58 1419.2,636.2 C1423.09,632.3 1426.35,626.41 1429.3,621.1 C1432.29,615.72 1435.2,610.49 1437,604.1 C1439.11,596.62 1439.2,587.64 1440.2,578.7 C1441.32,568.73 1441.66,555.43 1443.3,547 C1444.42,541.23 1446.05,532.68 1447.5,532.7 C1449.23,532.73 1451.54,545.18 1452.9,553.3 C1454.79,564.63 1454.73,582.97 1456,594.6 C1456.94,603.16 1457.7,609.19 1459.2,616.8 C1460.82,625.02 1462.73,633.36 1465.6,642.2 C1468.88,652.31 1472.54,666.43 1478.3,674 C1482.68,679.76 1488.69,683.89 1494.1,686 C1498.64,687.77 1503.4,686.4 1508,687.3 C1512.7,688.22 1517.12,690.31 1522,691.5 C1527.2,692.77 1532.53,694.69 1538.3,694.6 C1544.87,694.49 1552.48,691.21 1559.3,689.9 C1565.69,688.67 1571.75,687.4 1578,686.9 C1584.21,686.4 1590.3,687.32 1596.7,686.9 C1603.51,686.45 1610.69,684.22 1617.7,684.1 C1624.69,683.99 1631.69,685.93 1638.7,686.2 C1645.69,686.47 1652.76,684.84 1659.7,685.7 C1666.76,686.57 1673.86,689.99 1680.7,691.5 C1687.08,692.9 1693.17,694.49 1699.4,694.6 C1705.6,694.71 1711.37,692.34 1718,692.2 C1725.6,692.04 1734.33,693.6 1742.5,694.3" fill="none" stroke="#968a7e" stroke-width="3.7" stroke-linecap="round" stroke-linejoin="round" stroke-dasharray="19.2 7.8"/>
<path d="M1227.5,716.4 C1230.03,717 1232.39,718.23 1235.1,718.2 C1238.23,718.17 1241.94,715.68 1245.2,715.6 C1248.23,715.52 1250.84,717.92 1254,717.4 C1258.23,716.7 1263.35,712.65 1267.9,709.3 C1273.03,705.52 1278.15,699.75 1283,695.5 C1287.35,691.69 1291.17,685.65 1295.6,684.9 C1299.61,684.22 1303.75,690.09 1308.2,689.7 C1313.71,689.21 1320.65,680.92 1325.9,679.1 C1329.59,677.82 1332.82,679.17 1336,677.8 C1339.6,676.24 1342.48,672.21 1346.1,669.5 C1350.01,666.57 1354.08,662.03 1358.7,660.9 C1363.31,659.77 1368.8,661.78 1373.8,662.7 C1378.86,663.63 1384.5,664.63 1388.9,666.5 C1392.75,668.14 1395.88,670.8 1399,672.8 C1401.72,674.55 1403.84,678.01 1406.6,677.8 C1410.37,677.52 1415.47,670.81 1419.2,666.5 C1423.07,662.02 1426.41,657.68 1429.3,651.3 C1433.34,642.37 1436.07,626.61 1438.6,616.8 C1440.48,609.54 1441.3,603.6 1443.3,597.8 C1445.09,592.61 1447.84,583.4 1449.7,583.5 C1451.53,583.59 1453.07,591.63 1454.4,597.8 C1456.7,608.43 1457.78,628.63 1459.2,642.2 C1460.4,653.68 1459.83,664.18 1462.4,674 C1464.79,683.14 1469.68,694.22 1473.5,699.4 C1475.63,702.28 1477.33,703.32 1480,705 C1483.37,707.12 1488.02,709.15 1492.5,710.5 C1497.31,711.95 1502.6,712.15 1508,713.2 C1513.95,714.35 1520.44,716.33 1526.7,717.2 C1532.88,718.06 1538.96,719 1545.3,718.4 C1552.14,717.76 1559.69,714.17 1566.3,713 C1572.06,711.98 1576.89,711.85 1582.7,711.4 C1589.26,710.89 1597.15,710.71 1603.7,710.2 C1609.48,709.75 1614.07,708.69 1620,708.6 C1627.09,708.5 1635.6,709.82 1643.4,710.2 C1651.17,710.58 1659.4,710.02 1666.7,710.9 C1673.31,711.7 1679.36,713.83 1685.4,714.9 C1691,715.89 1695.91,717.01 1701.7,717.2 C1708.25,717.41 1715.81,715.46 1722.7,715.6 C1729.4,715.73 1735.9,717.13 1742.5,717.9" fill="none" stroke="#e8c7a4" stroke-width="3.7" stroke-linecap="round" stroke-linejoin="round" stroke-dasharray="19.2 7.8"/>
<path d="M1227.5,745.9 C1230.03,746.73 1232.39,748.4 1235.1,748.4 C1238.23,748.4 1241.69,745.53 1245.2,745.1 C1248.82,744.65 1252.66,746.74 1256.5,745.9 C1261.04,744.91 1266.07,740.27 1270.4,738.3 C1273.97,736.68 1276.88,736.73 1280.5,734.6 C1285.82,731.47 1292.78,722.56 1298.1,719.4 C1301.72,717.25 1304.8,717.97 1308.2,715.6 C1313.19,712.12 1318.47,701.85 1323.4,698 C1326.84,695.32 1330.04,695.51 1333.5,692.9 C1338.35,689.23 1344.02,681.25 1348.6,676.5 C1352.26,672.71 1355.04,667.42 1358.7,666.5 C1361.85,665.71 1365.85,667.81 1368.8,669.5 C1371.71,671.16 1374.11,673.22 1376.3,676.5 C1379.48,681.25 1380.89,690.3 1383.9,696.7 C1386.82,702.92 1390.28,709.52 1394,714.4 C1397.12,718.48 1400.02,722.19 1404.1,724.5 C1408.36,726.92 1414.03,726.56 1419.2,728.3 C1424.96,730.24 1431.45,736.18 1437,735.9 C1442.09,735.64 1446.38,728.11 1451.3,728 C1456.41,727.88 1462.04,733.64 1467.1,735.8 C1471.56,737.71 1475.78,739.17 1480,740.5 C1483.97,741.75 1487.63,743.61 1491.7,743.6 C1496.16,743.59 1501.25,739.81 1505.7,739.8 C1509.75,739.79 1513.12,741.67 1517.3,742.9 C1522.31,744.38 1528.22,748.03 1533.7,748.2 C1539.12,748.36 1544.86,746.68 1550,744 C1555.81,740.97 1560.96,734.13 1566.3,730 C1571.07,726.31 1575.26,721.52 1580.4,720.2 C1585.42,718.91 1590.79,721.21 1596.7,721.9 C1603.78,722.72 1612.24,723.74 1620,724.9 C1627.8,726.07 1636.29,727.94 1643.4,728.9 C1649.31,729.69 1654.04,729.06 1659.7,730.5 C1666.38,732.2 1673.89,736.61 1680.7,739.4 C1687.1,742.02 1693.06,745.87 1699.4,746.8 C1705.5,747.69 1711.37,745.17 1718,745.2 C1725.61,745.23 1734.33,746.73 1742.5,747.5" fill="none" stroke="#79aedd" stroke-width="3.7" stroke-linecap="round" stroke-linejoin="round" stroke-dasharray="19.2 7.8"/>
<path d="M1227.7,330.3 C1230.4,331.67 1233.09,334.52 1235.8,334.4 C1238.68,334.27 1241.42,329.09 1244.5,329 C1247.88,328.91 1252.12,335.8 1255.3,334.9 C1259.44,333.72 1262.01,322.61 1265.6,316.8 C1269.08,311.16 1273.27,306.58 1276.5,300.5 C1280.14,293.65 1282.53,283.82 1285.9,277.5 C1288.49,272.64 1291.26,265.73 1294.1,265.3 C1296.27,264.97 1298.59,268.57 1300.8,270.7 C1303.36,273.16 1305.96,279.51 1308.4,279.4 C1310.93,279.29 1313.18,272.8 1315.7,269.4 C1318.34,265.84 1320.62,261.33 1323.9,258.5 C1327.01,255.81 1331.5,255.8 1334.7,252.6 C1339.03,248.26 1341.44,239.11 1345.5,232.8 C1349.57,226.48 1353.28,216.84 1359.1,214.7 C1364.68,212.65 1374.02,219.57 1379.4,219.3 C1383.03,219.12 1385.74,215.41 1388.4,216.3 C1391.72,217.4 1393.89,223.76 1396.8,228.4 C1400.48,234.27 1404.66,248.74 1408.4,248.9 C1411.45,249.03 1414.72,240.92 1417.3,235.9 C1420.34,229.98 1422.78,222.38 1424.8,215.3 C1426.87,208.06 1428.12,200.53 1429.5,192.9 C1430.93,185.01 1432.14,176.25 1433.2,168.7 C1434.13,162.07 1434.8,156.97 1435.6,150 C1436.61,141.18 1437.57,129.86 1438.6,120 C1439.6,110.4 1440.78,101.09 1441.7,91.6 C1442.62,82.09 1443.11,71.39 1444.1,63 C1444.88,56.35 1445.9,45.2 1446.8,45.2 C1447.7,45.2 1448.71,56.35 1449.5,63 C1450.5,71.39 1451.15,81.36 1452,91.6 C1452.98,103.46 1453.96,116.36 1455,130 C1456.18,145.57 1457.55,166.64 1458.7,180 C1459.47,188.95 1460.08,194.94 1460.9,202.4 C1461.72,209.87 1462.6,217.34 1463.6,224.8 C1464.6,232.27 1465.73,239.74 1466.9,247.2 C1468.07,254.67 1469.05,262.44 1470.6,269.6 C1472.06,276.34 1473.66,282.73 1475.8,289 C1477.91,295.16 1480.5,301.87 1483.3,306.9 C1485.57,310.98 1487.67,315.22 1490.7,317.3 C1493.29,319.08 1496.69,318.9 1499.7,319.6 C1502.69,320.3 1505.62,320.35 1508.7,321.5 C1512.35,322.87 1515.88,325.89 1520,327.8 C1524.6,329.94 1529.77,332.93 1535.1,333.5 C1540.76,334.1 1546.98,332.11 1553.1,330.8 C1559.66,329.4 1567.43,325.7 1573.2,325.2 C1577.44,324.83 1580.25,326.59 1584.4,326.3 C1589.72,325.92 1596.59,323.04 1602.4,321.9 C1607.76,320.85 1612.63,319.39 1618,319.6 C1623.81,319.83 1630.68,323.1 1636,323.7 C1640.14,324.17 1643.49,324.11 1647.2,323.7 C1650.96,323.29 1654.66,321.31 1658.4,321.2 C1662.12,321.09 1665.86,321.53 1669.6,323 C1674.06,324.76 1678.13,330.02 1683,332 C1687.84,333.97 1693.48,335.01 1698.7,334.9 C1703.94,334.79 1709.34,331.74 1714.4,331.3 C1719.01,330.9 1723.25,331.48 1727.8,332 C1732.58,332.55 1737.53,333.73 1742.4,334.6" fill="none" stroke="#7a3595" stroke-width="4" stroke-linecap="round" stroke-linejoin="round"/>
<path d="M1227.7,362.8 C1230.4,364 1233.06,366.43 1235.8,366.4 C1238.66,366.37 1241.43,362.36 1244.5,362.3 C1247.89,362.24 1251.91,367.89 1255.3,366.9 C1260.05,365.51 1264.11,353.82 1268.3,347.9 C1272.05,342.6 1276.12,338.57 1279.2,333 C1282.55,326.94 1284.17,317.45 1287.3,312.7 C1289.38,309.55 1291.45,305.9 1294.1,305.9 C1297.84,305.91 1302.98,319.49 1307.6,319.5 C1312.44,319.51 1317.47,308.83 1322.5,304.6 C1326.95,300.86 1332.09,299.24 1336,295.1 C1340.38,290.46 1343.01,283.1 1346.9,277.5 C1350.72,272.01 1353.75,263.87 1359.1,261.8 C1364.54,259.69 1374.02,265.65 1379.4,265.3 C1383.04,265.06 1385.78,261.48 1388.4,262.5 C1391.88,263.85 1393.6,272.16 1396.8,276.9 C1400.21,281.94 1404.78,291.78 1408.4,291.8 C1411.55,291.82 1414.76,285.14 1417.3,280.6 C1420.44,274.99 1422.69,267.42 1424.8,260.1 C1427.14,252 1428.86,242.88 1430.4,234 C1431.98,224.86 1432.93,216.01 1434.1,206 C1435.45,194.47 1436.77,179 1437.9,168.7 C1438.7,161.4 1439.26,156.97 1440.1,150 C1441.16,141.17 1442.34,127.59 1443.8,120 C1444.71,115.26 1445.8,108.6 1446.8,108.6 C1447.8,108.6 1448.94,115.26 1449.8,120 C1451.17,127.59 1451.82,140 1452.8,150 C1453.78,160 1454.85,170 1455.7,180 C1456.55,189.97 1457.09,199.38 1457.9,209.9 C1458.8,221.65 1459.84,235.47 1460.9,247.2 C1461.85,257.7 1462.61,267.34 1463.9,277 C1465.13,286.22 1466.48,295.72 1468.4,303.9 C1470.05,310.95 1472.32,317.28 1474.3,323.3 C1476.05,328.62 1477.62,334.12 1479.6,338.2 C1481.11,341.32 1482.7,343.55 1484.5,346 C1486.27,348.41 1487.52,351.22 1490.3,352.8 C1494.02,354.92 1501.54,354.31 1506,355.5 C1509.46,356.42 1511.6,357.47 1515,358.8 C1519.53,360.57 1525.37,364.31 1530.7,365.3 C1535.81,366.25 1540.85,365.91 1546.3,364.9 C1552.69,363.71 1559.87,358.92 1566.5,357.7 C1572.56,356.58 1578.87,357.83 1584.4,357.3 C1589.24,356.84 1593.16,355.91 1597.9,355 C1603.2,353.98 1608.92,351.53 1614.7,351.4 C1620.83,351.26 1628.18,354.14 1633.7,354.6 C1637.91,354.95 1641,354.89 1644.9,354.6 C1649.2,354.28 1654.24,352.42 1658.4,352.6 C1662.03,352.76 1664.94,353.59 1668.5,355 C1673.02,356.79 1678.11,361.43 1683,363.3 C1687.45,365 1691.83,366.23 1696.5,366.2 C1701.54,366.17 1707.14,363.04 1712.2,362.6 C1716.81,362.2 1720.9,362.77 1725.6,363.3 C1730.9,363.89 1736.8,365.23 1742.4,366.2" fill="none" stroke="#5e9646" stroke-width="4" stroke-linecap="round" stroke-linejoin="round"/>
<path d="M1227.7,404.8 C1230.4,406.43 1232.81,409.35 1235.8,409.7 C1239.09,410.09 1243.32,405.99 1246.7,406.2 C1249.78,406.39 1252.49,411.02 1255.3,410.2 C1259.78,408.9 1264.28,396.74 1268.3,389.9 C1272.23,383.21 1275.35,377.08 1279.2,369.6 C1283.86,360.55 1288.43,340.19 1294.1,339.3 C1298.62,338.59 1304.06,354.94 1309,354.7 C1314.44,354.44 1319.96,339.09 1325.2,334.4 C1328.88,331.11 1332.78,331.05 1336,327.6 C1340.32,322.97 1342.97,313.72 1346.9,307.3 C1350.69,301.11 1353.62,291.83 1359.1,289.7 C1364.5,287.6 1374.05,294.8 1379.4,294.3 C1383.07,293.96 1385.73,289.61 1388.4,290.4 C1391.71,291.38 1393.89,298.16 1396.8,303 C1400.49,309.14 1404.68,324.37 1408.4,324.5 C1411.47,324.61 1414.76,316 1417.3,310.5 C1420.45,303.68 1422.66,294.64 1424.8,286.2 C1427.07,277.25 1428.74,267.98 1430.4,258.2 C1432.21,247.56 1433.73,236.19 1435.1,224.7 C1436.55,212.59 1437.72,199.76 1438.8,187.3 C1439.88,174.86 1440.57,160.65 1441.6,150 C1442.38,141.99 1442.96,134.5 1444.1,129 C1444.86,125.33 1445.92,120 1446.8,120 C1447.68,120 1448.72,125.33 1449.4,129 C1450.42,134.5 1450.59,142.38 1451.2,150 C1451.92,159.11 1452.71,169 1453.4,180 C1454.24,193.44 1454.82,209.87 1455.7,224.8 C1456.58,239.74 1457.52,255.36 1458.7,269.6 C1459.78,282.61 1460.96,295.03 1462.4,306.9 C1463.72,317.81 1464.88,329.37 1466.9,338.2 C1468.43,344.89 1470.13,349.03 1472.4,355.5 C1475.38,363.98 1478.9,377.77 1483.6,384.6 C1486.87,389.35 1490.75,392.91 1494.8,394.7 C1498.3,396.24 1502,394.44 1506,395.8 C1511.47,397.67 1517.9,404.79 1523.9,407 C1529.11,408.91 1534.24,409.72 1539.6,409.3 C1545.42,408.84 1551.93,405.27 1557.5,403.7 C1562.3,402.35 1566.14,400.97 1571,400.3 C1576.51,399.54 1582.25,400.53 1588.9,399.8 C1597.46,398.86 1609.47,394.12 1618,394.2 C1624.72,394.26 1630.68,397.44 1636,398 C1640.15,398.43 1643.47,398.25 1647.2,398 C1650.94,397.75 1654.59,396.34 1658.4,396.5 C1662.42,396.67 1666.39,397.62 1670.7,399.2 C1675.99,401.14 1682.36,406.1 1687.5,408.1 C1691.51,409.66 1694.97,411 1698.7,411 C1702.43,411 1706.15,408.95 1709.9,408.1 C1713.62,407.25 1716.78,405.81 1721.1,405.9 C1727.08,406.02 1735.3,409.3 1742.4,411" fill="none" stroke="#e8c7a4" stroke-width="4" stroke-linecap="round" stroke-linejoin="round"/>
<path d="M1227.7,448.1 C1230.4,447.67 1233.22,447.9 1235.8,446.8 C1238.69,445.57 1241.01,440.69 1244,440.6 C1247.43,440.49 1251.72,448.79 1255.3,448.1 C1259.95,447.2 1264.18,435.28 1268.3,429.2 C1272.11,423.58 1275.54,419.4 1279.2,412.9 C1284.11,404.19 1288.27,382.09 1294.1,381 C1298.56,380.17 1304.1,395.62 1309,395.3 C1314.49,394.94 1319.53,380.41 1325.2,375 C1329.97,370.44 1335.42,369.34 1340.1,364.2 C1346.51,357.16 1350.06,339.76 1357.7,334.4 C1363.8,330.12 1373.63,331.24 1379.4,330.3 C1383.2,329.68 1386.16,327.55 1388.9,329 C1392.97,331.15 1395.27,340.71 1398.3,347.9 C1402.09,356.9 1404.26,378.26 1409.2,379.1 C1413.58,379.85 1421.58,367.34 1425.4,358.8 C1430.22,348.02 1430.44,332.72 1432.3,318 C1434.47,300.85 1435.7,279.83 1437,262 C1438.19,245.73 1438.73,230.09 1439.9,215.3 C1440.96,201.89 1441.93,186.3 1443.6,177 C1444.58,171.54 1445.9,164.18 1447,164.2 C1448.17,164.22 1449.51,173.13 1450.4,179 C1451.67,187.39 1451.98,199.11 1452.7,209.9 C1453.49,221.75 1454.08,234.2 1454.9,247.2 C1455.8,261.45 1457.16,277.51 1457.9,292 C1458.6,305.63 1458.36,318.64 1459.3,331.7 C1460.22,344.5 1461.69,357.75 1463.4,369.6 C1464.93,380.16 1466.41,390.04 1468.8,399.4 C1471,408.02 1473.4,417.61 1476.9,423.8 C1479.47,428.34 1482.53,432.32 1485.9,434.3 C1488.63,435.9 1491.51,435.71 1494.8,436.1 C1498.82,436.58 1504.35,435.68 1508.3,436.6 C1511.66,437.39 1513.95,439.01 1517.2,440.6 C1521.26,442.59 1526.08,447.12 1530.7,447.8 C1535.06,448.44 1539.77,446.75 1544.1,445.1 C1548.72,443.35 1552.88,440.07 1557.5,437.3 C1562.55,434.27 1567.74,429.32 1573.2,427.6 C1578.24,426.01 1583.2,427.03 1588.9,426.7 C1595.71,426.31 1605.12,425.22 1611.3,425.4 C1615.68,425.53 1618.79,426.04 1622.5,426.7 C1626.25,427.37 1629.49,428.95 1633.7,429.4 C1638.96,429.97 1646.42,428.71 1651.7,429 C1655.88,429.23 1659.23,429.53 1662.9,430.5 C1666.7,431.5 1670.31,432.99 1674.1,435 C1678.49,437.32 1682.81,442.15 1687.5,444 C1691.81,445.71 1696.17,446.05 1701,446.2 C1706.54,446.37 1712.53,444.33 1718.9,444.4 C1726.21,444.48 1734.57,446.33 1742.4,447.3" fill="none" stroke="#79aedd" stroke-width="4" stroke-linecap="round" stroke-linejoin="round"/>
<rect x="1226.2" y="16.7" width="519.1" height="973.1" fill="none" stroke="#000" stroke-width="3.4"/>
<text transform="translate(53.92,23.8) scale(0.9510,1)" font-size="33">1.50</text>
<text transform="translate(53.92,101.8) scale(0.9510,1)" font-size="33">1.00</text>
<text transform="translate(57.7,179.8) scale(0.9626,1)" font-size="33">0.50</text>
<text transform="translate(79,256.9) scale(1.0413,1)" font-size="33">0</text>
<text transform="translate(51.97,335.4) scale(0.9564,1)" font-size="33">-0.50</text>
<text transform="translate(48.76,414) scale(0.9619,1)" font-size="33">-1.00</text>
<text transform="translate(48.55,487.8) scale(0.9689,1)" font-size="33">-1.50</text>
<text transform="translate(57.33,528.5) scale(0.9461,1)" font-size="33">1.50</text>
<text transform="translate(57.51,607.7) scale(0.9544,1)" font-size="33">1.00</text>
<text transform="translate(60.59,686) scale(0.9659,1)" font-size="33">0.50</text>
<text transform="translate(82.05,763.4) scale(1.0032,1)" font-size="33">0</text>
<text transform="translate(55.16,841) scale(0.9633,1)" font-size="33">-0.50</text>
<text transform="translate(51.98,919.2) scale(0.9481,1)" font-size="33">-1.00</text>
<text transform="translate(51.99,992.9) scale(0.9426,1)" font-size="33">-1.50</text>
<text transform="translate(603.03,529.6) scale(0.9660,1)" font-size="29">1.50</text>
<text transform="translate(602.91,607.8) scale(0.9717,1)" font-size="29">1.00</text>
<text transform="translate(606.33,685.1) scale(0.9696,1)" font-size="29">0.50</text>
<text transform="translate(627.56,762.8) scale(1.0357,1)" font-size="29">0</text>
<text transform="translate(600.29,840.7) scale(0.9663,1)" font-size="29">-0.50</text>
<text transform="translate(600.33,919.1) scale(0.9365,1)" font-size="29">-1.00</text>
<text transform="translate(600.33,992.8) scale(0.9365,1)" font-size="29">-1.50</text>
<text transform="translate(602.52,24.9) scale(0.9784,1)" font-size="28.5" fill="#595959">0.15</text>
<text transform="translate(602.42,102.8) scale(0.9784,1)" font-size="28.5" fill="#595959">0.10</text>
<text transform="translate(605.51,180.8) scale(0.9897,1)" font-size="28.5" fill="#595959">0.05</text>
<text transform="translate(627.02,258.1) scale(0.9818,1)" font-size="28.5" fill="#595959">0</text>
<text transform="translate(600.98,336.8) scale(0.9760,1)" font-size="28.5" fill="#595959">-0.05</text>
<text transform="translate(601.01,414.1) scale(0.9536,1)" font-size="28.5" fill="#595959">-0.10</text>
<text transform="translate(599.27,486.4) scale(0.9840,1)" font-size="28.5" fill="#595959">-0.15</text>
<text transform="translate(99.57,509.4) scale(0.9550,1)" font-size="33">-1.20</text>
<text transform="translate(211.56,509.4) scale(0.9578,1)" font-size="33">-0.60</text>
<text transform="translate(356.2,509.4) scale(0.9587,1)" font-size="33">0</text>
<text transform="translate(451.6,509.4) scale(0.9626,1)" font-size="33">0.60</text>
<text transform="translate(554.68,509.4) scale(0.9295,1)" font-size="33">1.20</text>
<text transform="translate(634.86,511) scale(0.9606,1)" font-size="33" fill="#595959">-1.20</text>
<text transform="translate(748.86,511) scale(0.9606,1)" font-size="33" fill="#595959">-0.60</text>
<text transform="translate(893.08,511) scale(0.9778,1)" font-size="33" fill="#595959">0</text>
<text transform="translate(989,511) scale(0.9610,1)" font-size="33" fill="#595959">0.60</text>
<text transform="translate(1097.83,511) scale(0.9494,1)" font-size="33" fill="#595959">1.20</text>
<text transform="translate(97.06,1019.6) scale(0.9578,1)" font-size="33">-1.20</text>
<text transform="translate(208.87,1019.6) scale(0.9564,1)" font-size="33">-0.60</text>
<text transform="translate(357.12,1019.6) scale(0.9460,1)" font-size="33">0</text>
<text transform="translate(449.92,1019.6) scale(0.9431,1)" font-size="33">0.60</text>
<text transform="translate(553.82,1019.6) scale(0.9510,1)" font-size="33">1.20</text>
<text transform="translate(631.69,1019.6) scale(0.9412,1)" font-size="33">-1.20</text>
<text transform="translate(744.36,1019.6) scale(0.9633,1)" font-size="33">-0.60</text>
<text transform="translate(891.98,1019.6) scale(1.0540,1)" font-size="33">0</text>
<text transform="translate(984.89,1019.6) scale(0.9707,1)" font-size="33">0.60</text>
<text transform="translate(1093.79,1019.6) scale(0.9627,1)" font-size="33">1.20</text>
<text transform="translate(1222.87,1017.6) scale(0.9327,1)" font-size="33">200</text>
<text transform="translate(1308.68,1017.6) scale(0.9623,1)" font-size="33">400</text>
<text transform="translate(1394.8,1017.6) scale(0.9692,1)" font-size="33">600</text>
<text transform="translate(1481.56,1017.6) scale(0.9627,1)" font-size="33">800</text>
<text transform="translate(1560.83,1017.6) scale(0.9496,1)" font-size="33">1000</text>
<text transform="translate(1647.92,1017.6) scale(0.9511,1)" font-size="33">1200</text>
<text transform="translate(145,50.2) scale(0.9814,1)" font-size="32.5">#1 Cooling</text>
<text transform="translate(564,50.1) scale(0.8596,1)" font-size="43">A</text>
<text transform="translate(681.71,49.9) scale(0.9928,1)" font-size="32.5">(zoom in)</text>
<text transform="translate(1098.82,48.5) scale(0.9099,1)" font-size="42.5">B</text>
<text transform="translate(148.9,558.7) scale(0.8809,1)" font-size="32.5">#2 DSC</text>
<text transform="translate(563.83,555.2) scale(0.8296,1)" font-size="43">C</text>
<text transform="translate(686.6,558.9) scale(0.9112,1)" font-size="33">#3 MP</text>
<text transform="translate(1102.57,555.6) scale(0.9804,1)" font-size="43">D</text>
<text transform="translate(1238.01,55.7) scale(0.7398,1)" font-size="43">E</text>
<text transform="translate(1585.6,280.4) scale(0.9225,1)" font-size="32.5">#3 MP</text>
<text transform="translate(1586.2,564.3) scale(0.8916,1)" font-size="32.5">#2 DSC</text>
<text transform="translate(1583.9,826.7) scale(0.9695,1)" font-size="33">#1 Cooling</text>
<line x1="149.4" y1="307.6" x2="186.8" y2="307.6" stroke="#6143a0" stroke-width="5.2" stroke-linecap="round"/>
<text transform="translate(197.98,316.5) scale(0.8947,1)" font-size="33">0.1 °C min</text>
<text transform="translate(336.74,305.3) scale(0.8852,1)" font-size="19">-1</text>
<line x1="149.4" y1="335" x2="186.8" y2="335" stroke="#c55d33" stroke-width="5.2" stroke-linecap="round"/>
<text transform="translate(197.98,344.3) scale(0.8947,1)" font-size="33">0.2 °C min</text>
<text transform="translate(336.74,333.1) scale(0.8852,1)" font-size="19">-1</text>
<line x1="149.4" y1="364" x2="186.8" y2="364" stroke="#5e9646" stroke-width="5.2" stroke-linecap="round"/>
<text transform="translate(197.98,373.3) scale(0.8947,1)" font-size="33">0.3 °C min</text>
<text transform="translate(336.74,362.1) scale(0.8852,1)" font-size="19">-1</text>
<line x1="149.4" y1="393.3" x2="186.8" y2="393.3" stroke="#968a7e" stroke-width="5.2" stroke-linecap="round"/>
<text transform="translate(197.98,403.2) scale(0.8947,1)" font-size="33">0.4 °C min</text>
<text transform="translate(336.74,392) scale(0.8852,1)" font-size="19">-1</text>
<line x1="149.4" y1="423.4" x2="186.8" y2="423.4" stroke="#e8c7a4" stroke-width="5.2" stroke-linecap="round"/>
<text transform="translate(197.98,433) scale(0.8947,1)" font-size="33">0.5 °C min</text>
<text transform="translate(336.74,421.8) scale(0.8852,1)" font-size="19">-1</text>
<line x1="149.4" y1="450.2" x2="186.8" y2="450.2" stroke="#79aedd" stroke-width="5.2" stroke-linecap="round"/>
<text transform="translate(197.28,461.5) scale(0.9442,1)" font-size="33">rapid quenched</text>
<line x1="1483.4" y1="42.6" x2="1520.6" y2="42.6" stroke="#7a3595" stroke-width="5.2" stroke-linecap="round"/>
<text transform="translate(1528.38,50.5) scale(0.8954,1)" font-size="33">0.1 °C min</text>
<text transform="translate(1668.24,39.3) scale(0.8852,1)" font-size="19">-1</text>
<line x1="1483.4" y1="70.1" x2="1520.6" y2="70.1" stroke="#c55d33" stroke-width="5.2" stroke-linecap="round"/>
<text transform="translate(1528.38,78.6) scale(0.8954,1)" font-size="33">0.2 °C min</text>
<text transform="translate(1668.24,67.4) scale(0.8852,1)" font-size="19">-1</text>
<line x1="1483.4" y1="99.4" x2="1520.6" y2="99.4" stroke="#5e9646" stroke-width="5.2" stroke-linecap="round"/>
<text transform="translate(1528.38,107.6) scale(0.8954,1)" font-size="33">0.3 °C min</text>
<text transform="translate(1668.24,96.4) scale(0.8852,1)" font-size="19">-1</text>
<line x1="1483.4" y1="128.3" x2="1520.6" y2="128.3" stroke="#968a7e" stroke-width="5.2" stroke-linecap="round"/>
<text transform="translate(1528.38,137.3) scale(0.8954,1)" font-size="33">0.4 °C min</text>
<text transform="translate(1668.24,126.1) scale(0.8852,1)" font-size="19">-1</text>
<line x1="1483.4" y1="158.4" x2="1520.6" y2="158.4" stroke="#e8c7a4" stroke-width="5.2" stroke-linecap="round"/>
<text transform="translate(1528.38,167.2) scale(0.8954,1)" font-size="33">0.5 °C min</text>
<text transform="translate(1668.24,156) scale(0.8852,1)" font-size="19">-1</text>
<line x1="1483.4" y1="185.2" x2="1520.6" y2="185.2" stroke="#79aedd" stroke-width="5.2" stroke-linecap="round"/>
<text transform="translate(1527.68,195.1) scale(0.9429,1)" font-size="33">rapid quenched</text>
<text transform="translate(982.01,332.9) scale(0.9510,1)" font-size="31">0.4 °C min</text>
<text transform="translate(1120.34,321.7) scale(0.8852,1)" font-size="19">-1</text>
<text transform="translate(922.01,367.2) scale(0.9538,1)" font-size="31">0.5 °C min</text>
<text transform="translate(1061.34,356) scale(0.8852,1)" font-size="19">-1</text>
<polygon points="982.8,241.9 963.9,266.7 987.7,272.7" fill="#231f20"/>
<line x1="958.3" y1="338.5" x2="975.8" y2="267.7" stroke="#231f20" stroke-width="3.4" stroke-linecap="butt"/>
<polygon points="1009.7,238.7 994.7,266.7 1019.5,268.5" fill="#231f20"/>
<line x1="1004.1" y1="304.9" x2="1007.1" y2="265.6" stroke="#231f20" stroke-width="3.4" stroke-linecap="butt"/>
<rect x="26" y="19" width="7" height="228.5" fill="#231f20"/>
<rect x="26" y="754" width="7" height="233" fill="#231f20"/>
<text transform="translate(32.3,726.8) rotate(-90)" font-size="38.5" textLength="459.5" lengthAdjust="spacingAndGlyphs">Adjusted Moment (Am<tspan font-size="23" dy="-14.5">2</tspan><tspan dy="14.5">/kg)</tspan></text>
<rect x="128.7" y="1050.3" width="337.6" height="6.4" fill="#231f20"/>
<rect x="801.2" y="1050.3" width="336" height="6.4" fill="#231f20"/>
<text transform="translate(482.16,1060.5) scale(0.9809,1)" font-size="38">Magnetic Field (T)</text>
<text transform="translate(1352.03,1060.5) scale(0.9907,1)" font-size="37.5">Raman shift (cm</text>
<text transform="translate(1620.4,1046.4) scale(1.1045,1)" font-size="21">-1</text>
<text transform="translate(1644.31,1060.5) scale(0.7600,1)" font-size="37.5">)</text>
<text transform="translate(1198.3,655.6) rotate(-90)" font-size="37.5" textLength="338.5" lengthAdjust="spacingAndGlyphs">Intensity (arb. units)</text>
</svg>
</body></html>
